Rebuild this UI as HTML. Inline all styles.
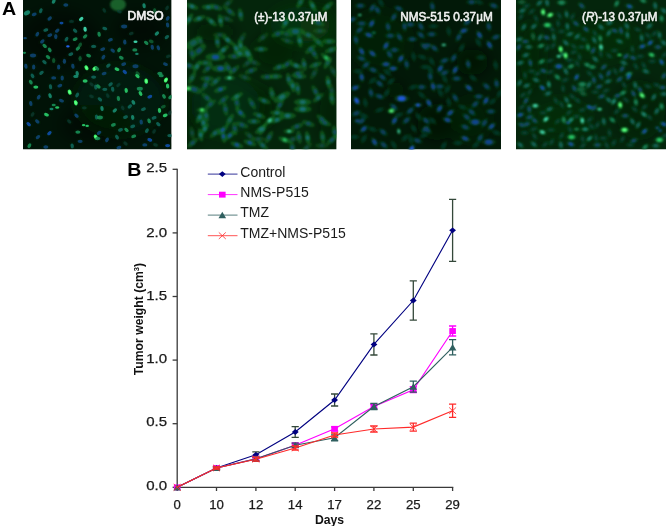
<!DOCTYPE html>
<html><head><meta charset="utf-8"><title>Figure</title>
<style>html,body{margin:0;padding:0;background:#fff}svg{display:block}</style></head>
<body><svg width="666" height="526" viewBox="0 0 666 526">
<rect width="666" height="526" fill="#fff"/>
<defs>
<filter id="blp1" filterUnits="userSpaceOnUse" x="0" y="-20" width="666" height="190"><feGaussianBlur stdDeviation="0.75"/></filter>
<filter id="blp2" filterUnits="userSpaceOnUse" x="0" y="-20" width="666" height="190"><feGaussianBlur stdDeviation="0.80"/></filter>
<filter id="blp3" filterUnits="userSpaceOnUse" x="0" y="-20" width="666" height="190"><feGaussianBlur stdDeviation="0.95"/></filter>
<filter id="blp4" filterUnits="userSpaceOnUse" x="0" y="-20" width="666" height="190"><feGaussianBlur stdDeviation="0.80"/></filter>
<filter id="bh" filterUnits="userSpaceOnUse" x="0" y="-20" width="666" height="190"><feGaussianBlur stdDeviation="1.2"/></filter>
<filter id="bb" filterUnits="userSpaceOnUse" x="-40" y="-60" width="746" height="270"><feGaussianBlur stdDeviation="7"/></filter>
<clipPath id="cp1"><rect x="23.0" y="0" width="148.6" height="149.5"/></clipPath>
<clipPath id="cp2"><rect x="187.0" y="0" width="149.6" height="149.5"/></clipPath>
<clipPath id="cp3"><rect x="351.0" y="0" width="150.0" height="149.5"/></clipPath>
<clipPath id="cp4"><rect x="516.0" y="0" width="150.0" height="149.5"/></clipPath>
</defs>
<g clip-path="url(#cp1)">
<rect x="23.0" y="0" width="148.6" height="149.5" fill="#011307"/>
<g filter="url(#bb)">
<ellipse cx="60.0" cy="40.0" rx="40.0" ry="30.0" fill="#000e05" opacity="0.40"/>
<ellipse cx="140.0" cy="30.0" rx="25.0" ry="18.0" fill="#000c04" opacity="0.40"/>
<ellipse cx="95.0" cy="125.0" rx="35.0" ry="20.0" fill="#000c04" opacity="0.35"/>
<ellipse cx="120.0" cy="100.0" rx="45.0" ry="35.0" fill="#062812" opacity="0.35"/>
</g>
<g filter="url(#bh)"><ellipse cx="53.7" cy="1.4" rx="4.0" ry="2.3" transform="rotate(-60 53.7 1.4)" fill="#083416" opacity="0.28"/><ellipse cx="65.8" cy="5.0" rx="4.0" ry="2.3" transform="rotate(0 65.8 5.0)" fill="#083416" opacity="0.25"/><ellipse cx="27.0" cy="12.8" rx="5.2" ry="3.0" transform="rotate(-30 27.0 12.8)" fill="#083416" opacity="0.28"/><ellipse cx="40.8" cy="10.7" rx="4.0" ry="2.3" transform="rotate(-70 40.8 10.7)" fill="#083416" opacity="0.25"/><ellipse cx="49.7" cy="18.5" rx="4.0" ry="2.3" transform="rotate(-40 49.7 18.5)" fill="#083416" opacity="0.25"/><ellipse cx="81.2" cy="19.0" rx="4.0" ry="2.3" transform="rotate(-40 81.2 19.0)" fill="#083416" opacity="0.28"/><ellipse cx="61.5" cy="23.1" rx="3.2" ry="1.8" transform="rotate(0 61.5 23.1)" fill="#083416" opacity="0.28"/><ellipse cx="71.5" cy="21.4" rx="4.0" ry="2.3" transform="rotate(0 71.5 21.4)" fill="#083416" opacity="0.17"/><ellipse cx="85.1" cy="29.2" rx="4.0" ry="2.3" transform="rotate(80 85.1 29.2)" fill="#083416" opacity="0.28"/><ellipse cx="45.8" cy="30.0" rx="4.0" ry="2.3" transform="rotate(-20 45.8 30.0)" fill="#083416" opacity="0.25"/><ellipse cx="57.2" cy="30.7" rx="4.0" ry="2.3" transform="rotate(-40 57.2 30.7)" fill="#083416" opacity="0.25"/><ellipse cx="75.1" cy="30.7" rx="4.0" ry="2.3" transform="rotate(40 75.1 30.7)" fill="#083416" opacity="0.25"/><ellipse cx="37.3" cy="34.2" rx="4.0" ry="2.3" transform="rotate(-60 37.3 34.2)" fill="#083416" opacity="0.25"/><ellipse cx="55.8" cy="36.4" rx="4.0" ry="2.3" transform="rotate(90 55.8 36.4)" fill="#083416" opacity="0.25"/><ellipse cx="85.1" cy="36.4" rx="4.0" ry="2.3" transform="rotate(-40 85.1 36.4)" fill="#083416" opacity="0.28"/><ellipse cx="25.1" cy="38.2" rx="2.8" ry="1.6" transform="rotate(0 25.1 38.2)" fill="#083416" opacity="0.25"/><ellipse cx="66.5" cy="39.2" rx="4.0" ry="2.3" transform="rotate(-60 66.5 39.2)" fill="#083416" opacity="0.25"/><ellipse cx="75.1" cy="39.2" rx="4.0" ry="2.3" transform="rotate(-20 75.1 39.2)" fill="#083416" opacity="0.28"/><ellipse cx="42.3" cy="41.4" rx="4.0" ry="2.3" transform="rotate(-40 42.3 41.4)" fill="#083416" opacity="0.25"/><ellipse cx="44.7" cy="45.9" rx="4.0" ry="2.3" transform="rotate(40 44.7 45.9)" fill="#083416" opacity="0.28"/><ellipse cx="67.9" cy="46.4" rx="2.8" ry="1.6" transform="rotate(0 67.9 46.4)" fill="#083416" opacity="0.28"/><ellipse cx="80.1" cy="44.9" rx="4.0" ry="2.3" transform="rotate(-60 80.1 44.9)" fill="#083416" opacity="0.28"/><ellipse cx="77.9" cy="48.5" rx="4.0" ry="2.3" transform="rotate(-40 77.9 48.5)" fill="#083416" opacity="0.28"/><ellipse cx="93.6" cy="46.4" rx="4.0" ry="2.3" transform="rotate(0 93.6 46.4)" fill="#083416" opacity="0.25"/><ellipse cx="49.7" cy="49.9" rx="4.0" ry="2.3" transform="rotate(60 49.7 49.9)" fill="#083416" opacity="0.28"/><ellipse cx="24.4" cy="52.8" rx="2.8" ry="1.6" transform="rotate(0 24.4 52.8)" fill="#083416" opacity="0.28"/><ellipse cx="33.0" cy="55.6" rx="4.8" ry="2.8" transform="rotate(0 33.0 55.6)" fill="#083416" opacity="0.25"/><ellipse cx="70.8" cy="54.2" rx="4.0" ry="2.3" transform="rotate(-20 70.8 54.2)" fill="#083416" opacity="0.25"/><ellipse cx="88.6" cy="55.6" rx="4.0" ry="2.3" transform="rotate(20 88.6 55.6)" fill="#083416" opacity="0.28"/><ellipse cx="48.0" cy="57.1" rx="4.0" ry="2.3" transform="rotate(40 48.0 57.1)" fill="#083416" opacity="0.28"/><ellipse cx="53.7" cy="60.6" rx="4.0" ry="2.3" transform="rotate(90 53.7 60.6)" fill="#083416" opacity="0.28"/><ellipse cx="80.1" cy="58.5" rx="4.0" ry="2.3" transform="rotate(90 80.1 58.5)" fill="#083416" opacity="0.28"/><ellipse cx="64.4" cy="61.3" rx="4.0" ry="2.3" transform="rotate(90 64.4 61.3)" fill="#083416" opacity="0.25"/><ellipse cx="44.4" cy="62.1" rx="4.0" ry="2.3" transform="rotate(40 44.4 62.1)" fill="#083416" opacity="0.25"/><ellipse cx="72.9" cy="66.3" rx="4.0" ry="2.3" transform="rotate(80 72.9 66.3)" fill="#083416" opacity="0.25"/><ellipse cx="33.7" cy="67.0" rx="4.0" ry="2.3" transform="rotate(90 33.7 67.0)" fill="#083416" opacity="0.25"/><ellipse cx="58.7" cy="67.0" rx="4.0" ry="2.3" transform="rotate(90 58.7 67.0)" fill="#083416" opacity="0.25"/><ellipse cx="25.9" cy="66.3" rx="4.0" ry="2.3" transform="rotate(80 25.9 66.3)" fill="#083416" opacity="0.25"/><ellipse cx="86.5" cy="67.8" rx="4.0" ry="2.3" transform="rotate(60 86.5 67.8)" fill="#083416" opacity="0.28"/><ellipse cx="94.8" cy="68.5" rx="4.0" ry="2.3" transform="rotate(-40 94.8 68.5)" fill="#083416" opacity="0.28"/><ellipse cx="41.5" cy="72.8" rx="4.0" ry="2.3" transform="rotate(-40 41.5 72.8)" fill="#083416" opacity="0.25"/><ellipse cx="77.2" cy="73.5" rx="4.0" ry="2.3" transform="rotate(80 77.2 73.5)" fill="#083416" opacity="0.28"/><ellipse cx="144.1" cy="5.7" rx="4.0" ry="2.3" transform="rotate(80 144.1 5.7)" fill="#083416" opacity="0.28"/><ellipse cx="154.8" cy="10.7" rx="4.0" ry="2.3" transform="rotate(80 154.8 10.7)" fill="#083416" opacity="0.28"/><ellipse cx="167.6" cy="25.0" rx="4.0" ry="2.3" transform="rotate(80 167.6 25.0)" fill="#083416" opacity="0.25"/><ellipse cx="124.1" cy="26.4" rx="4.8" ry="2.8" transform="rotate(0 124.1 26.4)" fill="#083416" opacity="0.25"/><ellipse cx="104.8" cy="28.5" rx="4.0" ry="2.3" transform="rotate(20 104.8 28.5)" fill="#083416" opacity="0.25"/><ellipse cx="156.9" cy="33.5" rx="4.0" ry="2.3" transform="rotate(-40 156.9 33.5)" fill="#083416" opacity="0.28"/><ellipse cx="99.1" cy="34.2" rx="4.0" ry="2.3" transform="rotate(80 99.1 34.2)" fill="#083416" opacity="0.28"/><ellipse cx="131.2" cy="33.5" rx="4.0" ry="2.3" transform="rotate(-20 131.2 33.5)" fill="#083416" opacity="0.17"/><ellipse cx="166.9" cy="37.1" rx="4.0" ry="2.3" transform="rotate(-40 166.9 37.1)" fill="#083416" opacity="0.25"/><ellipse cx="135.5" cy="41.8" rx="3.2" ry="1.8" transform="rotate(0 135.5 41.8)" fill="#083416" opacity="0.28"/><ellipse cx="146.2" cy="42.8" rx="4.0" ry="2.3" transform="rotate(40 146.2 42.8)" fill="#083416" opacity="0.28"/><ellipse cx="151.2" cy="41.4" rx="4.0" ry="2.3" transform="rotate(20 151.2 41.4)" fill="#083416" opacity="0.28"/><ellipse cx="124.8" cy="42.1" rx="4.0" ry="2.3" transform="rotate(80 124.8 42.1)" fill="#083416" opacity="0.25"/><ellipse cx="158.3" cy="47.8" rx="4.0" ry="2.3" transform="rotate(70 158.3 47.8)" fill="#083416" opacity="0.25"/><ellipse cx="102.7" cy="49.2" rx="4.0" ry="2.3" transform="rotate(-20 102.7 49.2)" fill="#083416" opacity="0.25"/><ellipse cx="119.1" cy="49.9" rx="4.0" ry="2.3" transform="rotate(-60 119.1 49.9)" fill="#083416" opacity="0.28"/><ellipse cx="134.8" cy="49.9" rx="4.0" ry="2.3" transform="rotate(0 134.8 49.9)" fill="#083416" opacity="0.28"/><ellipse cx="112.7" cy="50.6" rx="4.0" ry="2.3" transform="rotate(40 112.7 50.6)" fill="#083416" opacity="0.25"/><ellipse cx="136.9" cy="53.9" rx="2.8" ry="1.6" transform="rotate(0 136.9 53.9)" fill="#083416" opacity="0.28"/><ellipse cx="121.3" cy="57.8" rx="4.0" ry="2.3" transform="rotate(30 121.3 57.8)" fill="#083416" opacity="0.28"/><ellipse cx="168.3" cy="56.3" rx="4.0" ry="2.3" transform="rotate(-20 168.3 56.3)" fill="#083416" opacity="0.17"/><ellipse cx="103.4" cy="57.1" rx="4.0" ry="2.3" transform="rotate(-60 103.4 57.1)" fill="#083416" opacity="0.25"/><ellipse cx="165.5" cy="64.2" rx="4.0" ry="2.3" transform="rotate(20 165.5 64.2)" fill="#083416" opacity="0.25"/><ellipse cx="108.4" cy="65.6" rx="4.0" ry="2.3" transform="rotate(-40 108.4 65.6)" fill="#083416" opacity="0.25"/><ellipse cx="135.5" cy="66.3" rx="4.8" ry="2.8" transform="rotate(0 135.5 66.3)" fill="#083416" opacity="0.25"/><ellipse cx="117.0" cy="69.2" rx="4.0" ry="2.3" transform="rotate(20 117.0 69.2)" fill="#083416" opacity="0.28"/><ellipse cx="124.8" cy="72.0" rx="4.0" ry="2.3" transform="rotate(40 124.8 72.0)" fill="#083416" opacity="0.28"/><ellipse cx="104.1" cy="73.5" rx="4.0" ry="2.3" transform="rotate(-20 104.1 73.5)" fill="#083416" opacity="0.25"/><ellipse cx="137.7" cy="73.5" rx="4.0" ry="2.3" transform="rotate(40 137.7 73.5)" fill="#083416" opacity="0.28"/><ellipse cx="159.8" cy="73.5" rx="4.0" ry="2.3" transform="rotate(0 159.8 73.5)" fill="#083416" opacity="0.28"/><ellipse cx="97.0" cy="68.5" rx="4.0" ry="2.3" transform="rotate(40 97.0 68.5)" fill="#083416" opacity="0.28"/><ellipse cx="53.7" cy="77.9" rx="4.0" ry="2.3" transform="rotate(0 53.7 77.9)" fill="#083416" opacity="0.25"/><ellipse cx="62.2" cy="77.9" rx="4.0" ry="2.3" transform="rotate(90 62.2 77.9)" fill="#083416" opacity="0.25"/><ellipse cx="75.8" cy="76.4" rx="4.0" ry="2.3" transform="rotate(0 75.8 76.4)" fill="#083416" opacity="0.28"/><ellipse cx="85.1" cy="81.0" rx="4.0" ry="2.3" transform="rotate(0 85.1 81.0)" fill="#083416" opacity="0.28"/><ellipse cx="30.8" cy="82.1" rx="4.0" ry="2.3" transform="rotate(60 30.8 82.1)" fill="#083416" opacity="0.28"/><ellipse cx="35.8" cy="87.1" rx="4.0" ry="2.3" transform="rotate(0 35.8 87.1)" fill="#083416" opacity="0.28"/><ellipse cx="93.6" cy="77.1" rx="4.0" ry="2.3" transform="rotate(0 93.6 77.1)" fill="#083416" opacity="0.25"/><ellipse cx="95.8" cy="87.1" rx="4.0" ry="2.3" transform="rotate(80 95.8 87.1)" fill="#083416" opacity="0.25"/><ellipse cx="91.5" cy="84.3" rx="4.0" ry="2.3" transform="rotate(40 91.5 84.3)" fill="#083416" opacity="0.17"/><ellipse cx="69.6" cy="92.1" rx="4.0" ry="2.3" transform="rotate(70 69.6 92.1)" fill="#083416" opacity="0.28"/><ellipse cx="50.1" cy="95.7" rx="4.0" ry="2.3" transform="rotate(70 50.1 95.7)" fill="#083416" opacity="0.28"/><ellipse cx="77.2" cy="95.0" rx="4.0" ry="2.3" transform="rotate(-60 77.2 95.0)" fill="#083416" opacity="0.25"/><ellipse cx="38.7" cy="97.1" rx="4.0" ry="2.3" transform="rotate(-60 38.7 97.1)" fill="#083416" opacity="0.25"/><ellipse cx="91.5" cy="96.4" rx="4.0" ry="2.3" transform="rotate(20 91.5 96.4)" fill="#083416" opacity="0.17"/><ellipse cx="75.8" cy="102.8" rx="4.0" ry="2.3" transform="rotate(70 75.8 102.8)" fill="#083416" opacity="0.28"/><ellipse cx="30.8" cy="103.5" rx="4.0" ry="2.3" transform="rotate(80 30.8 103.5)" fill="#083416" opacity="0.25"/><ellipse cx="61.5" cy="100.7" rx="4.0" ry="2.3" transform="rotate(20 61.5 100.7)" fill="#083416" opacity="0.25"/><ellipse cx="53.7" cy="105.0" rx="3.2" ry="1.8" transform="rotate(0 53.7 105.0)" fill="#083416" opacity="0.28"/><ellipse cx="57.2" cy="107.5" rx="3.2" ry="1.8" transform="rotate(0 57.2 107.5)" fill="#083416" opacity="0.28"/><ellipse cx="51.5" cy="109.0" rx="3.2" ry="1.8" transform="rotate(0 51.5 109.0)" fill="#083416" opacity="0.28"/><ellipse cx="84.3" cy="107.8" rx="4.0" ry="2.3" transform="rotate(0 84.3 107.8)" fill="#083416" opacity="0.17"/><ellipse cx="46.5" cy="114.7" rx="4.0" ry="2.3" transform="rotate(20 46.5 114.7)" fill="#083416" opacity="0.28"/><ellipse cx="76.5" cy="115.7" rx="4.0" ry="2.3" transform="rotate(40 76.5 115.7)" fill="#083416" opacity="0.25"/><ellipse cx="96.5" cy="117.1" rx="4.0" ry="2.3" transform="rotate(80 96.5 117.1)" fill="#083416" opacity="0.25"/><ellipse cx="28.7" cy="124.2" rx="4.0" ry="2.3" transform="rotate(40 28.7 124.2)" fill="#083416" opacity="0.28"/><ellipse cx="37.3" cy="121.4" rx="4.0" ry="2.3" transform="rotate(40 37.3 121.4)" fill="#083416" opacity="0.25"/><ellipse cx="83.6" cy="125.2" rx="2.8" ry="1.6" transform="rotate(0 83.6 125.2)" fill="#083416" opacity="0.28"/><ellipse cx="87.2" cy="125.9" rx="2.8" ry="1.6" transform="rotate(0 87.2 125.9)" fill="#083416" opacity="0.28"/><ellipse cx="49.4" cy="133.2" rx="4.0" ry="2.3" transform="rotate(-40 49.4 133.2)" fill="#083416" opacity="0.28"/><ellipse cx="77.9" cy="132.1" rx="4.0" ry="2.3" transform="rotate(0 77.9 132.1)" fill="#083416" opacity="0.28"/><ellipse cx="38.0" cy="137.1" rx="4.0" ry="2.3" transform="rotate(-40 38.0 137.1)" fill="#083416" opacity="0.25"/><ellipse cx="95.8" cy="137.1" rx="4.0" ry="2.3" transform="rotate(60 95.8 137.1)" fill="#083416" opacity="0.28"/><ellipse cx="80.1" cy="141.3" rx="4.0" ry="2.3" transform="rotate(0 80.1 141.3)" fill="#083416" opacity="0.25"/><ellipse cx="29.4" cy="145.6" rx="4.0" ry="2.3" transform="rotate(-60 29.4 145.6)" fill="#083416" opacity="0.28"/><ellipse cx="72.2" cy="145.9" rx="4.0" ry="2.3" transform="rotate(80 72.2 145.9)" fill="#083416" opacity="0.25"/><ellipse cx="45.8" cy="147.0" rx="4.0" ry="2.3" transform="rotate(0 45.8 147.0)" fill="#083416" opacity="0.25"/><ellipse cx="137.4" cy="76.1" rx="4.0" ry="2.3" transform="rotate(40 137.4 76.1)" fill="#083416" opacity="0.28"/><ellipse cx="161.2" cy="75.7" rx="4.0" ry="2.3" transform="rotate(0 161.2 75.7)" fill="#083416" opacity="0.28"/><ellipse cx="146.2" cy="81.1" rx="4.0" ry="2.3" transform="rotate(80 146.2 81.1)" fill="#083416" opacity="0.28"/><ellipse cx="165.9" cy="80.0" rx="4.0" ry="2.3" transform="rotate(-60 165.9 80.0)" fill="#083416" opacity="0.28"/><ellipse cx="167.6" cy="86.1" rx="4.0" ry="2.3" transform="rotate(80 167.6 86.1)" fill="#083416" opacity="0.28"/><ellipse cx="98.4" cy="86.4" rx="4.0" ry="2.3" transform="rotate(40 98.4 86.4)" fill="#083416" opacity="0.28"/><ellipse cx="110.6" cy="84.3" rx="4.0" ry="2.3" transform="rotate(-40 110.6 84.3)" fill="#083416" opacity="0.25"/><ellipse cx="118.4" cy="85.0" rx="4.0" ry="2.3" transform="rotate(-40 118.4 85.0)" fill="#083416" opacity="0.17"/><ellipse cx="126.2" cy="90.4" rx="4.0" ry="2.3" transform="rotate(80 126.2 90.4)" fill="#083416" opacity="0.28"/><ellipse cx="139.8" cy="88.8" rx="4.8" ry="2.8" transform="rotate(0 139.8 88.8)" fill="#083416" opacity="0.28"/><ellipse cx="140.5" cy="93.5" rx="4.0" ry="2.3" transform="rotate(60 140.5 93.5)" fill="#083416" opacity="0.28"/><ellipse cx="104.8" cy="89.3" rx="4.0" ry="2.3" transform="rotate(0 104.8 89.3)" fill="#083416" opacity="0.25"/><ellipse cx="112.7" cy="89.3" rx="4.0" ry="2.3" transform="rotate(80 112.7 89.3)" fill="#083416" opacity="0.25"/><ellipse cx="164.0" cy="96.4" rx="4.0" ry="2.3" transform="rotate(60 164.0 96.4)" fill="#083416" opacity="0.28"/><ellipse cx="149.8" cy="96.7" rx="4.0" ry="2.3" transform="rotate(-20 149.8 96.7)" fill="#083416" opacity="0.28"/><ellipse cx="118.4" cy="98.5" rx="4.0" ry="2.3" transform="rotate(80 118.4 98.5)" fill="#083416" opacity="0.28"/><ellipse cx="107.7" cy="95.7" rx="4.0" ry="2.3" transform="rotate(60 107.7 95.7)" fill="#083416" opacity="0.17"/><ellipse cx="99.9" cy="99.3" rx="4.0" ry="2.3" transform="rotate(40 99.9 99.3)" fill="#083416" opacity="0.25"/><ellipse cx="170.5" cy="97.1" rx="4.0" ry="2.3" transform="rotate(-40 170.5 97.1)" fill="#083416" opacity="0.28"/><ellipse cx="133.4" cy="102.4" rx="4.0" ry="2.3" transform="rotate(60 133.4 102.4)" fill="#083416" opacity="0.28"/><ellipse cx="102.0" cy="108.5" rx="4.0" ry="2.3" transform="rotate(80 102.0 108.5)" fill="#083416" opacity="0.28"/><ellipse cx="114.8" cy="110.4" rx="4.0" ry="2.3" transform="rotate(-40 114.8 110.4)" fill="#083416" opacity="0.28"/><ellipse cx="122.7" cy="107.8" rx="4.0" ry="2.3" transform="rotate(60 122.7 107.8)" fill="#083416" opacity="0.17"/><ellipse cx="129.8" cy="106.4" rx="4.0" ry="2.3" transform="rotate(-40 129.8 106.4)" fill="#083416" opacity="0.25"/><ellipse cx="143.4" cy="109.2" rx="4.0" ry="2.3" transform="rotate(-20 143.4 109.2)" fill="#083416" opacity="0.25"/><ellipse cx="159.5" cy="110.4" rx="4.0" ry="2.3" transform="rotate(80 159.5 110.4)" fill="#083416" opacity="0.28"/><ellipse cx="163.3" cy="106.7" rx="4.0" ry="2.3" transform="rotate(-20 163.3 106.7)" fill="#083416" opacity="0.28"/><ellipse cx="165.2" cy="115.4" rx="4.0" ry="2.3" transform="rotate(-20 165.2 115.4)" fill="#083416" opacity="0.28"/><ellipse cx="169.8" cy="112.8" rx="4.0" ry="2.3" transform="rotate(-60 169.8 112.8)" fill="#083416" opacity="0.17"/><ellipse cx="99.9" cy="117.5" rx="4.8" ry="2.8" transform="rotate(0 99.9 117.5)" fill="#083416" opacity="0.28"/><ellipse cx="125.5" cy="117.1" rx="4.0" ry="2.3" transform="rotate(-20 125.5 117.1)" fill="#083416" opacity="0.25"/><ellipse cx="132.7" cy="117.4" rx="4.0" ry="2.3" transform="rotate(80 132.7 117.4)" fill="#083416" opacity="0.28"/><ellipse cx="154.1" cy="117.8" rx="4.0" ry="2.3" transform="rotate(-20 154.1 117.8)" fill="#083416" opacity="0.25"/><ellipse cx="149.1" cy="120.9" rx="4.0" ry="2.3" transform="rotate(70 149.1 120.9)" fill="#083416" opacity="0.28"/><ellipse cx="141.2" cy="122.1" rx="4.0" ry="2.3" transform="rotate(80 141.2 122.1)" fill="#083416" opacity="0.25"/><ellipse cx="113.4" cy="124.9" rx="4.0" ry="2.3" transform="rotate(-20 113.4 124.9)" fill="#083416" opacity="0.28"/><ellipse cx="158.3" cy="124.2" rx="4.0" ry="2.3" transform="rotate(40 158.3 124.2)" fill="#083416" opacity="0.25"/><ellipse cx="132.7" cy="126.4" rx="4.0" ry="2.3" transform="rotate(-20 132.7 126.4)" fill="#083416" opacity="0.25"/><ellipse cx="126.5" cy="129.9" rx="4.0" ry="2.3" transform="rotate(40 126.5 129.9)" fill="#083416" opacity="0.28"/><ellipse cx="120.5" cy="129.9" rx="4.0" ry="2.3" transform="rotate(-20 120.5 129.9)" fill="#083416" opacity="0.25"/><ellipse cx="146.9" cy="130.6" rx="4.0" ry="2.3" transform="rotate(-60 146.9 130.6)" fill="#083416" opacity="0.25"/><ellipse cx="154.1" cy="131.3" rx="4.0" ry="2.3" transform="rotate(-60 154.1 131.3)" fill="#083416" opacity="0.17"/><ellipse cx="99.1" cy="132.8" rx="4.0" ry="2.3" transform="rotate(-40 99.1 132.8)" fill="#083416" opacity="0.25"/><ellipse cx="133.7" cy="136.3" rx="4.0" ry="2.3" transform="rotate(-20 133.7 136.3)" fill="#083416" opacity="0.28"/><ellipse cx="117.0" cy="137.1" rx="4.0" ry="2.3" transform="rotate(60 117.0 137.1)" fill="#083416" opacity="0.25"/><ellipse cx="169.8" cy="135.6" rx="4.0" ry="2.3" transform="rotate(0 169.8 135.6)" fill="#083416" opacity="0.25"/><ellipse cx="97.7" cy="138.5" rx="4.0" ry="2.3" transform="rotate(0 97.7 138.5)" fill="#083416" opacity="0.28"/><ellipse cx="107.0" cy="139.9" rx="4.0" ry="2.3" transform="rotate(-60 107.0 139.9)" fill="#083416" opacity="0.25"/><ellipse cx="149.8" cy="139.9" rx="4.0" ry="2.3" transform="rotate(20 149.8 139.9)" fill="#083416" opacity="0.28"/><ellipse cx="144.8" cy="144.9" rx="4.0" ry="2.3" transform="rotate(0 144.8 144.9)" fill="#083416" opacity="0.25"/><ellipse cx="155.5" cy="144.9" rx="4.0" ry="2.3" transform="rotate(20 155.5 144.9)" fill="#083416" opacity="0.17"/><ellipse cx="167.6" cy="145.6" rx="4.0" ry="2.3" transform="rotate(0 167.6 145.6)" fill="#083416" opacity="0.28"/><ellipse cx="125.5" cy="143.5" rx="4.0" ry="2.3" transform="rotate(40 125.5 143.5)" fill="#083416" opacity="0.17"/><ellipse cx="119.4" cy="11.7" rx="4.0" ry="2.3" transform="rotate(20 119.4 11.7)" fill="#083416" opacity="0.17"/><ellipse cx="32.5" cy="75.8" rx="4.0" ry="2.3" transform="rotate(60 32.5 75.8)" fill="#083416" opacity="0.25"/><ellipse cx="34.2" cy="14.4" rx="4.0" ry="2.3" transform="rotate(-20 34.2 14.4)" fill="#083416" opacity="0.25"/><ellipse cx="167.1" cy="7.9" rx="4.0" ry="2.3" transform="rotate(-60 167.1 7.9)" fill="#083416" opacity="0.17"/><ellipse cx="69.2" cy="121.4" rx="4.0" ry="2.3" transform="rotate(40 69.2 121.4)" fill="#083416" opacity="0.17"/><ellipse cx="50.5" cy="86.8" rx="4.0" ry="2.3" transform="rotate(80 50.5 86.8)" fill="#083416" opacity="0.25"/><ellipse cx="104.3" cy="10.3" rx="4.0" ry="2.3" transform="rotate(60 104.3 10.3)" fill="#083416" opacity="0.17"/><ellipse cx="123.7" cy="64.1" rx="4.0" ry="2.3" transform="rotate(-20 123.7 64.1)" fill="#083416" opacity="0.25"/><ellipse cx="59.8" cy="85.7" rx="4.0" ry="2.3" transform="rotate(-20 59.8 85.7)" fill="#083416" opacity="0.25"/><ellipse cx="167.7" cy="18.4" rx="4.0" ry="2.3" transform="rotate(-60 167.7 18.4)" fill="#083416" opacity="0.25"/><ellipse cx="152.3" cy="47.3" rx="4.0" ry="2.3" transform="rotate(80 152.3 47.3)" fill="#083416" opacity="0.25"/><ellipse cx="118.9" cy="147.5" rx="4.0" ry="2.3" transform="rotate(-20 118.9 147.5)" fill="#083416" opacity="0.25"/><ellipse cx="32.6" cy="114.3" rx="4.0" ry="2.3" transform="rotate(-60 32.6 114.3)" fill="#083416" opacity="0.17"/><ellipse cx="49.8" cy="35.2" rx="4.0" ry="2.3" transform="rotate(-20 49.8 35.2)" fill="#083416" opacity="0.25"/><ellipse cx="110.4" cy="39.8" rx="4.0" ry="2.3" transform="rotate(-20 110.4 39.8)" fill="#083416" opacity="0.25"/><ellipse cx="118" cy="4.5" rx="8" ry="6.5" fill="#1f7a36" opacity=".75"/></g>
<g filter="url(#blp1)"><ellipse cx="53.7" cy="1.4" rx="2.50" ry="1.65" transform="rotate(-60 53.7 1.4)" fill="#1a8c70" opacity="0.90"/><ellipse cx="65.8" cy="5.0" rx="2.50" ry="1.65" transform="rotate(0 65.8 5.0)" fill="#0e4676" opacity="0.85"/><ellipse cx="27.0" cy="12.8" rx="3.25" ry="2.15" transform="rotate(-30 27.0 12.8)" fill="#1a8c70" opacity="0.90"/><ellipse cx="40.8" cy="10.7" rx="2.50" ry="1.65" transform="rotate(-70 40.8 10.7)" fill="#12685c" opacity="0.85"/><ellipse cx="49.7" cy="18.5" rx="2.50" ry="1.65" transform="rotate(-40 49.7 18.5)" fill="#0e4676" opacity="0.85"/><ellipse cx="81.2" cy="19.0" rx="2.50" ry="1.65" transform="rotate(-40 81.2 19.0)" fill="#3ccda5" opacity="1.00"/><ellipse cx="61.5" cy="23.1" rx="2.00" ry="1.32" transform="rotate(0 61.5 23.1)" fill="#124eaa" opacity="0.90"/><ellipse cx="71.5" cy="21.4" rx="2.50" ry="1.65" transform="rotate(0 71.5 21.4)" fill="#0d4440" opacity="0.55"/><ellipse cx="85.1" cy="29.2" rx="2.50" ry="1.65" transform="rotate(80 85.1 29.2)" fill="#3ccda5" opacity="1.00"/><ellipse cx="45.8" cy="30.0" rx="2.50" ry="1.65" transform="rotate(-20 45.8 30.0)" fill="#12685c" opacity="0.85"/><ellipse cx="57.2" cy="30.7" rx="2.50" ry="1.65" transform="rotate(-40 57.2 30.7)" fill="#0e4676" opacity="0.85"/><ellipse cx="75.1" cy="30.7" rx="2.50" ry="1.65" transform="rotate(40 75.1 30.7)" fill="#12685c" opacity="0.85"/><ellipse cx="37.3" cy="34.2" rx="2.50" ry="1.65" transform="rotate(-60 37.3 34.2)" fill="#0e4676" opacity="0.85"/><ellipse cx="55.8" cy="36.4" rx="2.50" ry="1.65" transform="rotate(90 55.8 36.4)" fill="#0e4676" opacity="0.85"/><ellipse cx="85.1" cy="36.4" rx="2.50" ry="1.65" transform="rotate(-40 85.1 36.4)" fill="#198e54" opacity="0.90"/><ellipse cx="25.1" cy="38.2" rx="1.75" ry="1.15" transform="rotate(0 25.1 38.2)" fill="#0e4676" opacity="0.85"/><ellipse cx="66.5" cy="39.2" rx="2.50" ry="1.65" transform="rotate(-60 66.5 39.2)" fill="#12685c" opacity="0.85"/><ellipse cx="75.1" cy="39.2" rx="2.50" ry="1.65" transform="rotate(-20 75.1 39.2)" fill="#198e54" opacity="0.90"/><ellipse cx="42.3" cy="41.4" rx="2.50" ry="1.65" transform="rotate(-40 42.3 41.4)" fill="#0e4676" opacity="0.85"/><ellipse cx="44.7" cy="45.9" rx="2.50" ry="1.65" transform="rotate(40 44.7 45.9)" fill="#198e54" opacity="0.90"/><ellipse cx="67.9" cy="46.4" rx="1.75" ry="1.15" transform="rotate(0 67.9 46.4)" fill="#225feb" opacity="1.00"/><ellipse cx="80.1" cy="44.9" rx="2.50" ry="1.65" transform="rotate(-60 80.1 44.9)" fill="#106232" opacity="0.80"/><ellipse cx="77.9" cy="48.5" rx="2.50" ry="1.65" transform="rotate(-40 77.9 48.5)" fill="#198e54" opacity="0.90"/><ellipse cx="93.6" cy="46.4" rx="2.50" ry="1.65" transform="rotate(0 93.6 46.4)" fill="#12685c" opacity="0.85"/><ellipse cx="49.7" cy="49.9" rx="2.50" ry="1.65" transform="rotate(60 49.7 49.9)" fill="#198e54" opacity="0.90"/><ellipse cx="24.4" cy="52.8" rx="1.75" ry="1.15" transform="rotate(0 24.4 52.8)" fill="#198e54" opacity="0.90"/><ellipse cx="33.0" cy="55.6" rx="3.00" ry="1.98" transform="rotate(0 33.0 55.6)" fill="#0e4676" opacity="0.85"/><ellipse cx="70.8" cy="54.2" rx="2.50" ry="1.65" transform="rotate(-20 70.8 54.2)" fill="#12685c" opacity="0.85"/><ellipse cx="88.6" cy="55.6" rx="2.50" ry="1.65" transform="rotate(20 88.6 55.6)" fill="#198e54" opacity="0.90"/><ellipse cx="48.0" cy="57.1" rx="2.50" ry="1.65" transform="rotate(40 48.0 57.1)" fill="#198e54" opacity="0.90"/><ellipse cx="53.7" cy="60.6" rx="2.50" ry="1.65" transform="rotate(90 53.7 60.6)" fill="#106232" opacity="0.80"/><ellipse cx="80.1" cy="58.5" rx="2.50" ry="1.65" transform="rotate(90 80.1 58.5)" fill="#106232" opacity="0.80"/><ellipse cx="64.4" cy="61.3" rx="2.50" ry="1.65" transform="rotate(90 64.4 61.3)" fill="#0e4676" opacity="0.85"/><ellipse cx="44.4" cy="62.1" rx="2.50" ry="1.65" transform="rotate(40 44.4 62.1)" fill="#12685c" opacity="0.85"/><ellipse cx="72.9" cy="66.3" rx="2.50" ry="1.65" transform="rotate(80 72.9 66.3)" fill="#0e4676" opacity="0.85"/><ellipse cx="33.7" cy="67.0" rx="2.50" ry="1.65" transform="rotate(90 33.7 67.0)" fill="#0e4676" opacity="0.85"/><ellipse cx="58.7" cy="67.0" rx="2.50" ry="1.65" transform="rotate(90 58.7 67.0)" fill="#0e4676" opacity="0.85"/><ellipse cx="25.9" cy="66.3" rx="2.50" ry="1.65" transform="rotate(80 25.9 66.3)" fill="#0e4676" opacity="0.85"/><ellipse cx="86.5" cy="67.8" rx="2.62" ry="1.81" transform="rotate(60 86.5 67.8)" fill="#3ef868" opacity="1.00"/><ellipse cx="86.5" cy="67.8" rx="1.31" ry="0.91" transform="rotate(60 86.5 67.8)" fill="#8cffb0" opacity=".55"/><ellipse cx="94.8" cy="68.5" rx="2.62" ry="1.81" transform="rotate(-40 94.8 68.5)" fill="#3ef868" opacity="1.00"/><ellipse cx="94.8" cy="68.5" rx="1.31" ry="0.91" transform="rotate(-40 94.8 68.5)" fill="#8cffb0" opacity=".55"/><ellipse cx="41.5" cy="72.8" rx="2.50" ry="1.65" transform="rotate(-40 41.5 72.8)" fill="#12685c" opacity="0.85"/><ellipse cx="77.2" cy="73.5" rx="2.50" ry="1.65" transform="rotate(80 77.2 73.5)" fill="#1a8c70" opacity="0.90"/><ellipse cx="144.1" cy="5.7" rx="2.50" ry="1.65" transform="rotate(80 144.1 5.7)" fill="#1a8c70" opacity="0.90"/><ellipse cx="154.8" cy="10.7" rx="2.50" ry="1.65" transform="rotate(80 154.8 10.7)" fill="#106232" opacity="0.80"/><ellipse cx="167.6" cy="25.0" rx="2.50" ry="1.65" transform="rotate(80 167.6 25.0)" fill="#0e4676" opacity="0.85"/><ellipse cx="124.1" cy="26.4" rx="3.00" ry="1.98" transform="rotate(0 124.1 26.4)" fill="#0e4676" opacity="0.85"/><ellipse cx="104.8" cy="28.5" rx="2.50" ry="1.65" transform="rotate(20 104.8 28.5)" fill="#12685c" opacity="0.85"/><ellipse cx="156.9" cy="33.5" rx="2.50" ry="1.65" transform="rotate(-40 156.9 33.5)" fill="#1a8c70" opacity="0.90"/><ellipse cx="99.1" cy="34.2" rx="2.50" ry="1.65" transform="rotate(80 99.1 34.2)" fill="#198e54" opacity="0.90"/><ellipse cx="131.2" cy="33.5" rx="2.50" ry="1.65" transform="rotate(-20 131.2 33.5)" fill="#0d4440" opacity="0.55"/><ellipse cx="166.9" cy="37.1" rx="2.50" ry="1.65" transform="rotate(-40 166.9 37.1)" fill="#12685c" opacity="0.85"/><ellipse cx="135.5" cy="41.8" rx="2.00" ry="1.32" transform="rotate(0 135.5 41.8)" fill="#3ccda5" opacity="1.00"/><ellipse cx="146.2" cy="42.8" rx="2.50" ry="1.65" transform="rotate(40 146.2 42.8)" fill="#198e54" opacity="0.90"/><ellipse cx="151.2" cy="41.4" rx="2.50" ry="1.65" transform="rotate(20 151.2 41.4)" fill="#106232" opacity="0.80"/><ellipse cx="124.8" cy="42.1" rx="2.50" ry="1.65" transform="rotate(80 124.8 42.1)" fill="#0e4676" opacity="0.85"/><ellipse cx="158.3" cy="47.8" rx="2.50" ry="1.65" transform="rotate(70 158.3 47.8)" fill="#0e4676" opacity="0.85"/><ellipse cx="102.7" cy="49.2" rx="2.50" ry="1.65" transform="rotate(-20 102.7 49.2)" fill="#0e4676" opacity="0.85"/><ellipse cx="119.1" cy="49.9" rx="2.50" ry="1.65" transform="rotate(-60 119.1 49.9)" fill="#198e54" opacity="0.90"/><ellipse cx="134.8" cy="49.9" rx="2.50" ry="1.65" transform="rotate(0 134.8 49.9)" fill="#198e54" opacity="0.90"/><ellipse cx="112.7" cy="50.6" rx="2.50" ry="1.65" transform="rotate(40 112.7 50.6)" fill="#0e4676" opacity="0.85"/><ellipse cx="136.9" cy="53.9" rx="1.75" ry="1.15" transform="rotate(0 136.9 53.9)" fill="#1a8c70" opacity="0.90"/><ellipse cx="121.3" cy="57.8" rx="2.50" ry="1.65" transform="rotate(30 121.3 57.8)" fill="#198e54" opacity="0.90"/><ellipse cx="168.3" cy="56.3" rx="2.50" ry="1.65" transform="rotate(-20 168.3 56.3)" fill="#0d4440" opacity="0.55"/><ellipse cx="103.4" cy="57.1" rx="2.50" ry="1.65" transform="rotate(-60 103.4 57.1)" fill="#0e4676" opacity="0.85"/><ellipse cx="165.5" cy="64.2" rx="2.50" ry="1.65" transform="rotate(20 165.5 64.2)" fill="#0e4676" opacity="0.85"/><ellipse cx="108.4" cy="65.6" rx="2.50" ry="1.65" transform="rotate(-40 108.4 65.6)" fill="#12685c" opacity="0.85"/><ellipse cx="135.5" cy="66.3" rx="3.00" ry="1.98" transform="rotate(0 135.5 66.3)" fill="#0e4676" opacity="0.85"/><ellipse cx="117.0" cy="69.2" rx="2.50" ry="1.65" transform="rotate(20 117.0 69.2)" fill="#26be62" opacity="1.00"/><ellipse cx="124.8" cy="72.0" rx="2.50" ry="1.65" transform="rotate(40 124.8 72.0)" fill="#124eaa" opacity="0.90"/><ellipse cx="104.1" cy="73.5" rx="2.50" ry="1.65" transform="rotate(-20 104.1 73.5)" fill="#0e4676" opacity="0.85"/><ellipse cx="137.7" cy="73.5" rx="2.50" ry="1.65" transform="rotate(40 137.7 73.5)" fill="#106232" opacity="0.80"/><ellipse cx="159.8" cy="73.5" rx="2.50" ry="1.65" transform="rotate(0 159.8 73.5)" fill="#198e54" opacity="0.90"/><ellipse cx="97.0" cy="68.5" rx="2.50" ry="1.65" transform="rotate(40 97.0 68.5)" fill="#198e54" opacity="0.90"/><ellipse cx="53.7" cy="77.9" rx="2.50" ry="1.65" transform="rotate(0 53.7 77.9)" fill="#0e4676" opacity="0.85"/><ellipse cx="62.2" cy="77.9" rx="2.50" ry="1.65" transform="rotate(90 62.2 77.9)" fill="#0e4676" opacity="0.85"/><ellipse cx="75.8" cy="76.4" rx="2.50" ry="1.65" transform="rotate(0 75.8 76.4)" fill="#1a8c70" opacity="0.90"/><ellipse cx="85.1" cy="81.0" rx="2.50" ry="1.65" transform="rotate(0 85.1 81.0)" fill="#26be62" opacity="1.00"/><ellipse cx="30.8" cy="82.1" rx="2.50" ry="1.65" transform="rotate(60 30.8 82.1)" fill="#198e54" opacity="0.90"/><ellipse cx="35.8" cy="87.1" rx="2.50" ry="1.65" transform="rotate(0 35.8 87.1)" fill="#26be62" opacity="1.00"/><ellipse cx="93.6" cy="77.1" rx="2.50" ry="1.65" transform="rotate(0 93.6 77.1)" fill="#12685c" opacity="0.85"/><ellipse cx="95.8" cy="87.1" rx="2.50" ry="1.65" transform="rotate(80 95.8 87.1)" fill="#12685c" opacity="0.85"/><ellipse cx="91.5" cy="84.3" rx="2.50" ry="1.65" transform="rotate(40 91.5 84.3)" fill="#0d4440" opacity="0.55"/><ellipse cx="69.6" cy="92.1" rx="2.62" ry="1.81" transform="rotate(70 69.6 92.1)" fill="#3ef868" opacity="1.00"/><ellipse cx="69.6" cy="92.1" rx="1.31" ry="0.91" transform="rotate(70 69.6 92.1)" fill="#8cffb0" opacity=".55"/><ellipse cx="50.1" cy="95.7" rx="2.50" ry="1.65" transform="rotate(70 50.1 95.7)" fill="#1a8c70" opacity="0.90"/><ellipse cx="77.2" cy="95.0" rx="2.50" ry="1.65" transform="rotate(-60 77.2 95.0)" fill="#12685c" opacity="0.85"/><ellipse cx="38.7" cy="97.1" rx="2.50" ry="1.65" transform="rotate(-60 38.7 97.1)" fill="#0e4676" opacity="0.85"/><ellipse cx="91.5" cy="96.4" rx="2.50" ry="1.65" transform="rotate(20 91.5 96.4)" fill="#0d4440" opacity="0.55"/><ellipse cx="75.8" cy="102.8" rx="2.62" ry="1.81" transform="rotate(70 75.8 102.8)" fill="#3ef868" opacity="1.00"/><ellipse cx="75.8" cy="102.8" rx="1.31" ry="0.91" transform="rotate(70 75.8 102.8)" fill="#8cffb0" opacity=".55"/><ellipse cx="30.8" cy="103.5" rx="2.50" ry="1.65" transform="rotate(80 30.8 103.5)" fill="#0e4676" opacity="0.85"/><ellipse cx="61.5" cy="100.7" rx="2.50" ry="1.65" transform="rotate(20 61.5 100.7)" fill="#0e4676" opacity="0.85"/><ellipse cx="53.7" cy="105.0" rx="2.00" ry="1.32" transform="rotate(0 53.7 105.0)" fill="#198e54" opacity="0.90"/><ellipse cx="57.2" cy="107.5" rx="2.00" ry="1.32" transform="rotate(0 57.2 107.5)" fill="#26be62" opacity="1.00"/><ellipse cx="51.5" cy="109.0" rx="2.00" ry="1.32" transform="rotate(0 51.5 109.0)" fill="#1a8c70" opacity="0.90"/><ellipse cx="84.3" cy="107.8" rx="2.50" ry="1.65" transform="rotate(0 84.3 107.8)" fill="#0d4440" opacity="0.55"/><ellipse cx="46.5" cy="114.7" rx="2.50" ry="1.65" transform="rotate(20 46.5 114.7)" fill="#26be62" opacity="1.00"/><ellipse cx="76.5" cy="115.7" rx="2.50" ry="1.65" transform="rotate(40 76.5 115.7)" fill="#0e4676" opacity="0.85"/><ellipse cx="96.5" cy="117.1" rx="2.50" ry="1.65" transform="rotate(80 96.5 117.1)" fill="#12685c" opacity="0.85"/><ellipse cx="28.7" cy="124.2" rx="2.50" ry="1.65" transform="rotate(40 28.7 124.2)" fill="#124eaa" opacity="0.90"/><ellipse cx="37.3" cy="121.4" rx="2.50" ry="1.65" transform="rotate(40 37.3 121.4)" fill="#0e4676" opacity="0.85"/><ellipse cx="83.6" cy="125.2" rx="1.75" ry="1.15" transform="rotate(0 83.6 125.2)" fill="#26be62" opacity="1.00"/><ellipse cx="87.2" cy="125.9" rx="1.75" ry="1.15" transform="rotate(0 87.2 125.9)" fill="#26be62" opacity="1.00"/><ellipse cx="49.4" cy="133.2" rx="2.50" ry="1.65" transform="rotate(-40 49.4 133.2)" fill="#124eaa" opacity="0.90"/><ellipse cx="77.9" cy="132.1" rx="2.50" ry="1.65" transform="rotate(0 77.9 132.1)" fill="#198e54" opacity="0.90"/><ellipse cx="38.0" cy="137.1" rx="2.50" ry="1.65" transform="rotate(-40 38.0 137.1)" fill="#0e4676" opacity="0.85"/><ellipse cx="95.8" cy="137.1" rx="2.62" ry="1.81" transform="rotate(60 95.8 137.1)" fill="#3ef868" opacity="1.00"/><ellipse cx="95.8" cy="137.1" rx="1.31" ry="0.91" transform="rotate(60 95.8 137.1)" fill="#8cffb0" opacity=".55"/><ellipse cx="80.1" cy="141.3" rx="2.50" ry="1.65" transform="rotate(0 80.1 141.3)" fill="#0e4676" opacity="0.85"/><ellipse cx="29.4" cy="145.6" rx="2.50" ry="1.65" transform="rotate(-60 29.4 145.6)" fill="#198e54" opacity="0.90"/><ellipse cx="72.2" cy="145.9" rx="2.50" ry="1.65" transform="rotate(80 72.2 145.9)" fill="#12685c" opacity="0.85"/><ellipse cx="45.8" cy="147.0" rx="2.50" ry="1.65" transform="rotate(0 45.8 147.0)" fill="#0e4676" opacity="0.85"/><ellipse cx="137.4" cy="76.1" rx="2.50" ry="1.65" transform="rotate(40 137.4 76.1)" fill="#26be62" opacity="1.00"/><ellipse cx="161.2" cy="75.7" rx="2.50" ry="1.65" transform="rotate(0 161.2 75.7)" fill="#198e54" opacity="0.90"/><ellipse cx="146.2" cy="81.1" rx="2.62" ry="1.81" transform="rotate(80 146.2 81.1)" fill="#3ef868" opacity="1.00"/><ellipse cx="146.2" cy="81.1" rx="1.31" ry="0.91" transform="rotate(80 146.2 81.1)" fill="#8cffb0" opacity=".55"/><ellipse cx="165.9" cy="80.0" rx="2.62" ry="1.81" transform="rotate(-60 165.9 80.0)" fill="#3ef868" opacity="1.00"/><ellipse cx="165.9" cy="80.0" rx="1.31" ry="0.91" transform="rotate(-60 165.9 80.0)" fill="#8cffb0" opacity=".55"/><ellipse cx="167.6" cy="86.1" rx="2.50" ry="1.65" transform="rotate(80 167.6 86.1)" fill="#26be62" opacity="1.00"/><ellipse cx="98.4" cy="86.4" rx="2.50" ry="1.65" transform="rotate(40 98.4 86.4)" fill="#198e54" opacity="0.90"/><ellipse cx="110.6" cy="84.3" rx="2.50" ry="1.65" transform="rotate(-40 110.6 84.3)" fill="#12685c" opacity="0.85"/><ellipse cx="118.4" cy="85.0" rx="2.50" ry="1.65" transform="rotate(-40 118.4 85.0)" fill="#0d4440" opacity="0.55"/><ellipse cx="126.2" cy="90.4" rx="2.50" ry="1.65" transform="rotate(80 126.2 90.4)" fill="#26be62" opacity="1.00"/><ellipse cx="139.8" cy="88.8" rx="3.00" ry="1.98" transform="rotate(0 139.8 88.8)" fill="#198e54" opacity="0.90"/><ellipse cx="140.5" cy="93.5" rx="2.50" ry="1.65" transform="rotate(60 140.5 93.5)" fill="#26be62" opacity="1.00"/><ellipse cx="104.8" cy="89.3" rx="2.50" ry="1.65" transform="rotate(0 104.8 89.3)" fill="#12685c" opacity="0.85"/><ellipse cx="112.7" cy="89.3" rx="2.50" ry="1.65" transform="rotate(80 112.7 89.3)" fill="#12685c" opacity="0.85"/><ellipse cx="164.0" cy="96.4" rx="2.50" ry="1.65" transform="rotate(60 164.0 96.4)" fill="#198e54" opacity="0.90"/><ellipse cx="149.8" cy="96.7" rx="2.50" ry="1.65" transform="rotate(-20 149.8 96.7)" fill="#124eaa" opacity="0.90"/><ellipse cx="118.4" cy="98.5" rx="2.50" ry="1.65" transform="rotate(80 118.4 98.5)" fill="#198e54" opacity="0.90"/><ellipse cx="107.7" cy="95.7" rx="2.50" ry="1.65" transform="rotate(60 107.7 95.7)" fill="#0d4440" opacity="0.55"/><ellipse cx="99.9" cy="99.3" rx="2.50" ry="1.65" transform="rotate(40 99.9 99.3)" fill="#12685c" opacity="0.85"/><ellipse cx="170.5" cy="97.1" rx="2.50" ry="1.65" transform="rotate(-40 170.5 97.1)" fill="#198e54" opacity="0.90"/><ellipse cx="133.4" cy="102.4" rx="2.50" ry="1.65" transform="rotate(60 133.4 102.4)" fill="#1a8c70" opacity="0.90"/><ellipse cx="102.0" cy="108.5" rx="2.50" ry="1.65" transform="rotate(80 102.0 108.5)" fill="#1a8c70" opacity="0.90"/><ellipse cx="114.8" cy="110.4" rx="2.50" ry="1.65" transform="rotate(-40 114.8 110.4)" fill="#1a8c70" opacity="0.90"/><ellipse cx="122.7" cy="107.8" rx="2.50" ry="1.65" transform="rotate(60 122.7 107.8)" fill="#0d4440" opacity="0.55"/><ellipse cx="129.8" cy="106.4" rx="2.50" ry="1.65" transform="rotate(-40 129.8 106.4)" fill="#12685c" opacity="0.85"/><ellipse cx="143.4" cy="109.2" rx="2.50" ry="1.65" transform="rotate(-20 143.4 109.2)" fill="#12685c" opacity="0.85"/><ellipse cx="159.5" cy="110.4" rx="2.50" ry="1.65" transform="rotate(80 159.5 110.4)" fill="#26be62" opacity="1.00"/><ellipse cx="163.3" cy="106.7" rx="2.50" ry="1.65" transform="rotate(-20 163.3 106.7)" fill="#106232" opacity="0.80"/><ellipse cx="165.2" cy="115.4" rx="2.50" ry="1.65" transform="rotate(-20 165.2 115.4)" fill="#26be62" opacity="1.00"/><ellipse cx="169.8" cy="112.8" rx="2.50" ry="1.65" transform="rotate(-60 169.8 112.8)" fill="#0d4440" opacity="0.55"/><ellipse cx="99.9" cy="117.5" rx="3.00" ry="1.98" transform="rotate(0 99.9 117.5)" fill="#198e54" opacity="0.90"/><ellipse cx="125.5" cy="117.1" rx="2.50" ry="1.65" transform="rotate(-20 125.5 117.1)" fill="#12685c" opacity="0.85"/><ellipse cx="132.7" cy="117.4" rx="2.50" ry="1.65" transform="rotate(80 132.7 117.4)" fill="#1a8c70" opacity="0.90"/><ellipse cx="154.1" cy="117.8" rx="2.50" ry="1.65" transform="rotate(-20 154.1 117.8)" fill="#12685c" opacity="0.85"/><ellipse cx="149.1" cy="120.9" rx="2.50" ry="1.65" transform="rotate(70 149.1 120.9)" fill="#198e54" opacity="0.90"/><ellipse cx="141.2" cy="122.1" rx="2.50" ry="1.65" transform="rotate(80 141.2 122.1)" fill="#0e4676" opacity="0.85"/><ellipse cx="113.4" cy="124.9" rx="2.50" ry="1.65" transform="rotate(-20 113.4 124.9)" fill="#198e54" opacity="0.90"/><ellipse cx="158.3" cy="124.2" rx="2.50" ry="1.65" transform="rotate(40 158.3 124.2)" fill="#12685c" opacity="0.85"/><ellipse cx="132.7" cy="126.4" rx="2.50" ry="1.65" transform="rotate(-20 132.7 126.4)" fill="#12685c" opacity="0.85"/><ellipse cx="126.5" cy="129.9" rx="2.50" ry="1.65" transform="rotate(40 126.5 129.9)" fill="#198e54" opacity="0.90"/><ellipse cx="120.5" cy="129.9" rx="2.50" ry="1.65" transform="rotate(-20 120.5 129.9)" fill="#12685c" opacity="0.85"/><ellipse cx="146.9" cy="130.6" rx="2.50" ry="1.65" transform="rotate(-60 146.9 130.6)" fill="#12685c" opacity="0.85"/><ellipse cx="154.1" cy="131.3" rx="2.50" ry="1.65" transform="rotate(-60 154.1 131.3)" fill="#0d4440" opacity="0.55"/><ellipse cx="99.1" cy="132.8" rx="2.50" ry="1.65" transform="rotate(-40 99.1 132.8)" fill="#0e4676" opacity="0.85"/><ellipse cx="133.7" cy="136.3" rx="2.50" ry="1.65" transform="rotate(-20 133.7 136.3)" fill="#198e54" opacity="0.90"/><ellipse cx="117.0" cy="137.1" rx="2.50" ry="1.65" transform="rotate(60 117.0 137.1)" fill="#12685c" opacity="0.85"/><ellipse cx="169.8" cy="135.6" rx="2.50" ry="1.65" transform="rotate(0 169.8 135.6)" fill="#12685c" opacity="0.85"/><ellipse cx="97.7" cy="138.5" rx="2.50" ry="1.65" transform="rotate(0 97.7 138.5)" fill="#198e54" opacity="0.90"/><ellipse cx="107.0" cy="139.9" rx="2.50" ry="1.65" transform="rotate(-60 107.0 139.9)" fill="#0e4676" opacity="0.85"/><ellipse cx="149.8" cy="139.9" rx="2.50" ry="1.65" transform="rotate(20 149.8 139.9)" fill="#124eaa" opacity="0.90"/><ellipse cx="144.8" cy="144.9" rx="2.50" ry="1.65" transform="rotate(0 144.8 144.9)" fill="#0e4676" opacity="0.85"/><ellipse cx="155.5" cy="144.9" rx="2.50" ry="1.65" transform="rotate(20 155.5 144.9)" fill="#0d4440" opacity="0.55"/><ellipse cx="167.6" cy="145.6" rx="2.50" ry="1.65" transform="rotate(0 167.6 145.6)" fill="#124eaa" opacity="0.90"/><ellipse cx="125.5" cy="143.5" rx="2.50" ry="1.65" transform="rotate(40 125.5 143.5)" fill="#0d4440" opacity="0.55"/><ellipse cx="119.4" cy="11.7" rx="2.50" ry="1.65" transform="rotate(20 119.4 11.7)" fill="#0d4440" opacity="0.55"/><ellipse cx="32.5" cy="75.8" rx="2.50" ry="1.65" transform="rotate(60 32.5 75.8)" fill="#12685c" opacity="0.85"/><ellipse cx="34.2" cy="14.4" rx="2.50" ry="1.65" transform="rotate(-20 34.2 14.4)" fill="#0e4676" opacity="0.85"/><ellipse cx="167.1" cy="7.9" rx="2.50" ry="1.65" transform="rotate(-60 167.1 7.9)" fill="#0d4440" opacity="0.55"/><ellipse cx="69.2" cy="121.4" rx="2.50" ry="1.65" transform="rotate(40 69.2 121.4)" fill="#0d4440" opacity="0.55"/><ellipse cx="50.5" cy="86.8" rx="2.50" ry="1.65" transform="rotate(80 50.5 86.8)" fill="#12685c" opacity="0.85"/><ellipse cx="104.3" cy="10.3" rx="2.50" ry="1.65" transform="rotate(60 104.3 10.3)" fill="#0d4440" opacity="0.55"/><ellipse cx="123.7" cy="64.1" rx="2.50" ry="1.65" transform="rotate(-20 123.7 64.1)" fill="#0e4676" opacity="0.85"/><ellipse cx="59.8" cy="85.7" rx="2.50" ry="1.65" transform="rotate(-20 59.8 85.7)" fill="#0e4676" opacity="0.85"/><ellipse cx="167.7" cy="18.4" rx="2.50" ry="1.65" transform="rotate(-60 167.7 18.4)" fill="#0e4676" opacity="0.85"/><ellipse cx="152.3" cy="47.3" rx="2.50" ry="1.65" transform="rotate(80 152.3 47.3)" fill="#0e4676" opacity="0.85"/><ellipse cx="118.9" cy="147.5" rx="2.50" ry="1.65" transform="rotate(-20 118.9 147.5)" fill="#0e4676" opacity="0.85"/><ellipse cx="32.6" cy="114.3" rx="2.50" ry="1.65" transform="rotate(-60 32.6 114.3)" fill="#0d4440" opacity="0.55"/><ellipse cx="49.8" cy="35.2" rx="2.50" ry="1.65" transform="rotate(-20 49.8 35.2)" fill="#0e4676" opacity="0.85"/><ellipse cx="110.4" cy="39.8" rx="2.50" ry="1.65" transform="rotate(-20 110.4 39.8)" fill="#0e4676" opacity="0.85"/></g>
</g>
<g clip-path="url(#cp2)">
<rect x="187.0" y="0" width="149.6" height="149.5" fill="#04250b"/>
<g filter="url(#bb)">
<ellipse cx="300.0" cy="25.0" rx="30.0" ry="18.0" fill="#0c4214" opacity="0.50"/>
<ellipse cx="275.0" cy="52.0" rx="22.0" ry="18.0" fill="#031e08" opacity="0.55"/>
<ellipse cx="262.0" cy="108.0" rx="14.0" ry="20.0" fill="#031c08" opacity="0.60"/>
<ellipse cx="215.0" cy="32.0" rx="22.0" ry="8.0" fill="#031c08" opacity="0.50"/>
<ellipse cx="318.0" cy="30.0" rx="18.0" ry="25.0" fill="#093a10" opacity="0.40"/>
<ellipse cx="225.0" cy="105.0" rx="35.0" ry="30.0" fill="#0a3e14" opacity="0.35"/>
<ellipse cx="330.0" cy="115.0" rx="10.0" ry="30.0" fill="#031e08" opacity="0.40"/>
<ellipse cx="192.0" cy="120.0" rx="8.0" ry="30.0" fill="#031c08" opacity="0.50"/>
<ellipse cx="320.0" cy="8.0" rx="20.0" ry="8.0" fill="#031e08" opacity="0.40"/>
</g>
<g filter="url(#bh)"><ellipse cx="192.0" cy="6.4" rx="6.8" ry="2.6" transform="rotate(20 192.0 6.4)" fill="#167428" opacity="0.60"/><ellipse cx="208.4" cy="7.1" rx="6.8" ry="2.6" transform="rotate(0 208.4 7.1)" fill="#167428" opacity="0.60"/><ellipse cx="229.8" cy="11.4" rx="6.8" ry="2.6" transform="rotate(40 229.8 11.4)" fill="#167428" opacity="0.54"/><ellipse cx="199.1" cy="18.5" rx="6.8" ry="2.6" transform="rotate(-20 199.1 18.5)" fill="#167428" opacity="0.60"/><ellipse cx="211.3" cy="21.4" rx="6.8" ry="2.6" transform="rotate(40 211.3 21.4)" fill="#167428" opacity="0.60"/><ellipse cx="220.5" cy="20.7" rx="6.8" ry="2.6" transform="rotate(80 220.5 20.7)" fill="#167428" opacity="0.60"/><ellipse cx="189.1" cy="19.3" rx="6.8" ry="2.6" transform="rotate(-60 189.1 19.3)" fill="#167428" opacity="0.60"/><ellipse cx="227.7" cy="39.9" rx="6.8" ry="2.6" transform="rotate(40 227.7 39.9)" fill="#167428" opacity="0.60"/><ellipse cx="193.4" cy="42.8" rx="10.2" ry="3.9" transform="rotate(-30 193.4 42.8)" fill="#167428" opacity="0.60"/><ellipse cx="240.5" cy="45.6" rx="6.8" ry="2.6" transform="rotate(80 240.5 45.6)" fill="#167428" opacity="0.60"/><ellipse cx="236.2" cy="48.5" rx="6.8" ry="2.6" transform="rotate(60 236.2 48.5)" fill="#167428" opacity="0.60"/><ellipse cx="223.4" cy="49.9" rx="6.8" ry="2.6" transform="rotate(-40 223.4 49.9)" fill="#167428" opacity="0.60"/><ellipse cx="199.1" cy="50.6" rx="8.8" ry="3.4" transform="rotate(-40 199.1 50.6)" fill="#167428" opacity="0.54"/><ellipse cx="192.0" cy="53.5" rx="6.8" ry="2.6" transform="rotate(80 192.0 53.5)" fill="#167428" opacity="0.54"/><ellipse cx="239.8" cy="53.5" rx="6.8" ry="2.6" transform="rotate(20 239.8 53.5)" fill="#167428" opacity="0.60"/><ellipse cx="247.6" cy="53.5" rx="8.8" ry="3.4" transform="rotate(60 247.6 53.5)" fill="#167428" opacity="0.60"/><ellipse cx="215.5" cy="57.1" rx="10.2" ry="3.9" transform="rotate(0 215.5 57.1)" fill="#167428" opacity="0.60"/><ellipse cx="234.1" cy="56.3" rx="6.8" ry="2.6" transform="rotate(0 234.1 56.3)" fill="#167428" opacity="0.54"/><ellipse cx="205.5" cy="62.8" rx="6.8" ry="2.6" transform="rotate(0 205.5 62.8)" fill="#167428" opacity="0.60"/><ellipse cx="197.0" cy="66.3" rx="6.8" ry="2.6" transform="rotate(-60 197.0 66.3)" fill="#167428" opacity="0.60"/><ellipse cx="207.7" cy="68.5" rx="6.8" ry="2.6" transform="rotate(-40 207.7 68.5)" fill="#167428" opacity="0.54"/><ellipse cx="220.5" cy="68.5" rx="8.8" ry="3.4" transform="rotate(0 220.5 68.5)" fill="#167428" opacity="0.60"/><ellipse cx="189.1" cy="65.6" rx="6.8" ry="2.6" transform="rotate(20 189.1 65.6)" fill="#167428" opacity="0.54"/><ellipse cx="234.1" cy="69.9" rx="6.8" ry="2.6" transform="rotate(-40 234.1 69.9)" fill="#167428" opacity="0.54"/><ellipse cx="251.2" cy="70.6" rx="6.8" ry="2.6" transform="rotate(-20 251.2 70.6)" fill="#167428" opacity="0.54"/><ellipse cx="228.4" cy="67.8" rx="6.8" ry="2.6" transform="rotate(60 228.4 67.8)" fill="#167428" opacity="0.54"/><ellipse cx="300.5" cy="2.1" rx="6.8" ry="2.6" transform="rotate(-60 300.5 2.1)" fill="#167428" opacity="0.60"/><ellipse cx="312.6" cy="5.7" rx="6.8" ry="2.6" transform="rotate(60 312.6 5.7)" fill="#167428" opacity="0.60"/><ellipse cx="327.6" cy="6.4" rx="6.8" ry="2.6" transform="rotate(-40 327.6 6.4)" fill="#167428" opacity="0.60"/><ellipse cx="285.5" cy="22.8" rx="6.8" ry="2.6" transform="rotate(-60 285.5 22.8)" fill="#167428" opacity="0.60"/><ellipse cx="318.3" cy="22.8" rx="6.8" ry="2.6" transform="rotate(20 318.3 22.8)" fill="#167428" opacity="0.54"/><ellipse cx="295.5" cy="31.4" rx="9.5" ry="3.6" transform="rotate(0 295.5 31.4)" fill="#167428" opacity="0.54"/><ellipse cx="308.4" cy="35.0" rx="6.8" ry="2.6" transform="rotate(20 308.4 35.0)" fill="#167428" opacity="0.54"/><ellipse cx="299.8" cy="40.7" rx="6.8" ry="2.6" transform="rotate(80 299.8 40.7)" fill="#167428" opacity="0.60"/><ellipse cx="318.3" cy="42.1" rx="6.8" ry="2.6" transform="rotate(40 318.3 42.1)" fill="#167428" opacity="0.60"/><ellipse cx="329.0" cy="41.4" rx="6.8" ry="2.6" transform="rotate(0 329.0 41.4)" fill="#167428" opacity="0.60"/><ellipse cx="310.5" cy="49.2" rx="6.8" ry="2.6" transform="rotate(-40 310.5 49.2)" fill="#167428" opacity="0.54"/><ellipse cx="331.2" cy="49.9" rx="6.8" ry="2.6" transform="rotate(-20 331.2 49.9)" fill="#167428" opacity="0.60"/><ellipse cx="314.1" cy="53.5" rx="6.8" ry="2.6" transform="rotate(60 314.1 53.5)" fill="#167428" opacity="0.54"/><ellipse cx="326.2" cy="57.8" rx="6.8" ry="2.6" transform="rotate(40 326.2 57.8)" fill="#167428" opacity="0.60"/><ellipse cx="304.1" cy="64.2" rx="6.8" ry="2.6" transform="rotate(80 304.1 64.2)" fill="#167428" opacity="0.54"/><ellipse cx="315.5" cy="64.9" rx="6.8" ry="2.6" transform="rotate(-20 315.5 64.9)" fill="#167428" opacity="0.60"/><ellipse cx="296.2" cy="65.6" rx="6.8" ry="2.6" transform="rotate(20 296.2 65.6)" fill="#167428" opacity="0.60"/><ellipse cx="279.1" cy="67.0" rx="6.8" ry="2.6" transform="rotate(-20 279.1 67.0)" fill="#167428" opacity="0.54"/><ellipse cx="327.6" cy="62.8" rx="6.8" ry="2.6" transform="rotate(-60 327.6 62.8)" fill="#167428" opacity="0.60"/><ellipse cx="333.3" cy="71.3" rx="6.8" ry="2.6" transform="rotate(60 333.3 71.3)" fill="#167428" opacity="0.36"/><ellipse cx="297.7" cy="73.5" rx="6.8" ry="2.6" transform="rotate(-20 297.7 73.5)" fill="#167428" opacity="0.54"/><ellipse cx="314.1" cy="73.5" rx="6.8" ry="2.6" transform="rotate(-60 314.1 73.5)" fill="#167428" opacity="0.36"/><ellipse cx="229.5" cy="77.9" rx="5.4" ry="2.1" transform="rotate(0 229.5 77.9)" fill="#167428" opacity="0.60"/><ellipse cx="188.1" cy="88.6" rx="5.4" ry="2.1" transform="rotate(0 188.1 88.6)" fill="#167428" opacity="0.60"/><ellipse cx="207.0" cy="78.6" rx="6.8" ry="2.6" transform="rotate(0 207.0 78.6)" fill="#167428" opacity="0.54"/><ellipse cx="215.5" cy="81.4" rx="6.8" ry="2.6" transform="rotate(-40 215.5 81.4)" fill="#167428" opacity="0.54"/><ellipse cx="192.0" cy="77.9" rx="6.8" ry="2.6" transform="rotate(-60 192.0 77.9)" fill="#167428" opacity="0.60"/><ellipse cx="205.5" cy="85.0" rx="6.8" ry="2.6" transform="rotate(-60 205.5 85.0)" fill="#167428" opacity="0.54"/><ellipse cx="220.5" cy="89.3" rx="6.8" ry="2.6" transform="rotate(-20 220.5 89.3)" fill="#167428" opacity="0.60"/><ellipse cx="194.1" cy="89.3" rx="8.8" ry="3.4" transform="rotate(20 194.1 89.3)" fill="#167428" opacity="0.54"/><ellipse cx="236.9" cy="96.4" rx="6.8" ry="2.6" transform="rotate(-30 236.9 96.4)" fill="#167428" opacity="0.60"/><ellipse cx="207.0" cy="97.8" rx="6.8" ry="2.6" transform="rotate(40 207.0 97.8)" fill="#167428" opacity="0.54"/><ellipse cx="223.4" cy="100.0" rx="6.8" ry="2.6" transform="rotate(-40 223.4 100.0)" fill="#167428" opacity="0.54"/><ellipse cx="210.5" cy="104.2" rx="6.8" ry="2.6" transform="rotate(-40 210.5 104.2)" fill="#167428" opacity="0.54"/><ellipse cx="236.9" cy="102.8" rx="6.8" ry="2.6" transform="rotate(80 236.9 102.8)" fill="#167428" opacity="0.54"/><ellipse cx="251.9" cy="103.5" rx="6.8" ry="2.6" transform="rotate(60 251.9 103.5)" fill="#167428" opacity="0.54"/><ellipse cx="202.0" cy="110.0" rx="5.4" ry="2.1" transform="rotate(0 202.0 110.0)" fill="#167428" opacity="0.60"/><ellipse cx="225.5" cy="109.2" rx="6.8" ry="2.6" transform="rotate(80 225.5 109.2)" fill="#167428" opacity="0.54"/><ellipse cx="240.5" cy="112.8" rx="6.8" ry="2.6" transform="rotate(45 240.5 112.8)" fill="#167428" opacity="0.60"/><ellipse cx="199.8" cy="117.1" rx="6.8" ry="2.6" transform="rotate(-60 199.8 117.1)" fill="#167428" opacity="0.60"/><ellipse cx="229.8" cy="119.9" rx="6.8" ry="2.6" transform="rotate(-60 229.8 119.9)" fill="#167428" opacity="0.60"/><ellipse cx="254.0" cy="121.4" rx="6.8" ry="2.6" transform="rotate(0 254.0 121.4)" fill="#167428" opacity="0.54"/><ellipse cx="203.4" cy="122.8" rx="6.8" ry="2.6" transform="rotate(80 203.4 122.8)" fill="#167428" opacity="0.60"/><ellipse cx="241.9" cy="124.9" rx="6.8" ry="2.6" transform="rotate(20 241.9 124.9)" fill="#167428" opacity="0.54"/><ellipse cx="204.8" cy="128.9" rx="6.8" ry="2.6" transform="rotate(-60 204.8 128.9)" fill="#167428" opacity="0.60"/><ellipse cx="234.8" cy="128.5" rx="6.8" ry="2.6" transform="rotate(80 234.8 128.5)" fill="#167428" opacity="0.54"/><ellipse cx="222.7" cy="129.9" rx="6.8" ry="2.6" transform="rotate(-40 222.7 129.9)" fill="#167428" opacity="0.60"/><ellipse cx="260.5" cy="129.2" rx="6.8" ry="2.6" transform="rotate(-40 260.5 129.2)" fill="#167428" opacity="0.60"/><ellipse cx="200.6" cy="134.9" rx="6.8" ry="2.6" transform="rotate(80 200.6 134.9)" fill="#167428" opacity="0.60"/><ellipse cx="229.8" cy="135.6" rx="6.8" ry="2.6" transform="rotate(-40 229.8 135.6)" fill="#167428" opacity="0.60"/><ellipse cx="223.4" cy="136.3" rx="6.8" ry="2.6" transform="rotate(80 223.4 136.3)" fill="#167428" opacity="0.60"/><ellipse cx="249.8" cy="142.8" rx="6.8" ry="2.6" transform="rotate(20 249.8 142.8)" fill="#167428" opacity="0.60"/><ellipse cx="192.7" cy="142.8" rx="6.8" ry="2.6" transform="rotate(-40 192.7 142.8)" fill="#167428" opacity="0.54"/><ellipse cx="236.9" cy="144.9" rx="6.8" ry="2.6" transform="rotate(20 236.9 144.9)" fill="#167428" opacity="0.60"/><ellipse cx="258.3" cy="139.2" rx="6.8" ry="2.6" transform="rotate(0 258.3 139.2)" fill="#167428" opacity="0.36"/><ellipse cx="299.8" cy="76.4" rx="6.8" ry="2.6" transform="rotate(0 299.8 76.4)" fill="#167428" opacity="0.54"/><ellipse cx="275.6" cy="76.4" rx="6.8" ry="2.6" transform="rotate(0 275.6 76.4)" fill="#167428" opacity="0.60"/><ellipse cx="328.3" cy="82.1" rx="6.8" ry="2.6" transform="rotate(80 328.3 82.1)" fill="#167428" opacity="0.60"/><ellipse cx="292.7" cy="85.7" rx="6.8" ry="2.6" transform="rotate(80 292.7 85.7)" fill="#167428" opacity="0.60"/><ellipse cx="297.7" cy="88.6" rx="6.8" ry="2.6" transform="rotate(80 297.7 88.6)" fill="#167428" opacity="0.54"/><ellipse cx="315.5" cy="91.4" rx="6.8" ry="2.6" transform="rotate(60 315.5 91.4)" fill="#167428" opacity="0.54"/><ellipse cx="272.0" cy="93.5" rx="6.8" ry="2.6" transform="rotate(80 272.0 93.5)" fill="#167428" opacity="0.60"/><ellipse cx="282.0" cy="97.1" rx="9.5" ry="3.6" transform="rotate(-30 282.0 97.1)" fill="#167428" opacity="0.60"/><ellipse cx="318.3" cy="97.8" rx="6.8" ry="2.6" transform="rotate(-40 318.3 97.8)" fill="#167428" opacity="0.54"/><ellipse cx="331.9" cy="98.5" rx="6.8" ry="2.6" transform="rotate(80 331.9 98.5)" fill="#167428" opacity="0.60"/><ellipse cx="264.1" cy="100.7" rx="6.8" ry="2.6" transform="rotate(20 264.1 100.7)" fill="#167428" opacity="0.54"/><ellipse cx="302.7" cy="102.1" rx="8.8" ry="3.4" transform="rotate(0 302.7 102.1)" fill="#167428" opacity="0.60"/><ellipse cx="279.8" cy="105.0" rx="6.8" ry="2.6" transform="rotate(-60 279.8 105.0)" fill="#167428" opacity="0.54"/><ellipse cx="302.7" cy="109.2" rx="8.8" ry="3.4" transform="rotate(0 302.7 109.2)" fill="#167428" opacity="0.60"/><ellipse cx="277.0" cy="112.8" rx="6.8" ry="2.6" transform="rotate(0 277.0 112.8)" fill="#167428" opacity="0.60"/><ellipse cx="287.7" cy="115.7" rx="8.2" ry="3.1" transform="rotate(0 287.7 115.7)" fill="#167428" opacity="0.60"/><ellipse cx="269.8" cy="120.4" rx="6.8" ry="2.6" transform="rotate(-40 269.8 120.4)" fill="#167428" opacity="0.60"/><ellipse cx="277.0" cy="119.9" rx="6.8" ry="2.6" transform="rotate(-20 277.0 119.9)" fill="#167428" opacity="0.60"/><ellipse cx="321.9" cy="119.2" rx="6.8" ry="2.6" transform="rotate(40 321.9 119.2)" fill="#167428" opacity="0.54"/><ellipse cx="308.4" cy="123.5" rx="6.8" ry="2.6" transform="rotate(20 308.4 123.5)" fill="#167428" opacity="0.54"/><ellipse cx="324.8" cy="122.8" rx="6.8" ry="2.6" transform="rotate(20 324.8 122.8)" fill="#167428" opacity="0.54"/><ellipse cx="297.0" cy="126.4" rx="6.8" ry="2.6" transform="rotate(-20 297.0 126.4)" fill="#167428" opacity="0.54"/><ellipse cx="262.7" cy="129.2" rx="6.8" ry="2.6" transform="rotate(-60 262.7 129.2)" fill="#167428" opacity="0.60"/><ellipse cx="289.1" cy="131.3" rx="5.4" ry="2.1" transform="rotate(0 289.1 131.3)" fill="#167428" opacity="0.60"/><ellipse cx="334.8" cy="132.1" rx="6.8" ry="2.6" transform="rotate(80 334.8 132.1)" fill="#167428" opacity="0.54"/><ellipse cx="269.1" cy="137.1" rx="6.8" ry="2.6" transform="rotate(-60 269.1 137.1)" fill="#167428" opacity="0.54"/><ellipse cx="299.1" cy="137.1" rx="6.8" ry="2.6" transform="rotate(80 299.1 137.1)" fill="#167428" opacity="0.54"/><ellipse cx="307.6" cy="137.8" rx="6.8" ry="2.6" transform="rotate(80 307.6 137.8)" fill="#167428" opacity="0.60"/><ellipse cx="322.6" cy="137.1" rx="6.8" ry="2.6" transform="rotate(80 322.6 137.1)" fill="#167428" opacity="0.60"/><ellipse cx="284.8" cy="139.9" rx="6.8" ry="2.6" transform="rotate(20 284.8 139.9)" fill="#167428" opacity="0.60"/><ellipse cx="331.9" cy="139.9" rx="6.8" ry="2.6" transform="rotate(-40 331.9 139.9)" fill="#167428" opacity="0.54"/><ellipse cx="321.9" cy="145.6" rx="6.8" ry="2.6" transform="rotate(0 321.9 145.6)" fill="#167428" opacity="0.36"/><ellipse cx="288.7" cy="79.3" rx="6.8" ry="2.6" transform="rotate(80 288.7 79.3)" fill="#167428" opacity="0.54"/><ellipse cx="259.2" cy="115.5" rx="6.8" ry="2.6" transform="rotate(20 259.2 115.5)" fill="#167428" opacity="0.54"/><ellipse cx="216.2" cy="7.2" rx="6.8" ry="2.6" transform="rotate(20 216.2 7.2)" fill="#167428" opacity="0.54"/><ellipse cx="192.1" cy="132.9" rx="6.8" ry="2.6" transform="rotate(80 192.1 132.9)" fill="#167428" opacity="0.36"/><ellipse cx="331.7" cy="90.4" rx="6.8" ry="2.6" transform="rotate(80 331.7 90.4)" fill="#167428" opacity="0.36"/><ellipse cx="217.4" cy="41.9" rx="6.8" ry="2.6" transform="rotate(80 217.4 41.9)" fill="#167428" opacity="0.54"/><ellipse cx="262.9" cy="37.5" rx="6.8" ry="2.6" transform="rotate(-40 262.9 37.5)" fill="#167428" opacity="0.36"/><ellipse cx="319.8" cy="30.9" rx="6.8" ry="2.6" transform="rotate(0 319.8 30.9)" fill="#167428" opacity="0.36"/><ellipse cx="254.1" cy="62.5" rx="6.8" ry="2.6" transform="rotate(20 254.1 62.5)" fill="#167428" opacity="0.36"/><ellipse cx="287.1" cy="64.2" rx="6.8" ry="2.6" transform="rotate(-40 287.1 64.2)" fill="#167428" opacity="0.54"/><ellipse cx="206.1" cy="115.6" rx="6.8" ry="2.6" transform="rotate(80 206.1 115.6)" fill="#167428" opacity="0.54"/><ellipse cx="242.0" cy="38.3" rx="6.8" ry="2.6" transform="rotate(-60 242.0 38.3)" fill="#167428" opacity="0.36"/><ellipse cx="286.6" cy="34.0" rx="6.8" ry="2.6" transform="rotate(20 286.6 34.0)" fill="#167428" opacity="0.36"/><ellipse cx="292.3" cy="147.6" rx="6.8" ry="2.6" transform="rotate(80 292.3 147.6)" fill="#167428" opacity="0.54"/><ellipse cx="247.6" cy="63.1" rx="6.8" ry="2.6" transform="rotate(-40 247.6 63.1)" fill="#167428" opacity="0.36"/><ellipse cx="240.6" cy="14.6" rx="6.8" ry="2.6" transform="rotate(80 240.6 14.6)" fill="#167428" opacity="0.54"/><ellipse cx="244.7" cy="77.3" rx="6.8" ry="2.6" transform="rotate(20 244.7 77.3)" fill="#167428" opacity="0.36"/><ellipse cx="200.4" cy="41.1" rx="6.8" ry="2.6" transform="rotate(60 200.4 41.1)" fill="#167428" opacity="0.36"/><ellipse cx="267.2" cy="76.9" rx="6.8" ry="2.6" transform="rotate(0 267.2 76.9)" fill="#167428" opacity="0.54"/><ellipse cx="261.0" cy="49.2" rx="6.8" ry="2.6" transform="rotate(0 261.0 49.2)" fill="#167428" opacity="0.54"/><ellipse cx="215.1" cy="133.1" rx="6.8" ry="2.6" transform="rotate(-40 215.1 133.1)" fill="#167428" opacity="0.54"/><ellipse cx="227.7" cy="3.5" rx="6.8" ry="2.6" transform="rotate(-40 227.7 3.5)" fill="#167428" opacity="0.36"/><ellipse cx="277.8" cy="33.8" rx="6.8" ry="2.6" transform="rotate(-20 277.8 33.8)" fill="#167428" opacity="0.54"/><ellipse cx="227.0" cy="18.9" rx="6.8" ry="2.6" transform="rotate(20 227.0 18.9)" fill="#167428" opacity="0.36"/><ellipse cx="249.7" cy="136.0" rx="6.8" ry="2.6" transform="rotate(40 249.7 136.0)" fill="#167428" opacity="0.36"/><ellipse cx="292.7" cy="139.4" rx="6.8" ry="2.6" transform="rotate(-20 292.7 139.4)" fill="#167428" opacity="0.36"/><ellipse cx="287.2" cy="40.9" rx="6.8" ry="2.6" transform="rotate(20 287.2 40.9)" fill="#167428" opacity="0.36"/><ellipse cx="306.6" cy="147.7" rx="6.8" ry="2.6" transform="rotate(-40 306.6 147.7)" fill="#167428" opacity="0.36"/><ellipse cx="262.6" cy="145.3" rx="6.8" ry="2.6" transform="rotate(40 262.6 145.3)" fill="#167428" opacity="0.54"/><ellipse cx="219.8" cy="34.9" rx="6.8" ry="2.6" transform="rotate(0 219.8 34.9)" fill="#167428" opacity="0.36"/></g>
<g filter="url(#blp2)"><ellipse cx="192.0" cy="6.4" rx="2.50" ry="1.65" transform="rotate(20 192.0 6.4)" fill="#177083" opacity="0.90"/><ellipse cx="208.4" cy="7.1" rx="2.50" ry="1.65" transform="rotate(0 208.4 7.1)" fill="#177083" opacity="0.90"/><ellipse cx="229.8" cy="11.4" rx="2.50" ry="1.65" transform="rotate(40 229.8 11.4)" fill="#0e4676" opacity="0.85"/><ellipse cx="199.1" cy="18.5" rx="2.50" ry="1.65" transform="rotate(-20 199.1 18.5)" fill="#177083" opacity="0.90"/><ellipse cx="211.3" cy="21.4" rx="2.50" ry="1.65" transform="rotate(40 211.3 21.4)" fill="#167175" opacity="0.90"/><ellipse cx="220.5" cy="20.7" rx="2.50" ry="1.65" transform="rotate(80 220.5 20.7)" fill="#167175" opacity="0.90"/><ellipse cx="189.1" cy="19.3" rx="2.50" ry="1.65" transform="rotate(-60 189.1 19.3)" fill="#167175" opacity="0.90"/><ellipse cx="227.7" cy="39.9" rx="2.50" ry="1.65" transform="rotate(40 227.7 39.9)" fill="#177083" opacity="0.90"/><ellipse cx="193.4" cy="42.8" rx="3.75" ry="2.47" transform="rotate(-30 193.4 42.8)" fill="#125b64" opacity="0.80"/><ellipse cx="240.5" cy="45.6" rx="2.50" ry="1.65" transform="rotate(80 240.5 45.6)" fill="#167175" opacity="0.90"/><ellipse cx="236.2" cy="48.5" rx="2.50" ry="1.65" transform="rotate(60 236.2 48.5)" fill="#177083" opacity="0.90"/><ellipse cx="223.4" cy="49.9" rx="2.50" ry="1.65" transform="rotate(-40 223.4 49.9)" fill="#177083" opacity="0.90"/><ellipse cx="199.1" cy="50.6" rx="3.25" ry="2.15" transform="rotate(-40 199.1 50.6)" fill="#0e4676" opacity="0.85"/><ellipse cx="192.0" cy="53.5" rx="2.50" ry="1.65" transform="rotate(80 192.0 53.5)" fill="#0e4676" opacity="0.85"/><ellipse cx="239.8" cy="53.5" rx="2.50" ry="1.65" transform="rotate(20 239.8 53.5)" fill="#177083" opacity="0.90"/><ellipse cx="247.6" cy="53.5" rx="3.25" ry="2.15" transform="rotate(60 247.6 53.5)" fill="#167175" opacity="0.90"/><ellipse cx="215.5" cy="57.1" rx="3.75" ry="2.47" transform="rotate(0 215.5 57.1)" fill="#124eaa" opacity="0.90"/><ellipse cx="234.1" cy="56.3" rx="2.50" ry="1.65" transform="rotate(0 234.1 56.3)" fill="#0e4676" opacity="0.85"/><ellipse cx="205.5" cy="62.8" rx="2.50" ry="1.65" transform="rotate(0 205.5 62.8)" fill="#125b64" opacity="0.80"/><ellipse cx="197.0" cy="66.3" rx="2.50" ry="1.65" transform="rotate(-60 197.0 66.3)" fill="#167175" opacity="0.90"/><ellipse cx="207.7" cy="68.5" rx="2.50" ry="1.65" transform="rotate(-40 207.7 68.5)" fill="#0e4676" opacity="0.85"/><ellipse cx="220.5" cy="68.5" rx="3.25" ry="2.15" transform="rotate(0 220.5 68.5)" fill="#124eaa" opacity="0.90"/><ellipse cx="189.1" cy="65.6" rx="2.50" ry="1.65" transform="rotate(20 189.1 65.6)" fill="#0e4676" opacity="0.85"/><ellipse cx="234.1" cy="69.9" rx="2.50" ry="1.65" transform="rotate(-40 234.1 69.9)" fill="#0e4676" opacity="0.85"/><ellipse cx="251.2" cy="70.6" rx="2.50" ry="1.65" transform="rotate(-20 251.2 70.6)" fill="#0e4676" opacity="0.85"/><ellipse cx="228.4" cy="67.8" rx="2.50" ry="1.65" transform="rotate(60 228.4 67.8)" fill="#0e4676" opacity="0.85"/><ellipse cx="300.5" cy="2.1" rx="2.50" ry="1.65" transform="rotate(-60 300.5 2.1)" fill="#125b64" opacity="0.80"/><ellipse cx="312.6" cy="5.7" rx="2.50" ry="1.65" transform="rotate(60 312.6 5.7)" fill="#167175" opacity="0.90"/><ellipse cx="327.6" cy="6.4" rx="2.50" ry="1.65" transform="rotate(-40 327.6 6.4)" fill="#125b64" opacity="0.80"/><ellipse cx="285.5" cy="22.8" rx="2.50" ry="1.65" transform="rotate(-60 285.5 22.8)" fill="#177083" opacity="0.90"/><ellipse cx="318.3" cy="22.8" rx="2.50" ry="1.65" transform="rotate(20 318.3 22.8)" fill="#0e4676" opacity="0.85"/><ellipse cx="295.5" cy="31.4" rx="3.50" ry="2.31" transform="rotate(0 295.5 31.4)" fill="#135e79" opacity="0.85"/><ellipse cx="308.4" cy="35.0" rx="2.50" ry="1.65" transform="rotate(20 308.4 35.0)" fill="#135e79" opacity="0.85"/><ellipse cx="299.8" cy="40.7" rx="2.50" ry="1.65" transform="rotate(80 299.8 40.7)" fill="#177083" opacity="0.90"/><ellipse cx="318.3" cy="42.1" rx="2.50" ry="1.65" transform="rotate(40 318.3 42.1)" fill="#125b64" opacity="0.80"/><ellipse cx="329.0" cy="41.4" rx="2.50" ry="1.65" transform="rotate(0 329.0 41.4)" fill="#125b64" opacity="0.80"/><ellipse cx="310.5" cy="49.2" rx="2.50" ry="1.65" transform="rotate(-40 310.5 49.2)" fill="#0e4676" opacity="0.85"/><ellipse cx="331.2" cy="49.9" rx="2.50" ry="1.65" transform="rotate(-20 331.2 49.9)" fill="#125b64" opacity="0.80"/><ellipse cx="314.1" cy="53.5" rx="2.50" ry="1.65" transform="rotate(60 314.1 53.5)" fill="#0e4676" opacity="0.85"/><ellipse cx="326.2" cy="57.8" rx="2.50" ry="1.65" transform="rotate(40 326.2 57.8)" fill="#26be62" opacity="1.00"/><ellipse cx="304.1" cy="64.2" rx="2.50" ry="1.65" transform="rotate(80 304.1 64.2)" fill="#135e79" opacity="0.85"/><ellipse cx="315.5" cy="64.9" rx="2.50" ry="1.65" transform="rotate(-20 315.5 64.9)" fill="#125b64" opacity="0.80"/><ellipse cx="296.2" cy="65.6" rx="2.50" ry="1.65" transform="rotate(20 296.2 65.6)" fill="#177083" opacity="0.90"/><ellipse cx="279.1" cy="67.0" rx="2.50" ry="1.65" transform="rotate(-20 279.1 67.0)" fill="#135e79" opacity="0.85"/><ellipse cx="327.6" cy="62.8" rx="2.50" ry="1.65" transform="rotate(-60 327.6 62.8)" fill="#125b64" opacity="0.80"/><ellipse cx="333.3" cy="71.3" rx="2.50" ry="1.65" transform="rotate(60 333.3 71.3)" fill="#104c6b" opacity="0.55"/><ellipse cx="297.7" cy="73.5" rx="2.50" ry="1.65" transform="rotate(-20 297.7 73.5)" fill="#0e4676" opacity="0.85"/><ellipse cx="314.1" cy="73.5" rx="2.50" ry="1.65" transform="rotate(-60 314.1 73.5)" fill="#104c6b" opacity="0.55"/><ellipse cx="229.5" cy="77.9" rx="2.00" ry="1.32" transform="rotate(0 229.5 77.9)" fill="#3ccda5" opacity="1.00"/><ellipse cx="188.1" cy="88.6" rx="2.10" ry="1.45" transform="rotate(0 188.1 88.6)" fill="#3ef868" opacity="1.00"/><ellipse cx="188.1" cy="88.6" rx="1.05" ry="0.73" transform="rotate(0 188.1 88.6)" fill="#8cffb0" opacity=".55"/><ellipse cx="207.0" cy="78.6" rx="2.50" ry="1.65" transform="rotate(0 207.0 78.6)" fill="#0e4676" opacity="0.85"/><ellipse cx="215.5" cy="81.4" rx="2.50" ry="1.65" transform="rotate(-40 215.5 81.4)" fill="#135e79" opacity="0.85"/><ellipse cx="192.0" cy="77.9" rx="2.50" ry="1.65" transform="rotate(-60 192.0 77.9)" fill="#125b64" opacity="0.80"/><ellipse cx="205.5" cy="85.0" rx="2.50" ry="1.65" transform="rotate(-60 205.5 85.0)" fill="#0e4676" opacity="0.85"/><ellipse cx="220.5" cy="89.3" rx="2.50" ry="1.65" transform="rotate(-20 220.5 89.3)" fill="#124eaa" opacity="0.90"/><ellipse cx="194.1" cy="89.3" rx="3.25" ry="2.15" transform="rotate(20 194.1 89.3)" fill="#0e4676" opacity="0.85"/><ellipse cx="236.9" cy="96.4" rx="2.50" ry="1.65" transform="rotate(-30 236.9 96.4)" fill="#167175" opacity="0.90"/><ellipse cx="207.0" cy="97.8" rx="2.50" ry="1.65" transform="rotate(40 207.0 97.8)" fill="#0e4676" opacity="0.85"/><ellipse cx="223.4" cy="100.0" rx="2.50" ry="1.65" transform="rotate(-40 223.4 100.0)" fill="#0e4676" opacity="0.85"/><ellipse cx="210.5" cy="104.2" rx="2.50" ry="1.65" transform="rotate(-40 210.5 104.2)" fill="#0e4676" opacity="0.85"/><ellipse cx="236.9" cy="102.8" rx="2.50" ry="1.65" transform="rotate(80 236.9 102.8)" fill="#0e4676" opacity="0.85"/><ellipse cx="251.9" cy="103.5" rx="2.50" ry="1.65" transform="rotate(60 251.9 103.5)" fill="#0e4676" opacity="0.85"/><ellipse cx="202.0" cy="110.0" rx="2.10" ry="1.45" transform="rotate(0 202.0 110.0)" fill="#3ef868" opacity="1.00"/><ellipse cx="202.0" cy="110.0" rx="1.05" ry="0.73" transform="rotate(0 202.0 110.0)" fill="#8cffb0" opacity=".55"/><ellipse cx="225.5" cy="109.2" rx="2.50" ry="1.65" transform="rotate(80 225.5 109.2)" fill="#0e4676" opacity="0.85"/><ellipse cx="240.5" cy="112.8" rx="2.50" ry="1.65" transform="rotate(45 240.5 112.8)" fill="#124eaa" opacity="0.90"/><ellipse cx="199.8" cy="117.1" rx="2.50" ry="1.65" transform="rotate(-60 199.8 117.1)" fill="#177083" opacity="0.90"/><ellipse cx="229.8" cy="119.9" rx="2.50" ry="1.65" transform="rotate(-60 229.8 119.9)" fill="#125b64" opacity="0.80"/><ellipse cx="254.0" cy="121.4" rx="2.50" ry="1.65" transform="rotate(0 254.0 121.4)" fill="#135e79" opacity="0.85"/><ellipse cx="203.4" cy="122.8" rx="2.50" ry="1.65" transform="rotate(80 203.4 122.8)" fill="#177083" opacity="0.90"/><ellipse cx="241.9" cy="124.9" rx="2.50" ry="1.65" transform="rotate(20 241.9 124.9)" fill="#0e4676" opacity="0.85"/><ellipse cx="204.8" cy="128.9" rx="2.50" ry="1.65" transform="rotate(-60 204.8 128.9)" fill="#177083" opacity="0.90"/><ellipse cx="234.8" cy="128.5" rx="2.50" ry="1.65" transform="rotate(80 234.8 128.5)" fill="#0e4676" opacity="0.85"/><ellipse cx="222.7" cy="129.9" rx="2.50" ry="1.65" transform="rotate(-40 222.7 129.9)" fill="#124eaa" opacity="0.90"/><ellipse cx="260.5" cy="129.2" rx="2.50" ry="1.65" transform="rotate(-40 260.5 129.2)" fill="#167175" opacity="0.90"/><ellipse cx="200.6" cy="134.9" rx="2.50" ry="1.65" transform="rotate(80 200.6 134.9)" fill="#177083" opacity="0.90"/><ellipse cx="229.8" cy="135.6" rx="2.50" ry="1.65" transform="rotate(-40 229.8 135.6)" fill="#124eaa" opacity="0.90"/><ellipse cx="223.4" cy="136.3" rx="2.50" ry="1.65" transform="rotate(80 223.4 136.3)" fill="#124eaa" opacity="0.90"/><ellipse cx="249.8" cy="142.8" rx="2.50" ry="1.65" transform="rotate(20 249.8 142.8)" fill="#124eaa" opacity="0.90"/><ellipse cx="192.7" cy="142.8" rx="2.50" ry="1.65" transform="rotate(-40 192.7 142.8)" fill="#0e4676" opacity="0.85"/><ellipse cx="236.9" cy="144.9" rx="2.50" ry="1.65" transform="rotate(20 236.9 144.9)" fill="#124eaa" opacity="0.90"/><ellipse cx="258.3" cy="139.2" rx="2.50" ry="1.65" transform="rotate(0 258.3 139.2)" fill="#104c6b" opacity="0.55"/><ellipse cx="299.8" cy="76.4" rx="2.50" ry="1.65" transform="rotate(0 299.8 76.4)" fill="#135e79" opacity="0.85"/><ellipse cx="275.6" cy="76.4" rx="2.50" ry="1.65" transform="rotate(0 275.6 76.4)" fill="#125b64" opacity="0.80"/><ellipse cx="328.3" cy="82.1" rx="2.50" ry="1.65" transform="rotate(80 328.3 82.1)" fill="#167175" opacity="0.90"/><ellipse cx="292.7" cy="85.7" rx="2.50" ry="1.65" transform="rotate(80 292.7 85.7)" fill="#177083" opacity="0.90"/><ellipse cx="297.7" cy="88.6" rx="2.50" ry="1.65" transform="rotate(80 297.7 88.6)" fill="#135e79" opacity="0.85"/><ellipse cx="315.5" cy="91.4" rx="2.50" ry="1.65" transform="rotate(60 315.5 91.4)" fill="#0e4676" opacity="0.85"/><ellipse cx="272.0" cy="93.5" rx="2.50" ry="1.65" transform="rotate(80 272.0 93.5)" fill="#125b64" opacity="0.80"/><ellipse cx="282.0" cy="97.1" rx="3.50" ry="2.31" transform="rotate(-30 282.0 97.1)" fill="#167175" opacity="0.90"/><ellipse cx="318.3" cy="97.8" rx="2.50" ry="1.65" transform="rotate(-40 318.3 97.8)" fill="#135e79" opacity="0.85"/><ellipse cx="331.9" cy="98.5" rx="2.50" ry="1.65" transform="rotate(80 331.9 98.5)" fill="#125b64" opacity="0.80"/><ellipse cx="264.1" cy="100.7" rx="2.50" ry="1.65" transform="rotate(20 264.1 100.7)" fill="#135e79" opacity="0.85"/><ellipse cx="302.7" cy="102.1" rx="3.25" ry="2.15" transform="rotate(0 302.7 102.1)" fill="#167175" opacity="0.90"/><ellipse cx="279.8" cy="105.0" rx="2.50" ry="1.65" transform="rotate(-60 279.8 105.0)" fill="#0e4676" opacity="0.85"/><ellipse cx="302.7" cy="109.2" rx="3.25" ry="2.15" transform="rotate(0 302.7 109.2)" fill="#177083" opacity="0.90"/><ellipse cx="277.0" cy="112.8" rx="2.50" ry="1.65" transform="rotate(0 277.0 112.8)" fill="#177083" opacity="0.90"/><ellipse cx="287.7" cy="115.7" rx="3.00" ry="1.98" transform="rotate(0 287.7 115.7)" fill="#177083" opacity="0.90"/><ellipse cx="269.8" cy="120.4" rx="2.50" ry="1.65" transform="rotate(-40 269.8 120.4)" fill="#3ccda5" opacity="1.00"/><ellipse cx="277.0" cy="119.9" rx="2.50" ry="1.65" transform="rotate(-20 277.0 119.9)" fill="#177083" opacity="0.90"/><ellipse cx="321.9" cy="119.2" rx="2.50" ry="1.65" transform="rotate(40 321.9 119.2)" fill="#0e4676" opacity="0.85"/><ellipse cx="308.4" cy="123.5" rx="2.50" ry="1.65" transform="rotate(20 308.4 123.5)" fill="#0e4676" opacity="0.85"/><ellipse cx="324.8" cy="122.8" rx="2.50" ry="1.65" transform="rotate(20 324.8 122.8)" fill="#0e4676" opacity="0.85"/><ellipse cx="297.0" cy="126.4" rx="2.50" ry="1.65" transform="rotate(-20 297.0 126.4)" fill="#0e4676" opacity="0.85"/><ellipse cx="262.7" cy="129.2" rx="2.50" ry="1.65" transform="rotate(-60 262.7 129.2)" fill="#167175" opacity="0.90"/><ellipse cx="289.1" cy="131.3" rx="2.00" ry="1.32" transform="rotate(0 289.1 131.3)" fill="#3ccda5" opacity="1.00"/><ellipse cx="334.8" cy="132.1" rx="2.50" ry="1.65" transform="rotate(80 334.8 132.1)" fill="#0e4676" opacity="0.85"/><ellipse cx="269.1" cy="137.1" rx="2.50" ry="1.65" transform="rotate(-60 269.1 137.1)" fill="#0e4676" opacity="0.85"/><ellipse cx="299.1" cy="137.1" rx="2.50" ry="1.65" transform="rotate(80 299.1 137.1)" fill="#0e4676" opacity="0.85"/><ellipse cx="307.6" cy="137.8" rx="2.50" ry="1.65" transform="rotate(80 307.6 137.8)" fill="#177083" opacity="0.90"/><ellipse cx="322.6" cy="137.1" rx="2.50" ry="1.65" transform="rotate(80 322.6 137.1)" fill="#125b64" opacity="0.80"/><ellipse cx="284.8" cy="139.9" rx="2.50" ry="1.65" transform="rotate(20 284.8 139.9)" fill="#26be62" opacity="1.00"/><ellipse cx="331.9" cy="139.9" rx="2.50" ry="1.65" transform="rotate(-40 331.9 139.9)" fill="#0e4676" opacity="0.85"/><ellipse cx="321.9" cy="145.6" rx="2.50" ry="1.65" transform="rotate(0 321.9 145.6)" fill="#104c6b" opacity="0.55"/><ellipse cx="288.7" cy="79.3" rx="2.50" ry="1.65" transform="rotate(80 288.7 79.3)" fill="#135e79" opacity="0.85"/><ellipse cx="259.2" cy="115.5" rx="2.50" ry="1.65" transform="rotate(20 259.2 115.5)" fill="#135e79" opacity="0.85"/><ellipse cx="216.2" cy="7.2" rx="2.50" ry="1.65" transform="rotate(20 216.2 7.2)" fill="#0e4676" opacity="0.85"/><ellipse cx="192.1" cy="132.9" rx="2.50" ry="1.65" transform="rotate(80 192.1 132.9)" fill="#104c6b" opacity="0.55"/><ellipse cx="331.7" cy="90.4" rx="2.50" ry="1.65" transform="rotate(80 331.7 90.4)" fill="#104c6b" opacity="0.55"/><ellipse cx="217.4" cy="41.9" rx="2.50" ry="1.65" transform="rotate(80 217.4 41.9)" fill="#135e79" opacity="0.85"/><ellipse cx="262.9" cy="37.5" rx="2.50" ry="1.65" transform="rotate(-40 262.9 37.5)" fill="#104c6b" opacity="0.55"/><ellipse cx="319.8" cy="30.9" rx="2.50" ry="1.65" transform="rotate(0 319.8 30.9)" fill="#104c6b" opacity="0.55"/><ellipse cx="254.1" cy="62.5" rx="2.50" ry="1.65" transform="rotate(20 254.1 62.5)" fill="#104c6b" opacity="0.55"/><ellipse cx="287.1" cy="64.2" rx="2.50" ry="1.65" transform="rotate(-40 287.1 64.2)" fill="#0e4676" opacity="0.85"/><ellipse cx="206.1" cy="115.6" rx="2.50" ry="1.65" transform="rotate(80 206.1 115.6)" fill="#135e79" opacity="0.85"/><ellipse cx="242.0" cy="38.3" rx="2.50" ry="1.65" transform="rotate(-60 242.0 38.3)" fill="#104c6b" opacity="0.55"/><ellipse cx="286.6" cy="34.0" rx="2.50" ry="1.65" transform="rotate(20 286.6 34.0)" fill="#104c6b" opacity="0.55"/><ellipse cx="292.3" cy="147.6" rx="2.50" ry="1.65" transform="rotate(80 292.3 147.6)" fill="#0e4676" opacity="0.85"/><ellipse cx="247.6" cy="63.1" rx="2.50" ry="1.65" transform="rotate(-40 247.6 63.1)" fill="#104c6b" opacity="0.55"/><ellipse cx="240.6" cy="14.6" rx="2.50" ry="1.65" transform="rotate(80 240.6 14.6)" fill="#135e79" opacity="0.85"/><ellipse cx="244.7" cy="77.3" rx="2.50" ry="1.65" transform="rotate(20 244.7 77.3)" fill="#104c6b" opacity="0.55"/><ellipse cx="200.4" cy="41.1" rx="2.50" ry="1.65" transform="rotate(60 200.4 41.1)" fill="#104c6b" opacity="0.55"/><ellipse cx="267.2" cy="76.9" rx="2.50" ry="1.65" transform="rotate(0 267.2 76.9)" fill="#0e4676" opacity="0.85"/><ellipse cx="261.0" cy="49.2" rx="2.50" ry="1.65" transform="rotate(0 261.0 49.2)" fill="#135e79" opacity="0.85"/><ellipse cx="215.1" cy="133.1" rx="2.50" ry="1.65" transform="rotate(-40 215.1 133.1)" fill="#135e79" opacity="0.85"/><ellipse cx="227.7" cy="3.5" rx="2.50" ry="1.65" transform="rotate(-40 227.7 3.5)" fill="#104c6b" opacity="0.55"/><ellipse cx="277.8" cy="33.8" rx="2.50" ry="1.65" transform="rotate(-20 277.8 33.8)" fill="#0e4676" opacity="0.85"/><ellipse cx="227.0" cy="18.9" rx="2.50" ry="1.65" transform="rotate(20 227.0 18.9)" fill="#104c6b" opacity="0.55"/><ellipse cx="249.7" cy="136.0" rx="2.50" ry="1.65" transform="rotate(40 249.7 136.0)" fill="#104c6b" opacity="0.55"/><ellipse cx="292.7" cy="139.4" rx="2.50" ry="1.65" transform="rotate(-20 292.7 139.4)" fill="#104c6b" opacity="0.55"/><ellipse cx="287.2" cy="40.9" rx="2.50" ry="1.65" transform="rotate(20 287.2 40.9)" fill="#104c6b" opacity="0.55"/><ellipse cx="306.6" cy="147.7" rx="2.50" ry="1.65" transform="rotate(-40 306.6 147.7)" fill="#104c6b" opacity="0.55"/><ellipse cx="262.6" cy="145.3" rx="2.50" ry="1.65" transform="rotate(40 262.6 145.3)" fill="#135e79" opacity="0.85"/><ellipse cx="219.8" cy="34.9" rx="2.50" ry="1.65" transform="rotate(0 219.8 34.9)" fill="#104c6b" opacity="0.55"/></g>
</g>
<g clip-path="url(#cp3)">
<rect x="351.0" y="0" width="150.0" height="149.5" fill="#021908"/>
<g filter="url(#bb)">
<ellipse cx="472.0" cy="62.0" rx="16.0" ry="13.0" fill="#011406" opacity="0.70"/>
<ellipse cx="437.0" cy="122.0" rx="20.0" ry="18.0" fill="#011406" opacity="0.70"/>
<ellipse cx="395.0" cy="90.0" rx="10.0" ry="8.0" fill="#011606" opacity="0.50"/>
<ellipse cx="380.0" cy="40.0" rx="30.0" ry="30.0" fill="#062a10" opacity="0.30"/>
<ellipse cx="470.0" cy="120.0" rx="20.0" ry="22.0" fill="#062a10" opacity="0.30"/>
</g>
<g filter="url(#bh)"><ellipse cx="360.3" cy="5.7" rx="5.6" ry="2.4" transform="rotate(0 360.3 5.7)" fill="#0e521e" opacity="0.45"/><ellipse cx="372.4" cy="7.8" rx="5.6" ry="2.4" transform="rotate(-60 372.4 7.8)" fill="#0e521e" opacity="0.45"/><ellipse cx="377.4" cy="10.0" rx="5.6" ry="2.4" transform="rotate(60 377.4 10.0)" fill="#0e521e" opacity="0.45"/><ellipse cx="359.8" cy="15.0" rx="2.8" ry="1.2" transform="rotate(0 359.8 15.0)" fill="#0e521e" opacity="0.50"/><ellipse cx="398.8" cy="8.6" rx="5.6" ry="2.4" transform="rotate(20 398.8 8.6)" fill="#0e521e" opacity="0.45"/><ellipse cx="393.8" cy="17.1" rx="5.6" ry="2.4" transform="rotate(-60 393.8 17.1)" fill="#0e521e" opacity="0.45"/><ellipse cx="371.7" cy="23.5" rx="5.6" ry="2.4" transform="rotate(-60 371.7 23.5)" fill="#0e521e" opacity="0.50"/><ellipse cx="361.7" cy="23.5" rx="5.6" ry="2.4" transform="rotate(0 361.7 23.5)" fill="#0e521e" opacity="0.45"/><ellipse cx="404.5" cy="26.4" rx="5.6" ry="2.4" transform="rotate(80 404.5 26.4)" fill="#0e521e" opacity="0.45"/><ellipse cx="420.9" cy="26.4" rx="5.6" ry="2.4" transform="rotate(60 420.9 26.4)" fill="#0e521e" opacity="0.45"/><ellipse cx="359.6" cy="30.0" rx="5.6" ry="2.4" transform="rotate(-40 359.6 30.0)" fill="#0e521e" opacity="0.45"/><ellipse cx="368.8" cy="35.0" rx="5.6" ry="2.4" transform="rotate(20 368.8 35.0)" fill="#0e521e" opacity="0.50"/><ellipse cx="373.8" cy="32.8" rx="2.8" ry="1.2" transform="rotate(0 373.8 32.8)" fill="#0e521e" opacity="0.50"/><ellipse cx="390.2" cy="35.7" rx="5.6" ry="2.4" transform="rotate(0 390.2 35.7)" fill="#0e521e" opacity="0.45"/><ellipse cx="399.5" cy="37.1" rx="5.6" ry="2.4" transform="rotate(60 399.5 37.1)" fill="#0e521e" opacity="0.45"/><ellipse cx="420.9" cy="35.0" rx="5.6" ry="2.4" transform="rotate(40 420.9 35.0)" fill="#0e521e" opacity="0.45"/><ellipse cx="412.3" cy="39.2" rx="5.6" ry="2.4" transform="rotate(0 412.3 39.2)" fill="#0e521e" opacity="0.45"/><ellipse cx="356.0" cy="39.9" rx="5.6" ry="2.4" transform="rotate(80 356.0 39.9)" fill="#0e521e" opacity="0.45"/><ellipse cx="386.0" cy="45.6" rx="5.6" ry="2.4" transform="rotate(-60 386.0 45.6)" fill="#0e521e" opacity="0.50"/><ellipse cx="424.5" cy="46.4" rx="5.6" ry="2.4" transform="rotate(40 424.5 46.4)" fill="#0e521e" opacity="0.45"/><ellipse cx="361.7" cy="51.4" rx="5.6" ry="2.4" transform="rotate(60 361.7 51.4)" fill="#0e521e" opacity="0.50"/><ellipse cx="372.4" cy="53.5" rx="5.6" ry="2.4" transform="rotate(40 372.4 53.5)" fill="#0e521e" opacity="0.50"/><ellipse cx="389.5" cy="54.2" rx="5.6" ry="2.4" transform="rotate(60 389.5 54.2)" fill="#0e521e" opacity="0.45"/><ellipse cx="394.5" cy="49.9" rx="5.6" ry="2.4" transform="rotate(0 394.5 49.9)" fill="#0e521e" opacity="0.45"/><ellipse cx="400.9" cy="58.5" rx="5.6" ry="2.4" transform="rotate(-60 400.9 58.5)" fill="#0e521e" opacity="0.50"/><ellipse cx="422.3" cy="57.1" rx="5.6" ry="2.4" transform="rotate(20 422.3 57.1)" fill="#0e521e" opacity="0.30"/><ellipse cx="366.0" cy="64.9" rx="5.6" ry="2.4" transform="rotate(-40 366.0 64.9)" fill="#0e521e" opacity="0.45"/><ellipse cx="386.0" cy="64.2" rx="5.6" ry="2.4" transform="rotate(0 386.0 64.2)" fill="#0e521e" opacity="0.50"/><ellipse cx="406.6" cy="64.2" rx="5.6" ry="2.4" transform="rotate(80 406.6 64.2)" fill="#0e521e" opacity="0.45"/><ellipse cx="393.1" cy="68.5" rx="5.6" ry="2.4" transform="rotate(0 393.1 68.5)" fill="#0e521e" opacity="0.50"/><ellipse cx="373.1" cy="69.9" rx="5.6" ry="2.4" transform="rotate(20 373.1 69.9)" fill="#0e521e" opacity="0.45"/><ellipse cx="425.2" cy="67.0" rx="5.6" ry="2.4" transform="rotate(0 425.2 67.0)" fill="#0e521e" opacity="0.30"/><ellipse cx="358.1" cy="71.3" rx="5.6" ry="2.4" transform="rotate(0 358.1 71.3)" fill="#0e521e" opacity="0.30"/><ellipse cx="432.4" cy="6.4" rx="5.6" ry="2.4" transform="rotate(80 432.4 6.4)" fill="#0e521e" opacity="0.45"/><ellipse cx="471.6" cy="2.1" rx="5.6" ry="2.4" transform="rotate(0 471.6 2.1)" fill="#0e521e" opacity="0.45"/><ellipse cx="478.8" cy="2.1" rx="5.6" ry="2.4" transform="rotate(20 478.8 2.1)" fill="#0e521e" opacity="0.30"/><ellipse cx="493.8" cy="5.7" rx="5.6" ry="2.4" transform="rotate(20 493.8 5.7)" fill="#0e521e" opacity="0.45"/><ellipse cx="467.4" cy="22.1" rx="5.6" ry="2.4" transform="rotate(-40 467.4 22.1)" fill="#0e521e" opacity="0.45"/><ellipse cx="488.8" cy="26.4" rx="5.6" ry="2.4" transform="rotate(80 488.8 26.4)" fill="#0e521e" opacity="0.45"/><ellipse cx="463.8" cy="30.7" rx="5.6" ry="2.4" transform="rotate(-20 463.8 30.7)" fill="#0e521e" opacity="0.50"/><ellipse cx="431.7" cy="34.2" rx="5.6" ry="2.4" transform="rotate(0 431.7 34.2)" fill="#0e521e" opacity="0.45"/><ellipse cx="448.8" cy="31.4" rx="5.6" ry="2.4" transform="rotate(80 448.8 31.4)" fill="#0e521e" opacity="0.30"/><ellipse cx="479.5" cy="35.0" rx="5.6" ry="2.4" transform="rotate(60 479.5 35.0)" fill="#0e521e" opacity="0.50"/><ellipse cx="458.8" cy="37.1" rx="5.6" ry="2.4" transform="rotate(-60 458.8 37.1)" fill="#0e521e" opacity="0.45"/><ellipse cx="495.9" cy="37.1" rx="5.6" ry="2.4" transform="rotate(-20 495.9 37.1)" fill="#0e521e" opacity="0.45"/><ellipse cx="443.8" cy="44.9" rx="3.4" ry="1.4" transform="rotate(0 443.8 44.9)" fill="#0e521e" opacity="0.50"/><ellipse cx="489.5" cy="44.9" rx="5.6" ry="2.4" transform="rotate(60 489.5 44.9)" fill="#0e521e" opacity="0.50"/><ellipse cx="461.7" cy="47.8" rx="5.6" ry="2.4" transform="rotate(-60 461.7 47.8)" fill="#0e521e" opacity="0.30"/><ellipse cx="427.4" cy="45.6" rx="5.6" ry="2.4" transform="rotate(0 427.4 45.6)" fill="#0e521e" opacity="0.45"/><ellipse cx="453.8" cy="57.8" rx="5.6" ry="2.4" transform="rotate(-60 453.8 57.8)" fill="#0e521e" opacity="0.45"/><ellipse cx="444.5" cy="60.6" rx="5.6" ry="2.4" transform="rotate(-20 444.5 60.6)" fill="#0e521e" opacity="0.45"/><ellipse cx="431.7" cy="61.3" rx="5.6" ry="2.4" transform="rotate(60 431.7 61.3)" fill="#0e521e" opacity="0.30"/><ellipse cx="440.3" cy="68.5" rx="5.6" ry="2.4" transform="rotate(-60 440.3 68.5)" fill="#0e521e" opacity="0.50"/><ellipse cx="455.2" cy="69.9" rx="5.6" ry="2.4" transform="rotate(-60 455.2 69.9)" fill="#0e521e" opacity="0.50"/><ellipse cx="444.5" cy="72.8" rx="5.6" ry="2.4" transform="rotate(-20 444.5 72.8)" fill="#0e521e" opacity="0.45"/><ellipse cx="430.3" cy="69.9" rx="5.6" ry="2.4" transform="rotate(60 430.3 69.9)" fill="#0e521e" opacity="0.30"/><ellipse cx="361.7" cy="77.1" rx="5.6" ry="2.4" transform="rotate(80 361.7 77.1)" fill="#0e521e" opacity="0.50"/><ellipse cx="382.4" cy="77.1" rx="5.6" ry="2.4" transform="rotate(40 382.4 77.1)" fill="#0e521e" opacity="0.45"/><ellipse cx="372.4" cy="80.7" rx="5.6" ry="2.4" transform="rotate(-40 372.4 80.7)" fill="#0e521e" opacity="0.30"/><ellipse cx="390.9" cy="81.4" rx="5.6" ry="2.4" transform="rotate(-40 390.9 81.4)" fill="#0e521e" opacity="0.30"/><ellipse cx="355.3" cy="87.8" rx="5.6" ry="2.4" transform="rotate(-20 355.3 87.8)" fill="#0e521e" opacity="0.50"/><ellipse cx="379.5" cy="83.6" rx="5.6" ry="2.4" transform="rotate(40 379.5 83.6)" fill="#0e521e" opacity="0.45"/><ellipse cx="421.6" cy="87.1" rx="5.6" ry="2.4" transform="rotate(0 421.6 87.1)" fill="#0e521e" opacity="0.45"/><ellipse cx="413.1" cy="87.1" rx="5.6" ry="2.4" transform="rotate(-20 413.1 87.1)" fill="#0e521e" opacity="0.30"/><ellipse cx="371.0" cy="92.8" rx="5.6" ry="2.4" transform="rotate(80 371.0 92.8)" fill="#0e521e" opacity="0.45"/><ellipse cx="386.7" cy="92.8" rx="5.6" ry="2.4" transform="rotate(-60 386.7 92.8)" fill="#0e521e" opacity="0.30"/><ellipse cx="379.5" cy="96.4" rx="5.6" ry="2.4" transform="rotate(20 379.5 96.4)" fill="#0e521e" opacity="0.45"/><ellipse cx="401.6" cy="98.5" rx="7.8" ry="3.4" transform="rotate(0 401.6 98.5)" fill="#0e521e" opacity="0.50"/><ellipse cx="356.7" cy="100.7" rx="5.6" ry="2.4" transform="rotate(60 356.7 100.7)" fill="#0e521e" opacity="0.50"/><ellipse cx="421.6" cy="95.0" rx="5.6" ry="2.4" transform="rotate(40 421.6 95.0)" fill="#0e521e" opacity="0.30"/><ellipse cx="418.0" cy="105.0" rx="4.5" ry="1.9" transform="rotate(0 418.0 105.0)" fill="#0e521e" opacity="0.50"/><ellipse cx="393.8" cy="107.1" rx="5.6" ry="2.4" transform="rotate(40 393.8 107.1)" fill="#0e521e" opacity="0.45"/><ellipse cx="365.3" cy="102.8" rx="5.6" ry="2.4" transform="rotate(80 365.3 102.8)" fill="#0e521e" opacity="0.30"/><ellipse cx="391.4" cy="110.9" rx="4.8" ry="2.0" transform="rotate(0 391.4 110.9)" fill="#0e521e" opacity="0.50"/><ellipse cx="379.5" cy="110.0" rx="5.6" ry="2.4" transform="rotate(-20 379.5 110.0)" fill="#0e521e" opacity="0.30"/><ellipse cx="410.2" cy="110.7" rx="5.6" ry="2.4" transform="rotate(-40 410.2 110.7)" fill="#0e521e" opacity="0.45"/><ellipse cx="394.5" cy="120.6" rx="5.6" ry="2.4" transform="rotate(-60 394.5 120.6)" fill="#0e521e" opacity="0.50"/><ellipse cx="357.4" cy="120.9" rx="3.9" ry="1.7" transform="rotate(0 357.4 120.9)" fill="#0e521e" opacity="0.50"/><ellipse cx="361.7" cy="120.9" rx="5.6" ry="2.4" transform="rotate(-40 361.7 120.9)" fill="#0e521e" opacity="0.45"/><ellipse cx="363.8" cy="115.7" rx="5.6" ry="2.4" transform="rotate(20 363.8 115.7)" fill="#0e521e" opacity="0.30"/><ellipse cx="363.8" cy="128.9" rx="5.6" ry="2.4" transform="rotate(-40 363.8 128.9)" fill="#0e521e" opacity="0.50"/><ellipse cx="383.1" cy="132.1" rx="5.6" ry="2.4" transform="rotate(40 383.1 132.1)" fill="#0e521e" opacity="0.45"/><ellipse cx="398.8" cy="131.3" rx="3.9" ry="1.7" transform="rotate(80 398.8 131.3)" fill="#0e521e" opacity="0.50"/><ellipse cx="413.8" cy="128.5" rx="5.6" ry="2.4" transform="rotate(60 413.8 128.5)" fill="#0e521e" opacity="0.30"/><ellipse cx="425.2" cy="129.2" rx="5.6" ry="2.4" transform="rotate(-40 425.2 129.2)" fill="#0e521e" opacity="0.45"/><ellipse cx="354.6" cy="137.1" rx="5.6" ry="2.4" transform="rotate(0 354.6 137.1)" fill="#0e521e" opacity="0.30"/><ellipse cx="374.5" cy="142.0" rx="5.6" ry="2.4" transform="rotate(60 374.5 142.0)" fill="#0e521e" opacity="0.50"/><ellipse cx="383.8" cy="144.9" rx="5.6" ry="2.4" transform="rotate(40 383.8 144.9)" fill="#0e521e" opacity="0.45"/><ellipse cx="417.3" cy="140.6" rx="5.6" ry="2.4" transform="rotate(20 417.3 140.6)" fill="#0e521e" opacity="0.45"/><ellipse cx="393.8" cy="144.9" rx="5.6" ry="2.4" transform="rotate(60 393.8 144.9)" fill="#0e521e" opacity="0.30"/><ellipse cx="405.2" cy="137.8" rx="5.6" ry="2.4" transform="rotate(-40 405.2 137.8)" fill="#0e521e" opacity="0.30"/><ellipse cx="411.6" cy="148.9" rx="5.6" ry="2.4" transform="rotate(-60 411.6 148.9)" fill="#0e521e" opacity="0.50"/><ellipse cx="430.3" cy="76.4" rx="5.6" ry="2.4" transform="rotate(80 430.3 76.4)" fill="#0e521e" opacity="0.45"/><ellipse cx="456.7" cy="78.6" rx="5.6" ry="2.4" transform="rotate(0 456.7 78.6)" fill="#0e521e" opacity="0.45"/><ellipse cx="473.1" cy="77.9" rx="5.6" ry="2.4" transform="rotate(40 473.1 77.9)" fill="#0e521e" opacity="0.30"/><ellipse cx="433.1" cy="86.4" rx="5.6" ry="2.4" transform="rotate(80 433.1 86.4)" fill="#0e521e" opacity="0.50"/><ellipse cx="439.6" cy="86.4" rx="5.6" ry="2.4" transform="rotate(0 439.6 86.4)" fill="#0e521e" opacity="0.45"/><ellipse cx="468.8" cy="87.8" rx="5.6" ry="2.4" transform="rotate(40 468.8 87.8)" fill="#0e521e" opacity="0.50"/><ellipse cx="486.6" cy="86.4" rx="5.6" ry="2.4" transform="rotate(40 486.6 86.4)" fill="#0e521e" opacity="0.45"/><ellipse cx="496.6" cy="83.6" rx="5.6" ry="2.4" transform="rotate(80 496.6 83.6)" fill="#0e521e" opacity="0.45"/><ellipse cx="447.4" cy="89.3" rx="5.6" ry="2.4" transform="rotate(-60 447.4 89.3)" fill="#0e521e" opacity="0.30"/><ellipse cx="440.3" cy="92.8" rx="5.6" ry="2.4" transform="rotate(60 440.3 92.8)" fill="#0e521e" opacity="0.30"/><ellipse cx="478.8" cy="96.4" rx="5.6" ry="2.4" transform="rotate(0 478.8 96.4)" fill="#0e521e" opacity="0.45"/><ellipse cx="455.2" cy="97.8" rx="5.6" ry="2.4" transform="rotate(60 455.2 97.8)" fill="#0e521e" opacity="0.45"/><ellipse cx="485.9" cy="100.7" rx="5.6" ry="2.4" transform="rotate(-60 485.9 100.7)" fill="#0e521e" opacity="0.50"/><ellipse cx="428.9" cy="102.8" rx="5.6" ry="2.4" transform="rotate(60 428.9 102.8)" fill="#0e521e" opacity="0.50"/><ellipse cx="499.5" cy="93.5" rx="5.6" ry="2.4" transform="rotate(-60 499.5 93.5)" fill="#0e521e" opacity="0.30"/><ellipse cx="448.8" cy="102.1" rx="5.6" ry="2.4" transform="rotate(80 448.8 102.1)" fill="#0e521e" opacity="0.30"/><ellipse cx="475.2" cy="104.2" rx="5.6" ry="2.4" transform="rotate(-40 475.2 104.2)" fill="#0e521e" opacity="0.45"/><ellipse cx="439.6" cy="108.5" rx="5.6" ry="2.4" transform="rotate(-60 439.6 108.5)" fill="#0e521e" opacity="0.50"/><ellipse cx="462.4" cy="107.1" rx="5.6" ry="2.4" transform="rotate(20 462.4 107.1)" fill="#0e521e" opacity="0.30"/><ellipse cx="490.9" cy="111.4" rx="5.6" ry="2.4" transform="rotate(0 490.9 111.4)" fill="#0e521e" opacity="0.45"/><ellipse cx="450.3" cy="112.8" rx="5.6" ry="2.4" transform="rotate(-40 450.3 112.8)" fill="#0e521e" opacity="0.50"/><ellipse cx="471.6" cy="112.1" rx="5.6" ry="2.4" transform="rotate(40 471.6 112.1)" fill="#0e521e" opacity="0.45"/><ellipse cx="466.7" cy="117.1" rx="5.6" ry="2.4" transform="rotate(40 466.7 117.1)" fill="#0e521e" opacity="0.45"/><ellipse cx="447.4" cy="119.9" rx="5.6" ry="2.4" transform="rotate(20 447.4 119.9)" fill="#0e521e" opacity="0.50"/><ellipse cx="432.4" cy="120.6" rx="5.6" ry="2.4" transform="rotate(40 432.4 120.6)" fill="#0e521e" opacity="0.30"/><ellipse cx="475.2" cy="122.1" rx="7.3" ry="3.1" transform="rotate(0 475.2 122.1)" fill="#0e521e" opacity="0.50"/><ellipse cx="484.5" cy="122.8" rx="5.6" ry="2.4" transform="rotate(-60 484.5 122.8)" fill="#0e521e" opacity="0.45"/><ellipse cx="491.6" cy="126.4" rx="5.6" ry="2.4" transform="rotate(-40 491.6 126.4)" fill="#0e521e" opacity="0.50"/><ellipse cx="465.2" cy="127.1" rx="5.6" ry="2.4" transform="rotate(20 465.2 127.1)" fill="#0e521e" opacity="0.45"/><ellipse cx="427.4" cy="129.9" rx="5.6" ry="2.4" transform="rotate(40 427.4 129.9)" fill="#0e521e" opacity="0.45"/><ellipse cx="496.6" cy="132.8" rx="5.6" ry="2.4" transform="rotate(20 496.6 132.8)" fill="#0e521e" opacity="0.30"/><ellipse cx="465.2" cy="138.5" rx="5.6" ry="2.4" transform="rotate(20 465.2 138.5)" fill="#0e521e" opacity="0.50"/><ellipse cx="480.2" cy="137.8" rx="5.6" ry="2.4" transform="rotate(-60 480.2 137.8)" fill="#0e521e" opacity="0.45"/><ellipse cx="488.8" cy="142.0" rx="7.3" ry="3.1" transform="rotate(0 488.8 142.0)" fill="#0e521e" opacity="0.50"/><ellipse cx="475.9" cy="144.9" rx="5.6" ry="2.4" transform="rotate(-40 475.9 144.9)" fill="#0e521e" opacity="0.30"/><ellipse cx="443.8" cy="145.6" rx="5.6" ry="2.4" transform="rotate(-60 443.8 145.6)" fill="#0e521e" opacity="0.30"/><ellipse cx="410.3" cy="24.5" rx="5.6" ry="2.4" transform="rotate(0 410.3 24.5)" fill="#0e521e" opacity="0.45"/><ellipse cx="492.6" cy="101.5" rx="5.6" ry="2.4" transform="rotate(-40 492.6 101.5)" fill="#0e521e" opacity="0.30"/><ellipse cx="413.6" cy="56.5" rx="5.6" ry="2.4" transform="rotate(80 413.6 56.5)" fill="#0e521e" opacity="0.30"/><ellipse cx="410.9" cy="139.6" rx="5.6" ry="2.4" transform="rotate(80 410.9 139.6)" fill="#0e521e" opacity="0.30"/><ellipse cx="381.0" cy="2.7" rx="5.6" ry="2.4" transform="rotate(60 381.0 2.7)" fill="#0e521e" opacity="0.30"/><ellipse cx="361.6" cy="58.5" rx="5.6" ry="2.4" transform="rotate(20 361.6 58.5)" fill="#0e521e" opacity="0.45"/><ellipse cx="478.4" cy="42.4" rx="5.6" ry="2.4" transform="rotate(60 478.4 42.4)" fill="#0e521e" opacity="0.30"/><ellipse cx="495.7" cy="65.3" rx="5.6" ry="2.4" transform="rotate(80 495.7 65.3)" fill="#0e521e" opacity="0.30"/><ellipse cx="398.7" cy="115.0" rx="5.6" ry="2.4" transform="rotate(-20 398.7 115.0)" fill="#0e521e" opacity="0.30"/><ellipse cx="468.2" cy="64.1" rx="5.6" ry="2.4" transform="rotate(80 468.2 64.1)" fill="#0e521e" opacity="0.45"/><ellipse cx="356.3" cy="113.3" rx="5.6" ry="2.4" transform="rotate(-20 356.3 113.3)" fill="#0e521e" opacity="0.45"/><ellipse cx="363.9" cy="138.7" rx="5.6" ry="2.4" transform="rotate(-60 363.9 138.7)" fill="#0e521e" opacity="0.30"/><ellipse cx="372.5" cy="129.2" rx="5.6" ry="2.4" transform="rotate(20 372.5 129.2)" fill="#0e521e" opacity="0.30"/><ellipse cx="423.9" cy="135.5" rx="5.6" ry="2.4" transform="rotate(-20 423.9 135.5)" fill="#0e521e" opacity="0.30"/><ellipse cx="433.4" cy="26.2" rx="5.6" ry="2.4" transform="rotate(0 433.4 26.2)" fill="#0e521e" opacity="0.30"/><ellipse cx="387.3" cy="72.3" rx="5.6" ry="2.4" transform="rotate(40 387.3 72.3)" fill="#0e521e" opacity="0.30"/><ellipse cx="426.1" cy="120.7" rx="5.6" ry="2.4" transform="rotate(40 426.1 120.7)" fill="#0e521e" opacity="0.45"/><ellipse cx="388.1" cy="26.8" rx="5.6" ry="2.4" transform="rotate(80 388.1 26.8)" fill="#0e521e" opacity="0.45"/><ellipse cx="434.3" cy="48.1" rx="5.6" ry="2.4" transform="rotate(40 434.3 48.1)" fill="#0e521e" opacity="0.45"/><ellipse cx="406.5" cy="120.4" rx="5.6" ry="2.4" transform="rotate(-40 406.5 120.4)" fill="#0e521e" opacity="0.45"/><ellipse cx="480.9" cy="57.5" rx="5.6" ry="2.4" transform="rotate(0 480.9 57.5)" fill="#0e521e" opacity="0.30"/><ellipse cx="418.4" cy="116.5" rx="5.6" ry="2.4" transform="rotate(60 418.4 116.5)" fill="#0e521e" opacity="0.30"/><ellipse cx="352.2" cy="19.5" rx="5.6" ry="2.4" transform="rotate(-20 352.2 19.5)" fill="#0e521e" opacity="0.45"/><ellipse cx="457.8" cy="143.0" rx="5.6" ry="2.4" transform="rotate(0 457.8 143.0)" fill="#0e521e" opacity="0.30"/><ellipse cx="444.7" cy="78.9" rx="5.6" ry="2.4" transform="rotate(60 444.7 78.9)" fill="#0e521e" opacity="0.30"/></g>
<g filter="url(#blp3)"><ellipse cx="360.3" cy="5.7" rx="3.00" ry="1.98" transform="rotate(0 360.3 5.7)" fill="#0c406c" opacity="0.85"/><ellipse cx="372.4" cy="7.8" rx="3.00" ry="1.98" transform="rotate(-60 372.4 7.8)" fill="#0c406c" opacity="0.85"/><ellipse cx="377.4" cy="10.0" rx="3.00" ry="1.98" transform="rotate(60 377.4 10.0)" fill="#0c406c" opacity="0.85"/><ellipse cx="359.8" cy="15.0" rx="1.50" ry="0.99" transform="rotate(0 359.8 15.0)" fill="#37bc97" opacity="1.00"/><ellipse cx="398.8" cy="8.6" rx="3.00" ry="1.98" transform="rotate(20 398.8 8.6)" fill="#0c406c" opacity="0.85"/><ellipse cx="393.8" cy="17.1" rx="3.00" ry="1.98" transform="rotate(-60 393.8 17.1)" fill="#0c406c" opacity="0.85"/><ellipse cx="371.7" cy="23.5" rx="3.00" ry="1.98" transform="rotate(-60 371.7 23.5)" fill="#10479c" opacity="0.90"/><ellipse cx="361.7" cy="23.5" rx="3.00" ry="1.98" transform="rotate(0 361.7 23.5)" fill="#0c406c" opacity="0.85"/><ellipse cx="404.5" cy="26.4" rx="3.00" ry="1.98" transform="rotate(80 404.5 26.4)" fill="#0c406c" opacity="0.85"/><ellipse cx="420.9" cy="26.4" rx="3.00" ry="1.98" transform="rotate(60 420.9 26.4)" fill="#0c406c" opacity="0.85"/><ellipse cx="359.6" cy="30.0" rx="3.00" ry="1.98" transform="rotate(-40 359.6 30.0)" fill="#0c406c" opacity="0.85"/><ellipse cx="368.8" cy="35.0" rx="3.00" ry="1.98" transform="rotate(20 368.8 35.0)" fill="#10479c" opacity="0.90"/><ellipse cx="373.8" cy="32.8" rx="1.50" ry="0.99" transform="rotate(0 373.8 32.8)" fill="#178067" opacity="0.90"/><ellipse cx="390.2" cy="35.7" rx="3.00" ry="1.98" transform="rotate(0 390.2 35.7)" fill="#0c406c" opacity="0.85"/><ellipse cx="399.5" cy="37.1" rx="3.00" ry="1.98" transform="rotate(60 399.5 37.1)" fill="#0c406c" opacity="0.85"/><ellipse cx="420.9" cy="35.0" rx="3.00" ry="1.98" transform="rotate(40 420.9 35.0)" fill="#0c406c" opacity="0.85"/><ellipse cx="412.3" cy="39.2" rx="3.00" ry="1.98" transform="rotate(0 412.3 39.2)" fill="#0c406c" opacity="0.85"/><ellipse cx="356.0" cy="39.9" rx="3.00" ry="1.98" transform="rotate(80 356.0 39.9)" fill="#0c406c" opacity="0.85"/><ellipse cx="386.0" cy="45.6" rx="3.00" ry="1.98" transform="rotate(-60 386.0 45.6)" fill="#10479c" opacity="0.90"/><ellipse cx="424.5" cy="46.4" rx="3.00" ry="1.98" transform="rotate(40 424.5 46.4)" fill="#0c406c" opacity="0.85"/><ellipse cx="361.7" cy="51.4" rx="3.00" ry="1.98" transform="rotate(60 361.7 51.4)" fill="#10479c" opacity="0.90"/><ellipse cx="372.4" cy="53.5" rx="3.00" ry="1.98" transform="rotate(40 372.4 53.5)" fill="#10479c" opacity="0.90"/><ellipse cx="389.5" cy="54.2" rx="3.00" ry="1.98" transform="rotate(60 389.5 54.2)" fill="#0c406c" opacity="0.85"/><ellipse cx="394.5" cy="49.9" rx="3.00" ry="1.98" transform="rotate(0 394.5 49.9)" fill="#0c406c" opacity="0.85"/><ellipse cx="400.9" cy="58.5" rx="3.00" ry="1.98" transform="rotate(-60 400.9 58.5)" fill="#10479c" opacity="0.90"/><ellipse cx="422.3" cy="57.1" rx="3.00" ry="1.98" transform="rotate(20 422.3 57.1)" fill="#0b3e3a" opacity="0.55"/><ellipse cx="366.0" cy="64.9" rx="3.00" ry="1.98" transform="rotate(-40 366.0 64.9)" fill="#0c406c" opacity="0.85"/><ellipse cx="386.0" cy="64.2" rx="3.00" ry="1.98" transform="rotate(0 386.0 64.2)" fill="#10479c" opacity="0.90"/><ellipse cx="406.6" cy="64.2" rx="3.00" ry="1.98" transform="rotate(80 406.6 64.2)" fill="#0c406c" opacity="0.85"/><ellipse cx="393.1" cy="68.5" rx="3.00" ry="1.98" transform="rotate(0 393.1 68.5)" fill="#10479c" opacity="0.90"/><ellipse cx="373.1" cy="69.9" rx="3.00" ry="1.98" transform="rotate(20 373.1 69.9)" fill="#0c406c" opacity="0.85"/><ellipse cx="425.2" cy="67.0" rx="3.00" ry="1.98" transform="rotate(0 425.2 67.0)" fill="#0b3e3a" opacity="0.55"/><ellipse cx="358.1" cy="71.3" rx="3.00" ry="1.98" transform="rotate(0 358.1 71.3)" fill="#0b3e3a" opacity="0.55"/><ellipse cx="432.4" cy="6.4" rx="3.00" ry="1.98" transform="rotate(80 432.4 6.4)" fill="#0c406c" opacity="0.85"/><ellipse cx="471.6" cy="2.1" rx="3.00" ry="1.98" transform="rotate(0 471.6 2.1)" fill="#0c406c" opacity="0.85"/><ellipse cx="478.8" cy="2.1" rx="3.00" ry="1.98" transform="rotate(20 478.8 2.1)" fill="#0b3e3a" opacity="0.55"/><ellipse cx="493.8" cy="5.7" rx="3.00" ry="1.98" transform="rotate(20 493.8 5.7)" fill="#0c406c" opacity="0.85"/><ellipse cx="467.4" cy="22.1" rx="3.00" ry="1.98" transform="rotate(-40 467.4 22.1)" fill="#0c406c" opacity="0.85"/><ellipse cx="488.8" cy="26.4" rx="3.00" ry="1.98" transform="rotate(80 488.8 26.4)" fill="#0c406c" opacity="0.85"/><ellipse cx="463.8" cy="30.7" rx="3.00" ry="1.98" transform="rotate(-20 463.8 30.7)" fill="#10479c" opacity="0.90"/><ellipse cx="431.7" cy="34.2" rx="3.00" ry="1.98" transform="rotate(0 431.7 34.2)" fill="#0c406c" opacity="0.85"/><ellipse cx="448.8" cy="31.4" rx="3.00" ry="1.98" transform="rotate(80 448.8 31.4)" fill="#0b3e3a" opacity="0.55"/><ellipse cx="479.5" cy="35.0" rx="3.00" ry="1.98" transform="rotate(60 479.5 35.0)" fill="#10479c" opacity="0.90"/><ellipse cx="458.8" cy="37.1" rx="3.00" ry="1.98" transform="rotate(-60 458.8 37.1)" fill="#0c406c" opacity="0.85"/><ellipse cx="495.9" cy="37.1" rx="3.00" ry="1.98" transform="rotate(-20 495.9 37.1)" fill="#0c406c" opacity="0.85"/><ellipse cx="443.8" cy="44.9" rx="1.80" ry="1.19" transform="rotate(0 443.8 44.9)" fill="#37bc97" opacity="1.00"/><ellipse cx="489.5" cy="44.9" rx="3.00" ry="1.98" transform="rotate(60 489.5 44.9)" fill="#10479c" opacity="0.90"/><ellipse cx="461.7" cy="47.8" rx="3.00" ry="1.98" transform="rotate(-60 461.7 47.8)" fill="#0b3e3a" opacity="0.55"/><ellipse cx="427.4" cy="45.6" rx="3.00" ry="1.98" transform="rotate(0 427.4 45.6)" fill="#0c406c" opacity="0.85"/><ellipse cx="453.8" cy="57.8" rx="3.00" ry="1.98" transform="rotate(-60 453.8 57.8)" fill="#0c406c" opacity="0.85"/><ellipse cx="444.5" cy="60.6" rx="3.00" ry="1.98" transform="rotate(-20 444.5 60.6)" fill="#0c406c" opacity="0.85"/><ellipse cx="431.7" cy="61.3" rx="3.00" ry="1.98" transform="rotate(60 431.7 61.3)" fill="#0b3e3a" opacity="0.55"/><ellipse cx="440.3" cy="68.5" rx="3.00" ry="1.98" transform="rotate(-60 440.3 68.5)" fill="#10479c" opacity="0.90"/><ellipse cx="455.2" cy="69.9" rx="3.00" ry="1.98" transform="rotate(-60 455.2 69.9)" fill="#10479c" opacity="0.90"/><ellipse cx="444.5" cy="72.8" rx="3.00" ry="1.98" transform="rotate(-20 444.5 72.8)" fill="#0c406c" opacity="0.85"/><ellipse cx="430.3" cy="69.9" rx="3.00" ry="1.98" transform="rotate(60 430.3 69.9)" fill="#0b3e3a" opacity="0.55"/><ellipse cx="361.7" cy="77.1" rx="3.00" ry="1.98" transform="rotate(80 361.7 77.1)" fill="#10479c" opacity="0.90"/><ellipse cx="382.4" cy="77.1" rx="3.00" ry="1.98" transform="rotate(40 382.4 77.1)" fill="#0c406c" opacity="0.85"/><ellipse cx="372.4" cy="80.7" rx="3.00" ry="1.98" transform="rotate(-40 372.4 80.7)" fill="#0b3e3a" opacity="0.55"/><ellipse cx="390.9" cy="81.4" rx="3.00" ry="1.98" transform="rotate(-40 390.9 81.4)" fill="#0b3e3a" opacity="0.55"/><ellipse cx="355.3" cy="87.8" rx="3.00" ry="1.98" transform="rotate(-20 355.3 87.8)" fill="#10479c" opacity="0.90"/><ellipse cx="379.5" cy="83.6" rx="3.00" ry="1.98" transform="rotate(40 379.5 83.6)" fill="#0c406c" opacity="0.85"/><ellipse cx="421.6" cy="87.1" rx="3.00" ry="1.98" transform="rotate(0 421.6 87.1)" fill="#0c406c" opacity="0.85"/><ellipse cx="413.1" cy="87.1" rx="3.00" ry="1.98" transform="rotate(-20 413.1 87.1)" fill="#0b3e3a" opacity="0.55"/><ellipse cx="371.0" cy="92.8" rx="3.00" ry="1.98" transform="rotate(80 371.0 92.8)" fill="#0c406c" opacity="0.85"/><ellipse cx="386.7" cy="92.8" rx="3.00" ry="1.98" transform="rotate(-60 386.7 92.8)" fill="#0b3e3a" opacity="0.55"/><ellipse cx="379.5" cy="96.4" rx="3.00" ry="1.98" transform="rotate(20 379.5 96.4)" fill="#0c406c" opacity="0.85"/><ellipse cx="401.6" cy="98.5" rx="4.20" ry="2.77" transform="rotate(0 401.6 98.5)" fill="#1f57d8" opacity="1.00"/><ellipse cx="356.7" cy="100.7" rx="3.00" ry="1.98" transform="rotate(60 356.7 100.7)" fill="#1f57d8" opacity="1.00"/><ellipse cx="421.6" cy="95.0" rx="3.00" ry="1.98" transform="rotate(40 421.6 95.0)" fill="#0b3e3a" opacity="0.55"/><ellipse cx="418.0" cy="105.0" rx="2.40" ry="1.58" transform="rotate(0 418.0 105.0)" fill="#1f57d8" opacity="1.00"/><ellipse cx="393.8" cy="107.1" rx="3.00" ry="1.98" transform="rotate(40 393.8 107.1)" fill="#0c406c" opacity="0.85"/><ellipse cx="365.3" cy="102.8" rx="3.00" ry="1.98" transform="rotate(80 365.3 102.8)" fill="#0b3e3a" opacity="0.55"/><ellipse cx="391.4" cy="110.9" rx="2.68" ry="1.85" transform="rotate(0 391.4 110.9)" fill="#39e45f" opacity="1.00"/><ellipse cx="391.4" cy="110.9" rx="1.34" ry="0.93" transform="rotate(0 391.4 110.9)" fill="#8cffb0" opacity=".55"/><ellipse cx="379.5" cy="110.0" rx="3.00" ry="1.98" transform="rotate(-20 379.5 110.0)" fill="#0b3e3a" opacity="0.55"/><ellipse cx="410.2" cy="110.7" rx="3.00" ry="1.98" transform="rotate(-40 410.2 110.7)" fill="#0c406c" opacity="0.85"/><ellipse cx="394.5" cy="120.6" rx="3.00" ry="1.98" transform="rotate(-60 394.5 120.6)" fill="#10479c" opacity="0.90"/><ellipse cx="357.4" cy="120.9" rx="2.10" ry="1.39" transform="rotate(0 357.4 120.9)" fill="#10479c" opacity="0.90"/><ellipse cx="361.7" cy="120.9" rx="3.00" ry="1.98" transform="rotate(-40 361.7 120.9)" fill="#0c406c" opacity="0.85"/><ellipse cx="363.8" cy="115.7" rx="3.00" ry="1.98" transform="rotate(20 363.8 115.7)" fill="#0b3e3a" opacity="0.55"/><ellipse cx="363.8" cy="128.9" rx="3.00" ry="1.98" transform="rotate(-40 363.8 128.9)" fill="#10479c" opacity="0.90"/><ellipse cx="383.1" cy="132.1" rx="3.00" ry="1.98" transform="rotate(40 383.1 132.1)" fill="#0c406c" opacity="0.85"/><ellipse cx="398.8" cy="131.3" rx="2.10" ry="1.39" transform="rotate(80 398.8 131.3)" fill="#37bc97" opacity="1.00"/><ellipse cx="413.8" cy="128.5" rx="3.00" ry="1.98" transform="rotate(60 413.8 128.5)" fill="#0b3e3a" opacity="0.55"/><ellipse cx="425.2" cy="129.2" rx="3.00" ry="1.98" transform="rotate(-40 425.2 129.2)" fill="#0c406c" opacity="0.85"/><ellipse cx="354.6" cy="137.1" rx="3.00" ry="1.98" transform="rotate(0 354.6 137.1)" fill="#0b3e3a" opacity="0.55"/><ellipse cx="374.5" cy="142.0" rx="3.00" ry="1.98" transform="rotate(60 374.5 142.0)" fill="#10479c" opacity="0.90"/><ellipse cx="383.8" cy="144.9" rx="3.00" ry="1.98" transform="rotate(40 383.8 144.9)" fill="#0c406c" opacity="0.85"/><ellipse cx="417.3" cy="140.6" rx="3.00" ry="1.98" transform="rotate(20 417.3 140.6)" fill="#0c406c" opacity="0.85"/><ellipse cx="393.8" cy="144.9" rx="3.00" ry="1.98" transform="rotate(60 393.8 144.9)" fill="#0b3e3a" opacity="0.55"/><ellipse cx="405.2" cy="137.8" rx="3.00" ry="1.98" transform="rotate(-40 405.2 137.8)" fill="#0b3e3a" opacity="0.55"/><ellipse cx="411.6" cy="148.9" rx="3.00" ry="1.98" transform="rotate(-60 411.6 148.9)" fill="#1f57d8" opacity="1.00"/><ellipse cx="430.3" cy="76.4" rx="3.00" ry="1.98" transform="rotate(80 430.3 76.4)" fill="#0c406c" opacity="0.85"/><ellipse cx="456.7" cy="78.6" rx="3.00" ry="1.98" transform="rotate(0 456.7 78.6)" fill="#0c406c" opacity="0.85"/><ellipse cx="473.1" cy="77.9" rx="3.00" ry="1.98" transform="rotate(40 473.1 77.9)" fill="#0b3e3a" opacity="0.55"/><ellipse cx="433.1" cy="86.4" rx="3.00" ry="1.98" transform="rotate(80 433.1 86.4)" fill="#10479c" opacity="0.90"/><ellipse cx="439.6" cy="86.4" rx="3.00" ry="1.98" transform="rotate(0 439.6 86.4)" fill="#0c406c" opacity="0.85"/><ellipse cx="468.8" cy="87.8" rx="3.00" ry="1.98" transform="rotate(40 468.8 87.8)" fill="#10479c" opacity="0.90"/><ellipse cx="486.6" cy="86.4" rx="3.00" ry="1.98" transform="rotate(40 486.6 86.4)" fill="#0c406c" opacity="0.85"/><ellipse cx="496.6" cy="83.6" rx="3.00" ry="1.98" transform="rotate(80 496.6 83.6)" fill="#0c406c" opacity="0.85"/><ellipse cx="447.4" cy="89.3" rx="3.00" ry="1.98" transform="rotate(-60 447.4 89.3)" fill="#0b3e3a" opacity="0.55"/><ellipse cx="440.3" cy="92.8" rx="3.00" ry="1.98" transform="rotate(60 440.3 92.8)" fill="#0b3e3a" opacity="0.55"/><ellipse cx="478.8" cy="96.4" rx="3.00" ry="1.98" transform="rotate(0 478.8 96.4)" fill="#0c406c" opacity="0.85"/><ellipse cx="455.2" cy="97.8" rx="3.00" ry="1.98" transform="rotate(60 455.2 97.8)" fill="#0c406c" opacity="0.85"/><ellipse cx="485.9" cy="100.7" rx="3.00" ry="1.98" transform="rotate(-60 485.9 100.7)" fill="#10479c" opacity="0.90"/><ellipse cx="428.9" cy="102.8" rx="3.00" ry="1.98" transform="rotate(60 428.9 102.8)" fill="#10479c" opacity="0.90"/><ellipse cx="499.5" cy="93.5" rx="3.00" ry="1.98" transform="rotate(-60 499.5 93.5)" fill="#0b3e3a" opacity="0.55"/><ellipse cx="448.8" cy="102.1" rx="3.00" ry="1.98" transform="rotate(80 448.8 102.1)" fill="#0b3e3a" opacity="0.55"/><ellipse cx="475.2" cy="104.2" rx="3.00" ry="1.98" transform="rotate(-40 475.2 104.2)" fill="#0c406c" opacity="0.85"/><ellipse cx="439.6" cy="108.5" rx="3.00" ry="1.98" transform="rotate(-60 439.6 108.5)" fill="#10479c" opacity="0.90"/><ellipse cx="462.4" cy="107.1" rx="3.00" ry="1.98" transform="rotate(20 462.4 107.1)" fill="#0b3e3a" opacity="0.55"/><ellipse cx="490.9" cy="111.4" rx="3.00" ry="1.98" transform="rotate(0 490.9 111.4)" fill="#0c406c" opacity="0.85"/><ellipse cx="450.3" cy="112.8" rx="3.00" ry="1.98" transform="rotate(-40 450.3 112.8)" fill="#10479c" opacity="0.90"/><ellipse cx="471.6" cy="112.1" rx="3.00" ry="1.98" transform="rotate(40 471.6 112.1)" fill="#0c406c" opacity="0.85"/><ellipse cx="466.7" cy="117.1" rx="3.00" ry="1.98" transform="rotate(40 466.7 117.1)" fill="#0c406c" opacity="0.85"/><ellipse cx="447.4" cy="119.9" rx="3.00" ry="1.98" transform="rotate(20 447.4 119.9)" fill="#10479c" opacity="0.90"/><ellipse cx="432.4" cy="120.6" rx="3.00" ry="1.98" transform="rotate(40 432.4 120.6)" fill="#0b3e3a" opacity="0.55"/><ellipse cx="475.2" cy="122.1" rx="3.90" ry="2.57" transform="rotate(0 475.2 122.1)" fill="#10479c" opacity="0.90"/><ellipse cx="484.5" cy="122.8" rx="3.00" ry="1.98" transform="rotate(-60 484.5 122.8)" fill="#0c406c" opacity="0.85"/><ellipse cx="491.6" cy="126.4" rx="3.00" ry="1.98" transform="rotate(-40 491.6 126.4)" fill="#10479c" opacity="0.90"/><ellipse cx="465.2" cy="127.1" rx="3.00" ry="1.98" transform="rotate(20 465.2 127.1)" fill="#0c406c" opacity="0.85"/><ellipse cx="427.4" cy="129.9" rx="3.00" ry="1.98" transform="rotate(40 427.4 129.9)" fill="#0c406c" opacity="0.85"/><ellipse cx="496.6" cy="132.8" rx="3.00" ry="1.98" transform="rotate(20 496.6 132.8)" fill="#0b3e3a" opacity="0.55"/><ellipse cx="465.2" cy="138.5" rx="3.00" ry="1.98" transform="rotate(20 465.2 138.5)" fill="#10479c" opacity="0.90"/><ellipse cx="480.2" cy="137.8" rx="3.00" ry="1.98" transform="rotate(-60 480.2 137.8)" fill="#0c406c" opacity="0.85"/><ellipse cx="488.8" cy="142.0" rx="3.90" ry="2.57" transform="rotate(0 488.8 142.0)" fill="#10479c" opacity="0.90"/><ellipse cx="475.9" cy="144.9" rx="3.00" ry="1.98" transform="rotate(-40 475.9 144.9)" fill="#0b3e3a" opacity="0.55"/><ellipse cx="443.8" cy="145.6" rx="3.00" ry="1.98" transform="rotate(-60 443.8 145.6)" fill="#0b3e3a" opacity="0.55"/><ellipse cx="410.3" cy="24.5" rx="3.00" ry="1.98" transform="rotate(0 410.3 24.5)" fill="#0c406c" opacity="0.85"/><ellipse cx="492.6" cy="101.5" rx="3.00" ry="1.98" transform="rotate(-40 492.6 101.5)" fill="#0b3e3a" opacity="0.55"/><ellipse cx="413.6" cy="56.5" rx="3.00" ry="1.98" transform="rotate(80 413.6 56.5)" fill="#0b3e3a" opacity="0.55"/><ellipse cx="410.9" cy="139.6" rx="3.00" ry="1.98" transform="rotate(80 410.9 139.6)" fill="#0b3e3a" opacity="0.55"/><ellipse cx="381.0" cy="2.7" rx="3.00" ry="1.98" transform="rotate(60 381.0 2.7)" fill="#0b3e3a" opacity="0.55"/><ellipse cx="361.6" cy="58.5" rx="3.00" ry="1.98" transform="rotate(20 361.6 58.5)" fill="#0c406c" opacity="0.85"/><ellipse cx="478.4" cy="42.4" rx="3.00" ry="1.98" transform="rotate(60 478.4 42.4)" fill="#0b3e3a" opacity="0.55"/><ellipse cx="495.7" cy="65.3" rx="3.00" ry="1.98" transform="rotate(80 495.7 65.3)" fill="#0b3e3a" opacity="0.55"/><ellipse cx="398.7" cy="115.0" rx="3.00" ry="1.98" transform="rotate(-20 398.7 115.0)" fill="#0b3e3a" opacity="0.55"/><ellipse cx="468.2" cy="64.1" rx="3.00" ry="1.98" transform="rotate(80 468.2 64.1)" fill="#0c406c" opacity="0.85"/><ellipse cx="356.3" cy="113.3" rx="3.00" ry="1.98" transform="rotate(-20 356.3 113.3)" fill="#0c406c" opacity="0.85"/><ellipse cx="363.9" cy="138.7" rx="3.00" ry="1.98" transform="rotate(-60 363.9 138.7)" fill="#0b3e3a" opacity="0.55"/><ellipse cx="372.5" cy="129.2" rx="3.00" ry="1.98" transform="rotate(20 372.5 129.2)" fill="#0b3e3a" opacity="0.55"/><ellipse cx="423.9" cy="135.5" rx="3.00" ry="1.98" transform="rotate(-20 423.9 135.5)" fill="#0b3e3a" opacity="0.55"/><ellipse cx="433.4" cy="26.2" rx="3.00" ry="1.98" transform="rotate(0 433.4 26.2)" fill="#0b3e3a" opacity="0.55"/><ellipse cx="387.3" cy="72.3" rx="3.00" ry="1.98" transform="rotate(40 387.3 72.3)" fill="#0b3e3a" opacity="0.55"/><ellipse cx="426.1" cy="120.7" rx="3.00" ry="1.98" transform="rotate(40 426.1 120.7)" fill="#0c406c" opacity="0.85"/><ellipse cx="388.1" cy="26.8" rx="3.00" ry="1.98" transform="rotate(80 388.1 26.8)" fill="#0c406c" opacity="0.85"/><ellipse cx="434.3" cy="48.1" rx="3.00" ry="1.98" transform="rotate(40 434.3 48.1)" fill="#0c406c" opacity="0.85"/><ellipse cx="406.5" cy="120.4" rx="3.00" ry="1.98" transform="rotate(-40 406.5 120.4)" fill="#0c406c" opacity="0.85"/><ellipse cx="480.9" cy="57.5" rx="3.00" ry="1.98" transform="rotate(0 480.9 57.5)" fill="#0b3e3a" opacity="0.55"/><ellipse cx="418.4" cy="116.5" rx="3.00" ry="1.98" transform="rotate(60 418.4 116.5)" fill="#0b3e3a" opacity="0.55"/><ellipse cx="352.2" cy="19.5" rx="3.00" ry="1.98" transform="rotate(-20 352.2 19.5)" fill="#0c406c" opacity="0.85"/><ellipse cx="457.8" cy="143.0" rx="3.00" ry="1.98" transform="rotate(0 457.8 143.0)" fill="#0b3e3a" opacity="0.55"/><ellipse cx="444.7" cy="78.9" rx="3.00" ry="1.98" transform="rotate(60 444.7 78.9)" fill="#0b3e3a" opacity="0.55"/></g>
</g>
<g clip-path="url(#cp4)">
<rect x="516.0" y="0" width="150.0" height="149.5" fill="#04250c"/>
<g filter="url(#bb)">
<ellipse cx="530.0" cy="60.0" rx="14.0" ry="40.0" fill="#031e09" opacity="0.45"/>
<ellipse cx="600.0" cy="40.0" rx="40.0" ry="20.0" fill="#083812" opacity="0.30"/>
<ellipse cx="640.0" cy="110.0" rx="25.0" ry="30.0" fill="#04220a" opacity="0.35"/>
<ellipse cx="560.0" cy="120.0" rx="30.0" ry="20.0" fill="#083612" opacity="0.30"/>
</g>
<g filter="url(#bh)"><ellipse cx="521.7" cy="2.1" rx="4.8" ry="2.3" transform="rotate(0 521.7 2.1)" fill="#106024" opacity="0.45"/><ellipse cx="539.5" cy="2.9" rx="4.8" ry="2.3" transform="rotate(-40 539.5 2.9)" fill="#106024" opacity="0.41"/><ellipse cx="561.6" cy="2.6" rx="5.8" ry="2.8" transform="rotate(0 561.6 2.6)" fill="#106024" opacity="0.45"/><ellipse cx="581.6" cy="5.7" rx="4.8" ry="2.3" transform="rotate(40 581.6 5.7)" fill="#106024" opacity="0.41"/><ellipse cx="522.4" cy="10.7" rx="4.8" ry="2.3" transform="rotate(-20 522.4 10.7)" fill="#106024" opacity="0.41"/><ellipse cx="543.1" cy="12.1" rx="4.8" ry="2.3" transform="rotate(80 543.1 12.1)" fill="#106024" opacity="0.45"/><ellipse cx="550.2" cy="15.0" rx="4.8" ry="2.3" transform="rotate(-20 550.2 15.0)" fill="#106024" opacity="0.45"/><ellipse cx="566.6" cy="14.3" rx="4.8" ry="2.3" transform="rotate(80 566.6 14.3)" fill="#106024" opacity="0.41"/><ellipse cx="531.7" cy="11.4" rx="4.8" ry="2.3" transform="rotate(-40 531.7 11.4)" fill="#106024" opacity="0.27"/><ellipse cx="536.0" cy="18.5" rx="4.8" ry="2.3" transform="rotate(60 536.0 18.5)" fill="#106024" opacity="0.27"/><ellipse cx="547.4" cy="25.0" rx="5.8" ry="2.8" transform="rotate(0 547.4 25.0)" fill="#106024" opacity="0.45"/><ellipse cx="523.8" cy="27.1" rx="4.8" ry="2.3" transform="rotate(-60 523.8 27.1)" fill="#106024" opacity="0.41"/><ellipse cx="533.8" cy="26.4" rx="4.8" ry="2.3" transform="rotate(-40 533.8 26.4)" fill="#106024" opacity="0.41"/><ellipse cx="558.1" cy="23.5" rx="4.8" ry="2.3" transform="rotate(80 558.1 23.5)" fill="#106024" opacity="0.27"/><ellipse cx="567.4" cy="26.4" rx="4.8" ry="2.3" transform="rotate(80 567.4 26.4)" fill="#106024" opacity="0.41"/><ellipse cx="575.9" cy="23.5" rx="4.8" ry="2.3" transform="rotate(40 575.9 23.5)" fill="#106024" opacity="0.41"/><ellipse cx="585.9" cy="29.2" rx="4.8" ry="2.3" transform="rotate(40 585.9 29.2)" fill="#106024" opacity="0.41"/><ellipse cx="561.6" cy="31.4" rx="4.8" ry="2.3" transform="rotate(0 561.6 31.4)" fill="#106024" opacity="0.27"/><ellipse cx="533.1" cy="36.4" rx="4.8" ry="2.3" transform="rotate(80 533.1 36.4)" fill="#106024" opacity="0.45"/><ellipse cx="553.8" cy="37.1" rx="4.8" ry="2.3" transform="rotate(80 553.8 37.1)" fill="#106024" opacity="0.41"/><ellipse cx="577.3" cy="36.4" rx="4.8" ry="2.3" transform="rotate(-40 577.3 36.4)" fill="#106024" opacity="0.41"/><ellipse cx="565.9" cy="42.8" rx="4.8" ry="2.3" transform="rotate(40 565.9 42.8)" fill="#106024" opacity="0.41"/><ellipse cx="541.0" cy="45.9" rx="4.8" ry="2.3" transform="rotate(-20 541.0 45.9)" fill="#106024" opacity="0.45"/><ellipse cx="588.0" cy="47.1" rx="4.8" ry="2.3" transform="rotate(80 588.0 47.1)" fill="#106024" opacity="0.45"/><ellipse cx="573.8" cy="46.4" rx="4.8" ry="2.3" transform="rotate(40 573.8 46.4)" fill="#106024" opacity="0.27"/><ellipse cx="581.6" cy="47.1" rx="4.8" ry="2.3" transform="rotate(0 581.6 47.1)" fill="#106024" opacity="0.27"/><ellipse cx="518.9" cy="47.1" rx="4.8" ry="2.3" transform="rotate(-60 518.9 47.1)" fill="#106024" opacity="0.41"/><ellipse cx="560.7" cy="49.2" rx="4.8" ry="2.3" transform="rotate(80 560.7 49.2)" fill="#106024" opacity="0.45"/><ellipse cx="565.6" cy="55.6" rx="4.8" ry="2.3" transform="rotate(80 565.6 55.6)" fill="#106024" opacity="0.45"/><ellipse cx="558.8" cy="56.3" rx="3.4" ry="1.6" transform="rotate(0 558.8 56.3)" fill="#106024" opacity="0.45"/><ellipse cx="562.4" cy="54.2" rx="2.9" ry="1.4" transform="rotate(0 562.4 54.2)" fill="#106024" opacity="0.45"/><ellipse cx="573.8" cy="52.1" rx="4.8" ry="2.3" transform="rotate(-20 573.8 52.1)" fill="#106024" opacity="0.27"/><ellipse cx="579.5" cy="57.1" rx="4.8" ry="2.3" transform="rotate(80 579.5 57.1)" fill="#106024" opacity="0.27"/><ellipse cx="541.7" cy="61.6" rx="4.8" ry="2.3" transform="rotate(-30 541.7 61.6)" fill="#106024" opacity="0.45"/><ellipse cx="520.3" cy="62.8" rx="4.8" ry="2.3" transform="rotate(-20 520.3 62.8)" fill="#106024" opacity="0.41"/><ellipse cx="530.3" cy="62.8" rx="4.8" ry="2.3" transform="rotate(80 530.3 62.8)" fill="#106024" opacity="0.41"/><ellipse cx="558.8" cy="66.3" rx="5.8" ry="2.8" transform="rotate(0 558.8 66.3)" fill="#106024" opacity="0.45"/><ellipse cx="570.9" cy="66.3" rx="4.8" ry="2.3" transform="rotate(-20 570.9 66.3)" fill="#106024" opacity="0.45"/><ellipse cx="587.3" cy="64.9" rx="4.8" ry="2.3" transform="rotate(20 587.3 64.9)" fill="#106024" opacity="0.45"/><ellipse cx="565.9" cy="71.3" rx="4.8" ry="2.3" transform="rotate(60 565.9 71.3)" fill="#106024" opacity="0.41"/><ellipse cx="577.3" cy="63.5" rx="4.8" ry="2.3" transform="rotate(60 577.3 63.5)" fill="#106024" opacity="0.27"/><ellipse cx="531.7" cy="71.3" rx="4.8" ry="2.3" transform="rotate(0 531.7 71.3)" fill="#106024" opacity="0.27"/><ellipse cx="550.2" cy="72.0" rx="4.8" ry="2.3" transform="rotate(-20 550.2 72.0)" fill="#106024" opacity="0.27"/><ellipse cx="616.7" cy="3.6" rx="4.8" ry="2.3" transform="rotate(-60 616.7 3.6)" fill="#106024" opacity="0.45"/><ellipse cx="643.1" cy="0.7" rx="4.8" ry="2.3" transform="rotate(20 643.1 0.7)" fill="#106024" opacity="0.45"/><ellipse cx="629.5" cy="6.4" rx="4.8" ry="2.3" transform="rotate(20 629.5 6.4)" fill="#106024" opacity="0.45"/><ellipse cx="655.2" cy="5.7" rx="4.8" ry="2.3" transform="rotate(80 655.2 5.7)" fill="#106024" opacity="0.41"/><ellipse cx="663.8" cy="10.7" rx="4.8" ry="2.3" transform="rotate(40 663.8 10.7)" fill="#106024" opacity="0.41"/><ellipse cx="661.6" cy="18.5" rx="4.8" ry="2.3" transform="rotate(80 661.6 18.5)" fill="#106024" opacity="0.45"/><ellipse cx="601.0" cy="27.1" rx="4.8" ry="2.3" transform="rotate(40 601.0 27.1)" fill="#106024" opacity="0.41"/><ellipse cx="609.5" cy="22.8" rx="4.8" ry="2.3" transform="rotate(-20 609.5 22.8)" fill="#106024" opacity="0.41"/><ellipse cx="614.5" cy="30.7" rx="4.8" ry="2.3" transform="rotate(20 614.5 30.7)" fill="#106024" opacity="0.41"/><ellipse cx="621.0" cy="30.7" rx="4.8" ry="2.3" transform="rotate(80 621.0 30.7)" fill="#106024" opacity="0.41"/><ellipse cx="627.4" cy="35.0" rx="4.8" ry="2.3" transform="rotate(80 627.4 35.0)" fill="#106024" opacity="0.41"/><ellipse cx="654.5" cy="33.5" rx="4.8" ry="2.3" transform="rotate(-40 654.5 33.5)" fill="#106024" opacity="0.27"/><ellipse cx="659.5" cy="35.0" rx="4.8" ry="2.3" transform="rotate(80 659.5 35.0)" fill="#106024" opacity="0.41"/><ellipse cx="663.8" cy="42.8" rx="4.8" ry="2.3" transform="rotate(40 663.8 42.8)" fill="#106024" opacity="0.41"/><ellipse cx="600.3" cy="38.5" rx="4.8" ry="2.3" transform="rotate(80 600.3 38.5)" fill="#106024" opacity="0.45"/><ellipse cx="641.6" cy="37.8" rx="4.8" ry="2.3" transform="rotate(80 641.6 37.8)" fill="#106024" opacity="0.41"/><ellipse cx="619.5" cy="41.4" rx="4.8" ry="2.3" transform="rotate(20 619.5 41.4)" fill="#106024" opacity="0.41"/><ellipse cx="650.2" cy="42.8" rx="4.8" ry="2.3" transform="rotate(-40 650.2 42.8)" fill="#106024" opacity="0.45"/><ellipse cx="601.0" cy="47.1" rx="4.8" ry="2.3" transform="rotate(80 601.0 47.1)" fill="#106024" opacity="0.45"/><ellipse cx="642.4" cy="46.4" rx="4.8" ry="2.3" transform="rotate(-20 642.4 46.4)" fill="#106024" opacity="0.45"/><ellipse cx="593.1" cy="50.6" rx="4.8" ry="2.3" transform="rotate(-60 593.1 50.6)" fill="#106024" opacity="0.41"/><ellipse cx="614.5" cy="50.6" rx="4.8" ry="2.3" transform="rotate(0 614.5 50.6)" fill="#106024" opacity="0.27"/><ellipse cx="632.4" cy="49.2" rx="4.8" ry="2.3" transform="rotate(80 632.4 49.2)" fill="#106024" opacity="0.27"/><ellipse cx="619.5" cy="54.9" rx="3.4" ry="1.6" transform="rotate(0 619.5 54.9)" fill="#106024" opacity="0.45"/><ellipse cx="651.6" cy="54.9" rx="4.8" ry="2.3" transform="rotate(20 651.6 54.9)" fill="#106024" opacity="0.45"/><ellipse cx="626.0" cy="56.3" rx="4.8" ry="2.3" transform="rotate(-40 626.0 56.3)" fill="#106024" opacity="0.41"/><ellipse cx="633.1" cy="57.8" rx="4.8" ry="2.3" transform="rotate(20 633.1 57.8)" fill="#106024" opacity="0.41"/><ellipse cx="640.2" cy="56.3" rx="4.8" ry="2.3" transform="rotate(0 640.2 56.3)" fill="#106024" opacity="0.27"/><ellipse cx="595.3" cy="59.2" rx="4.8" ry="2.3" transform="rotate(40 595.3 59.2)" fill="#106024" opacity="0.41"/><ellipse cx="661.6" cy="62.1" rx="4.8" ry="2.3" transform="rotate(60 661.6 62.1)" fill="#106024" opacity="0.45"/><ellipse cx="623.8" cy="62.8" rx="4.8" ry="2.3" transform="rotate(20 623.8 62.8)" fill="#106024" opacity="0.41"/><ellipse cx="652.3" cy="61.3" rx="4.8" ry="2.3" transform="rotate(0 652.3 61.3)" fill="#106024" opacity="0.27"/><ellipse cx="592.4" cy="67.0" rx="4.8" ry="2.3" transform="rotate(0 592.4 67.0)" fill="#106024" opacity="0.45"/><ellipse cx="603.8" cy="67.0" rx="4.8" ry="2.3" transform="rotate(-40 603.8 67.0)" fill="#106024" opacity="0.41"/><ellipse cx="635.9" cy="66.3" rx="4.8" ry="2.3" transform="rotate(60 635.9 66.3)" fill="#106024" opacity="0.27"/><ellipse cx="645.9" cy="71.3" rx="4.8" ry="2.3" transform="rotate(20 645.9 71.3)" fill="#106024" opacity="0.41"/><ellipse cx="615.3" cy="71.3" rx="4.8" ry="2.3" transform="rotate(60 615.3 71.3)" fill="#106024" opacity="0.27"/><ellipse cx="628.8" cy="74.2" rx="4.8" ry="2.3" transform="rotate(-20 628.8 74.2)" fill="#106024" opacity="0.45"/><ellipse cx="557.4" cy="77.1" rx="4.8" ry="2.3" transform="rotate(40 557.4 77.1)" fill="#106024" opacity="0.45"/><ellipse cx="576.6" cy="77.1" rx="4.8" ry="2.3" transform="rotate(-60 576.6 77.1)" fill="#106024" opacity="0.45"/><ellipse cx="536.0" cy="80.0" rx="4.8" ry="2.3" transform="rotate(20 536.0 80.0)" fill="#106024" opacity="0.41"/><ellipse cx="565.2" cy="80.0" rx="4.8" ry="2.3" transform="rotate(-20 565.2 80.0)" fill="#106024" opacity="0.27"/><ellipse cx="519.6" cy="82.8" rx="4.8" ry="2.3" transform="rotate(-60 519.6 82.8)" fill="#106024" opacity="0.41"/><ellipse cx="548.8" cy="84.3" rx="4.8" ry="2.3" transform="rotate(80 548.8 84.3)" fill="#106024" opacity="0.45"/><ellipse cx="582.3" cy="84.3" rx="5.8" ry="2.8" transform="rotate(0 582.3 84.3)" fill="#106024" opacity="0.45"/><ellipse cx="542.4" cy="87.8" rx="4.8" ry="2.3" transform="rotate(40 542.4 87.8)" fill="#106024" opacity="0.45"/><ellipse cx="526.7" cy="85.7" rx="4.8" ry="2.3" transform="rotate(-20 526.7 85.7)" fill="#106024" opacity="0.41"/><ellipse cx="580.9" cy="89.3" rx="5.8" ry="2.8" transform="rotate(0 580.9 89.3)" fill="#106024" opacity="0.45"/><ellipse cx="563.1" cy="88.6" rx="4.8" ry="2.3" transform="rotate(80 563.1 88.6)" fill="#106024" opacity="0.27"/><ellipse cx="529.6" cy="92.1" rx="4.8" ry="2.3" transform="rotate(-60 529.6 92.1)" fill="#106024" opacity="0.27"/><ellipse cx="583.0" cy="93.5" rx="4.8" ry="2.3" transform="rotate(20 583.0 93.5)" fill="#106024" opacity="0.45"/><ellipse cx="548.1" cy="93.5" rx="4.8" ry="2.3" transform="rotate(-20 548.1 93.5)" fill="#106024" opacity="0.41"/><ellipse cx="572.3" cy="96.4" rx="4.8" ry="2.3" transform="rotate(40 572.3 96.4)" fill="#106024" opacity="0.27"/><ellipse cx="566.6" cy="100.0" rx="4.8" ry="2.3" transform="rotate(60 566.6 100.0)" fill="#106024" opacity="0.41"/><ellipse cx="526.0" cy="100.7" rx="4.8" ry="2.3" transform="rotate(-60 526.0 100.7)" fill="#106024" opacity="0.41"/><ellipse cx="555.9" cy="100.7" rx="4.8" ry="2.3" transform="rotate(60 555.9 100.7)" fill="#106024" opacity="0.27"/><ellipse cx="535.3" cy="105.7" rx="4.8" ry="2.3" transform="rotate(0 535.3 105.7)" fill="#106024" opacity="0.45"/><ellipse cx="569.5" cy="105.7" rx="3.4" ry="1.6" transform="rotate(0 569.5 105.7)" fill="#106024" opacity="0.45"/><ellipse cx="589.5" cy="107.1" rx="4.8" ry="2.3" transform="rotate(20 589.5 107.1)" fill="#106024" opacity="0.45"/><ellipse cx="549.5" cy="109.2" rx="4.8" ry="2.3" transform="rotate(-20 549.5 109.2)" fill="#106024" opacity="0.41"/><ellipse cx="582.3" cy="110.0" rx="4.8" ry="2.3" transform="rotate(-20 582.3 110.0)" fill="#106024" opacity="0.27"/><ellipse cx="520.3" cy="114.9" rx="4.8" ry="2.3" transform="rotate(-20 520.3 114.9)" fill="#106024" opacity="0.45"/><ellipse cx="543.1" cy="112.8" rx="4.8" ry="2.3" transform="rotate(0 543.1 112.8)" fill="#106024" opacity="0.27"/><ellipse cx="529.6" cy="117.1" rx="4.8" ry="2.3" transform="rotate(-20 529.6 117.1)" fill="#106024" opacity="0.41"/><ellipse cx="576.6" cy="116.4" rx="4.8" ry="2.3" transform="rotate(0 576.6 116.4)" fill="#106024" opacity="0.27"/><ellipse cx="546.0" cy="119.2" rx="4.8" ry="2.3" transform="rotate(-40 546.0 119.2)" fill="#106024" opacity="0.45"/><ellipse cx="563.8" cy="119.9" rx="4.8" ry="2.3" transform="rotate(80 563.8 119.9)" fill="#106024" opacity="0.45"/><ellipse cx="570.9" cy="119.9" rx="4.8" ry="2.3" transform="rotate(-40 570.9 119.9)" fill="#106024" opacity="0.45"/><ellipse cx="568.1" cy="122.8" rx="3.4" ry="1.6" transform="rotate(0 568.1 122.8)" fill="#106024" opacity="0.45"/><ellipse cx="582.3" cy="120.6" rx="4.8" ry="2.3" transform="rotate(80 582.3 120.6)" fill="#106024" opacity="0.45"/><ellipse cx="521.7" cy="124.9" rx="4.8" ry="2.3" transform="rotate(20 521.7 124.9)" fill="#106024" opacity="0.41"/><ellipse cx="526.7" cy="124.2" rx="4.8" ry="2.3" transform="rotate(-20 526.7 124.2)" fill="#106024" opacity="0.41"/><ellipse cx="585.2" cy="129.2" rx="4.8" ry="2.3" transform="rotate(0 585.2 129.2)" fill="#106024" opacity="0.45"/><ellipse cx="576.6" cy="129.2" rx="3.4" ry="1.6" transform="rotate(0 576.6 129.2)" fill="#106024" opacity="0.45"/><ellipse cx="533.8" cy="129.2" rx="4.8" ry="2.3" transform="rotate(-20 533.8 129.2)" fill="#106024" opacity="0.27"/><ellipse cx="551.0" cy="129.9" rx="4.8" ry="2.3" transform="rotate(0 551.0 129.9)" fill="#106024" opacity="0.27"/><ellipse cx="542.4" cy="132.1" rx="4.8" ry="2.3" transform="rotate(20 542.4 132.1)" fill="#106024" opacity="0.45"/><ellipse cx="524.6" cy="132.8" rx="4.8" ry="2.3" transform="rotate(0 524.6 132.8)" fill="#106024" opacity="0.27"/><ellipse cx="561.6" cy="135.6" rx="4.8" ry="2.3" transform="rotate(-60 561.6 135.6)" fill="#106024" opacity="0.27"/><ellipse cx="571.6" cy="137.1" rx="5.8" ry="2.8" transform="rotate(0 571.6 137.1)" fill="#106024" opacity="0.45"/><ellipse cx="589.5" cy="138.5" rx="4.8" ry="2.3" transform="rotate(-40 589.5 138.5)" fill="#106024" opacity="0.45"/><ellipse cx="534.5" cy="136.3" rx="4.8" ry="2.3" transform="rotate(60 534.5 136.3)" fill="#106024" opacity="0.27"/><ellipse cx="551.7" cy="142.0" rx="4.8" ry="2.3" transform="rotate(-60 551.7 142.0)" fill="#106024" opacity="0.27"/><ellipse cx="520.3" cy="144.9" rx="4.8" ry="2.3" transform="rotate(40 520.3 144.9)" fill="#106024" opacity="0.41"/><ellipse cx="533.8" cy="144.2" rx="4.8" ry="2.3" transform="rotate(40 533.8 144.2)" fill="#106024" opacity="0.41"/><ellipse cx="570.9" cy="144.2" rx="4.8" ry="2.3" transform="rotate(20 570.9 144.2)" fill="#106024" opacity="0.45"/><ellipse cx="560.9" cy="144.9" rx="4.8" ry="2.3" transform="rotate(80 560.9 144.9)" fill="#106024" opacity="0.41"/><ellipse cx="583.0" cy="145.6" rx="4.8" ry="2.3" transform="rotate(-40 583.0 145.6)" fill="#106024" opacity="0.27"/><ellipse cx="628.8" cy="76.4" rx="4.8" ry="2.3" transform="rotate(-60 628.8 76.4)" fill="#106024" opacity="0.45"/><ellipse cx="601.0" cy="76.4" rx="4.8" ry="2.3" transform="rotate(60 601.0 76.4)" fill="#106024" opacity="0.41"/><ellipse cx="593.9" cy="80.0" rx="4.8" ry="2.3" transform="rotate(80 593.9 80.0)" fill="#106024" opacity="0.41"/><ellipse cx="608.1" cy="81.4" rx="4.8" ry="2.3" transform="rotate(-20 608.1 81.4)" fill="#106024" opacity="0.41"/><ellipse cx="635.2" cy="85.0" rx="4.8" ry="2.3" transform="rotate(80 635.2 85.0)" fill="#106024" opacity="0.41"/><ellipse cx="656.6" cy="85.0" rx="4.8" ry="2.3" transform="rotate(20 656.6 85.0)" fill="#106024" opacity="0.27"/><ellipse cx="623.1" cy="92.8" rx="4.8" ry="2.3" transform="rotate(-30 623.1 92.8)" fill="#106024" opacity="0.45"/><ellipse cx="595.3" cy="92.1" rx="4.8" ry="2.3" transform="rotate(0 595.3 92.1)" fill="#106024" opacity="0.27"/><ellipse cx="606.0" cy="90.7" rx="4.8" ry="2.3" transform="rotate(-20 606.0 90.7)" fill="#106024" opacity="0.27"/><ellipse cx="642.1" cy="95.4" rx="4.8" ry="2.3" transform="rotate(40 642.1 95.4)" fill="#106024" opacity="0.45"/><ellipse cx="653.8" cy="97.1" rx="4.8" ry="2.3" transform="rotate(-60 653.8 97.1)" fill="#106024" opacity="0.41"/><ellipse cx="601.7" cy="96.4" rx="4.8" ry="2.3" transform="rotate(-20 601.7 96.4)" fill="#106024" opacity="0.41"/><ellipse cx="608.8" cy="100.0" rx="4.8" ry="2.3" transform="rotate(40 608.8 100.0)" fill="#106024" opacity="0.41"/><ellipse cx="613.8" cy="101.4" rx="4.8" ry="2.3" transform="rotate(-60 613.8 101.4)" fill="#106024" opacity="0.45"/><ellipse cx="626.0" cy="100.0" rx="4.8" ry="2.3" transform="rotate(40 626.0 100.0)" fill="#106024" opacity="0.27"/><ellipse cx="635.9" cy="102.1" rx="4.8" ry="2.3" transform="rotate(80 635.9 102.1)" fill="#106024" opacity="0.45"/><ellipse cx="620.2" cy="105.0" rx="4.8" ry="2.3" transform="rotate(80 620.2 105.0)" fill="#106024" opacity="0.45"/><ellipse cx="661.6" cy="106.4" rx="4.8" ry="2.3" transform="rotate(80 661.6 106.4)" fill="#106024" opacity="0.45"/><ellipse cx="599.6" cy="109.2" rx="3.4" ry="1.6" transform="rotate(0 599.6 109.2)" fill="#106024" opacity="0.45"/><ellipse cx="644.5" cy="107.1" rx="4.8" ry="2.3" transform="rotate(-40 644.5 107.1)" fill="#106024" opacity="0.27"/><ellipse cx="593.9" cy="107.8" rx="4.8" ry="2.3" transform="rotate(-40 593.9 107.8)" fill="#106024" opacity="0.41"/><ellipse cx="643.8" cy="114.2" rx="4.8" ry="2.3" transform="rotate(40 643.8 114.2)" fill="#106024" opacity="0.45"/><ellipse cx="625.2" cy="115.7" rx="4.8" ry="2.3" transform="rotate(0 625.2 115.7)" fill="#106024" opacity="0.41"/><ellipse cx="612.4" cy="119.9" rx="4.8" ry="2.3" transform="rotate(40 612.4 119.9)" fill="#106024" opacity="0.45"/><ellipse cx="632.4" cy="121.4" rx="4.8" ry="2.3" transform="rotate(60 632.4 121.4)" fill="#106024" opacity="0.41"/><ellipse cx="597.4" cy="124.9" rx="4.8" ry="2.3" transform="rotate(-60 597.4 124.9)" fill="#106024" opacity="0.27"/><ellipse cx="663.8" cy="124.2" rx="4.8" ry="2.3" transform="rotate(20 663.8 124.2)" fill="#106024" opacity="0.45"/><ellipse cx="657.3" cy="127.8" rx="2.9" ry="1.4" transform="rotate(0 657.3 127.8)" fill="#106024" opacity="0.45"/><ellipse cx="660.2" cy="130.6" rx="2.9" ry="1.4" transform="rotate(0 660.2 130.6)" fill="#106024" opacity="0.45"/><ellipse cx="624.5" cy="129.9" rx="5.3" ry="2.5" transform="rotate(0 624.5 129.9)" fill="#106024" opacity="0.45"/><ellipse cx="644.5" cy="131.3" rx="4.8" ry="2.3" transform="rotate(-40 644.5 131.3)" fill="#106024" opacity="0.45"/><ellipse cx="609.5" cy="132.8" rx="4.8" ry="2.3" transform="rotate(80 609.5 132.8)" fill="#106024" opacity="0.27"/><ellipse cx="596.0" cy="137.8" rx="4.8" ry="2.3" transform="rotate(80 596.0 137.8)" fill="#106024" opacity="0.27"/><ellipse cx="659.5" cy="139.9" rx="5.8" ry="2.8" transform="rotate(0 659.5 139.9)" fill="#106024" opacity="0.45"/><ellipse cx="622.4" cy="139.2" rx="4.8" ry="2.3" transform="rotate(-60 622.4 139.2)" fill="#106024" opacity="0.27"/><ellipse cx="633.8" cy="140.6" rx="4.8" ry="2.3" transform="rotate(-20 633.8 140.6)" fill="#106024" opacity="0.41"/><ellipse cx="613.8" cy="142.8" rx="4.8" ry="2.3" transform="rotate(-60 613.8 142.8)" fill="#106024" opacity="0.27"/><ellipse cx="597.4" cy="144.9" rx="4.8" ry="2.3" transform="rotate(0 597.4 144.9)" fill="#106024" opacity="0.41"/><ellipse cx="645.2" cy="147.0" rx="4.8" ry="2.3" transform="rotate(-40 645.2 147.0)" fill="#106024" opacity="0.45"/><ellipse cx="630.2" cy="144.9" rx="4.8" ry="2.3" transform="rotate(0 630.2 144.9)" fill="#106024" opacity="0.27"/><ellipse cx="665.2" cy="135.6" rx="4.8" ry="2.3" transform="rotate(-20 665.2 135.6)" fill="#106024" opacity="0.27"/><ellipse cx="526.6" cy="6.0" rx="4.8" ry="2.3" transform="rotate(-20 526.6 6.0)" fill="#106024" opacity="0.27"/><ellipse cx="616.8" cy="111.3" rx="4.8" ry="2.3" transform="rotate(-40 616.8 111.3)" fill="#106024" opacity="0.27"/><ellipse cx="546.5" cy="37.5" rx="4.8" ry="2.3" transform="rotate(20 546.5 37.5)" fill="#106024" opacity="0.41"/><ellipse cx="647.9" cy="86.3" rx="4.8" ry="2.3" transform="rotate(20 647.9 86.3)" fill="#106024" opacity="0.27"/><ellipse cx="663.9" cy="75.8" rx="4.8" ry="2.3" transform="rotate(-60 663.9 75.8)" fill="#106024" opacity="0.41"/><ellipse cx="638.2" cy="125.0" rx="4.8" ry="2.3" transform="rotate(-60 638.2 125.0)" fill="#106024" opacity="0.41"/><ellipse cx="545.1" cy="144.5" rx="4.8" ry="2.3" transform="rotate(-40 545.1 144.5)" fill="#106024" opacity="0.27"/><ellipse cx="603.3" cy="138.2" rx="4.8" ry="2.3" transform="rotate(0 603.3 138.2)" fill="#106024" opacity="0.27"/><ellipse cx="583.5" cy="39.3" rx="4.8" ry="2.3" transform="rotate(20 583.5 39.3)" fill="#106024" opacity="0.27"/><ellipse cx="608.8" cy="33.1" rx="4.8" ry="2.3" transform="rotate(-60 608.8 33.1)" fill="#106024" opacity="0.41"/><ellipse cx="547.1" cy="2.7" rx="4.8" ry="2.3" transform="rotate(80 547.1 2.7)" fill="#106024" opacity="0.41"/><ellipse cx="658.1" cy="47.1" rx="4.8" ry="2.3" transform="rotate(0 658.1 47.1)" fill="#106024" opacity="0.41"/><ellipse cx="600.8" cy="53.7" rx="4.8" ry="2.3" transform="rotate(80 600.8 53.7)" fill="#106024" opacity="0.27"/><ellipse cx="664.5" cy="54.7" rx="4.8" ry="2.3" transform="rotate(-40 664.5 54.7)" fill="#106024" opacity="0.27"/><ellipse cx="609.1" cy="55.7" rx="4.8" ry="2.3" transform="rotate(40 609.1 55.7)" fill="#106024" opacity="0.27"/><ellipse cx="589.6" cy="119.7" rx="4.8" ry="2.3" transform="rotate(-40 589.6 119.7)" fill="#106024" opacity="0.27"/><ellipse cx="549.9" cy="60.7" rx="4.8" ry="2.3" transform="rotate(-20 549.9 60.7)" fill="#106024" opacity="0.27"/><ellipse cx="608.6" cy="73.2" rx="4.8" ry="2.3" transform="rotate(-60 608.6 73.2)" fill="#106024" opacity="0.41"/><ellipse cx="543.6" cy="70.8" rx="4.8" ry="2.3" transform="rotate(20 543.6 70.8)" fill="#106024" opacity="0.41"/><ellipse cx="523.0" cy="94.9" rx="4.8" ry="2.3" transform="rotate(-40 523.0 94.9)" fill="#106024" opacity="0.27"/><ellipse cx="529.2" cy="109.2" rx="4.8" ry="2.3" transform="rotate(80 529.2 109.2)" fill="#106024" opacity="0.41"/><ellipse cx="525.0" cy="75.3" rx="4.8" ry="2.3" transform="rotate(80 525.0 75.3)" fill="#106024" opacity="0.27"/><ellipse cx="637.6" cy="29.6" rx="4.8" ry="2.3" transform="rotate(20 637.6 29.6)" fill="#106024" opacity="0.27"/><ellipse cx="568.9" cy="112.5" rx="4.8" ry="2.3" transform="rotate(-40 568.9 112.5)" fill="#106024" opacity="0.27"/><ellipse cx="557.7" cy="121.3" rx="4.8" ry="2.3" transform="rotate(-40 557.7 121.3)" fill="#106024" opacity="0.27"/><ellipse cx="649.5" cy="25.9" rx="4.8" ry="2.3" transform="rotate(-40 649.5 25.9)" fill="#106024" opacity="0.41"/><ellipse cx="570.2" cy="129.8" rx="4.8" ry="2.3" transform="rotate(60 570.2 129.8)" fill="#106024" opacity="0.27"/><ellipse cx="599.2" cy="86.6" rx="4.8" ry="2.3" transform="rotate(-20 599.2 86.6)" fill="#106024" opacity="0.41"/><ellipse cx="664.0" cy="93.9" rx="4.8" ry="2.3" transform="rotate(0 664.0 93.9)" fill="#106024" opacity="0.41"/><ellipse cx="662.6" cy="87.4" rx="4.8" ry="2.3" transform="rotate(0 662.6 87.4)" fill="#106024" opacity="0.41"/><ellipse cx="569.9" cy="34.1" rx="4.8" ry="2.3" transform="rotate(-20 569.9 34.1)" fill="#106024" opacity="0.41"/><ellipse cx="582.7" cy="139.2" rx="4.8" ry="2.3" transform="rotate(80 582.7 139.2)" fill="#106024" opacity="0.27"/><ellipse cx="594.4" cy="40.1" rx="4.8" ry="2.3" transform="rotate(60 594.4 40.1)" fill="#106024" opacity="0.41"/><ellipse cx="519.3" cy="39.4" rx="4.8" ry="2.3" transform="rotate(-20 519.3 39.4)" fill="#106024" opacity="0.41"/><ellipse cx="656.8" cy="111.1" rx="4.8" ry="2.3" transform="rotate(-60 656.8 111.1)" fill="#106024" opacity="0.41"/><ellipse cx="643.9" cy="65.5" rx="4.8" ry="2.3" transform="rotate(60 643.9 65.5)" fill="#106024" opacity="0.27"/><ellipse cx="624.2" cy="85.1" rx="4.8" ry="2.3" transform="rotate(60 624.2 85.1)" fill="#106024" opacity="0.27"/><ellipse cx="521.0" cy="16.7" rx="4.8" ry="2.3" transform="rotate(-60 521.0 16.7)" fill="#106024" opacity="0.27"/><ellipse cx="559.5" cy="15.7" rx="4.8" ry="2.3" transform="rotate(60 559.5 15.7)" fill="#106024" opacity="0.27"/><ellipse cx="547.3" cy="48.1" rx="4.8" ry="2.3" transform="rotate(-60 547.3 48.1)" fill="#106024" opacity="0.27"/><ellipse cx="591.6" cy="126.6" rx="4.8" ry="2.3" transform="rotate(40 591.6 126.6)" fill="#106024" opacity="0.27"/><ellipse cx="589.6" cy="73.5" rx="4.8" ry="2.3" transform="rotate(40 589.6 73.5)" fill="#106024" opacity="0.27"/><ellipse cx="633.5" cy="93.6" rx="4.8" ry="2.3" transform="rotate(60 633.5 93.6)" fill="#106024" opacity="0.41"/><ellipse cx="569.6" cy="60.2" rx="4.8" ry="2.3" transform="rotate(0 569.6 60.2)" fill="#106024" opacity="0.27"/><ellipse cx="647.8" cy="35.5" rx="4.8" ry="2.3" transform="rotate(40 647.8 35.5)" fill="#106024" opacity="0.27"/><ellipse cx="626.8" cy="26.0" rx="4.8" ry="2.3" transform="rotate(60 626.8 26.0)" fill="#106024" opacity="0.41"/><ellipse cx="552.2" cy="29.3" rx="4.8" ry="2.3" transform="rotate(40 552.2 29.3)" fill="#106024" opacity="0.27"/><ellipse cx="561.6" cy="104.7" rx="4.8" ry="2.3" transform="rotate(60 561.6 104.7)" fill="#106024" opacity="0.27"/><ellipse cx="540.1" cy="37.5" rx="4.8" ry="2.3" transform="rotate(-60 540.1 37.5)" fill="#106024" opacity="0.41"/><ellipse cx="634.6" cy="109.2" rx="4.8" ry="2.3" transform="rotate(40 634.6 109.2)" fill="#106024" opacity="0.27"/><ellipse cx="617.6" cy="95.6" rx="4.8" ry="2.3" transform="rotate(-20 617.6 95.6)" fill="#106024" opacity="0.41"/><ellipse cx="577.6" cy="100.6" rx="4.8" ry="2.3" transform="rotate(40 577.6 100.6)" fill="#106024" opacity="0.27"/><ellipse cx="525.4" cy="41.5" rx="4.8" ry="2.3" transform="rotate(0 525.4 41.5)" fill="#106024" opacity="0.41"/><ellipse cx="595.0" cy="33.3" rx="4.8" ry="2.3" transform="rotate(60 595.0 33.3)" fill="#106024" opacity="0.27"/><ellipse cx="553.3" cy="45.5" rx="4.8" ry="2.3" transform="rotate(-60 553.3 45.5)" fill="#106024" opacity="0.27"/><ellipse cx="649.3" cy="117.2" rx="4.8" ry="2.3" transform="rotate(40 649.3 117.2)" fill="#106024" opacity="0.27"/><ellipse cx="619.5" cy="79.3" rx="4.8" ry="2.3" transform="rotate(-40 619.5 79.3)" fill="#106024" opacity="0.41"/><ellipse cx="537.6" cy="73.7" rx="4.8" ry="2.3" transform="rotate(-20 537.6 73.7)" fill="#106024" opacity="0.27"/><ellipse cx="522.0" cy="106.9" rx="4.8" ry="2.3" transform="rotate(-40 522.0 106.9)" fill="#106024" opacity="0.27"/><ellipse cx="534.6" cy="120.5" rx="4.8" ry="2.3" transform="rotate(40 534.6 120.5)" fill="#106024" opacity="0.41"/><ellipse cx="574.3" cy="88.3" rx="4.8" ry="2.3" transform="rotate(60 574.3 88.3)" fill="#106024" opacity="0.41"/><ellipse cx="655.8" cy="145.7" rx="4.8" ry="2.3" transform="rotate(0 655.8 145.7)" fill="#106024" opacity="0.41"/><ellipse cx="622.0" cy="68.9" rx="4.8" ry="2.3" transform="rotate(-60 622.0 68.9)" fill="#106024" opacity="0.41"/><ellipse cx="528.8" cy="46.9" rx="4.8" ry="2.3" transform="rotate(0 528.8 46.9)" fill="#106024" opacity="0.41"/><ellipse cx="525.8" cy="55.2" rx="4.8" ry="2.3" transform="rotate(-20 525.8 55.2)" fill="#106024" opacity="0.41"/><ellipse cx="606.7" cy="145.2" rx="4.8" ry="2.3" transform="rotate(60 606.7 145.2)" fill="#106024" opacity="0.27"/><ellipse cx="640.0" cy="89.7" rx="4.8" ry="2.3" transform="rotate(60 640.0 89.7)" fill="#106024" opacity="0.41"/><ellipse cx="603.8" cy="121.4" rx="4.8" ry="2.3" transform="rotate(80 603.8 121.4)" fill="#106024" opacity="0.41"/><ellipse cx="572.4" cy="16.7" rx="4.8" ry="2.3" transform="rotate(-60 572.4 16.7)" fill="#106024" opacity="0.27"/><ellipse cx="589.0" cy="84.7" rx="4.8" ry="2.3" transform="rotate(-60 589.0 84.7)" fill="#106024" opacity="0.41"/></g>
<g filter="url(#blp4)"><ellipse cx="521.7" cy="2.1" rx="2.62" ry="1.73" transform="rotate(0 521.7 2.1)" fill="#106342" opacity="0.80"/><ellipse cx="539.5" cy="2.9" rx="2.62" ry="1.73" transform="rotate(-40 539.5 2.9)" fill="#126968" opacity="0.85"/><ellipse cx="561.6" cy="2.6" rx="3.15" ry="2.08" transform="rotate(0 561.6 2.6)" fill="#198b61" opacity="0.90"/><ellipse cx="581.6" cy="5.7" rx="2.62" ry="1.73" transform="rotate(40 581.6 5.7)" fill="#0e497b" opacity="0.85"/><ellipse cx="522.4" cy="10.7" rx="2.62" ry="1.73" transform="rotate(-20 522.4 10.7)" fill="#126968" opacity="0.85"/><ellipse cx="543.1" cy="12.1" rx="2.76" ry="1.91" transform="rotate(80 543.1 12.1)" fill="#41ff6d" opacity="1.00"/><ellipse cx="543.1" cy="12.1" rx="1.38" ry="0.95" transform="rotate(80 543.1 12.1)" fill="#8cffb0" opacity=".55"/><ellipse cx="550.2" cy="15.0" rx="2.76" ry="1.91" transform="rotate(-20 550.2 15.0)" fill="#41ff6d" opacity="1.00"/><ellipse cx="550.2" cy="15.0" rx="1.38" ry="0.95" transform="rotate(-20 550.2 15.0)" fill="#8cffb0" opacity=".55"/><ellipse cx="566.6" cy="14.3" rx="2.62" ry="1.73" transform="rotate(80 566.6 14.3)" fill="#126968" opacity="0.85"/><ellipse cx="531.7" cy="11.4" rx="2.62" ry="1.73" transform="rotate(-40 531.7 11.4)" fill="#0e494f" opacity="0.55"/><ellipse cx="536.0" cy="18.5" rx="2.62" ry="1.73" transform="rotate(60 536.0 18.5)" fill="#0e494f" opacity="0.55"/><ellipse cx="547.4" cy="25.0" rx="3.15" ry="2.08" transform="rotate(0 547.4 25.0)" fill="#27c766" opacity="1.00"/><ellipse cx="523.8" cy="27.1" rx="2.62" ry="1.73" transform="rotate(-60 523.8 27.1)" fill="#126968" opacity="0.85"/><ellipse cx="533.8" cy="26.4" rx="2.62" ry="1.73" transform="rotate(-40 533.8 26.4)" fill="#126968" opacity="0.85"/><ellipse cx="558.1" cy="23.5" rx="2.62" ry="1.73" transform="rotate(80 558.1 23.5)" fill="#0e494f" opacity="0.55"/><ellipse cx="567.4" cy="26.4" rx="2.62" ry="1.73" transform="rotate(80 567.4 26.4)" fill="#126968" opacity="0.85"/><ellipse cx="575.9" cy="23.5" rx="2.62" ry="1.73" transform="rotate(40 575.9 23.5)" fill="#0e497b" opacity="0.85"/><ellipse cx="585.9" cy="29.2" rx="2.62" ry="1.73" transform="rotate(40 585.9 29.2)" fill="#0e497b" opacity="0.85"/><ellipse cx="561.6" cy="31.4" rx="2.62" ry="1.73" transform="rotate(0 561.6 31.4)" fill="#0e494f" opacity="0.55"/><ellipse cx="533.1" cy="36.4" rx="2.62" ry="1.73" transform="rotate(80 533.1 36.4)" fill="#106342" opacity="0.80"/><ellipse cx="553.8" cy="37.1" rx="2.62" ry="1.73" transform="rotate(80 553.8 37.1)" fill="#126968" opacity="0.85"/><ellipse cx="577.3" cy="36.4" rx="2.62" ry="1.73" transform="rotate(-40 577.3 36.4)" fill="#126968" opacity="0.85"/><ellipse cx="565.9" cy="42.8" rx="2.62" ry="1.73" transform="rotate(40 565.9 42.8)" fill="#126968" opacity="0.85"/><ellipse cx="541.0" cy="45.9" rx="2.62" ry="1.73" transform="rotate(-20 541.0 45.9)" fill="#198b61" opacity="0.90"/><ellipse cx="588.0" cy="47.1" rx="2.62" ry="1.73" transform="rotate(80 588.0 47.1)" fill="#198b61" opacity="0.90"/><ellipse cx="573.8" cy="46.4" rx="2.62" ry="1.73" transform="rotate(40 573.8 46.4)" fill="#0e494f" opacity="0.55"/><ellipse cx="581.6" cy="47.1" rx="2.62" ry="1.73" transform="rotate(0 581.6 47.1)" fill="#0e494f" opacity="0.55"/><ellipse cx="518.9" cy="47.1" rx="2.62" ry="1.73" transform="rotate(-60 518.9 47.1)" fill="#0e497b" opacity="0.85"/><ellipse cx="560.7" cy="49.2" rx="2.76" ry="1.91" transform="rotate(80 560.7 49.2)" fill="#41ff6d" opacity="1.00"/><ellipse cx="560.7" cy="49.2" rx="1.38" ry="0.95" transform="rotate(80 560.7 49.2)" fill="#8cffb0" opacity=".55"/><ellipse cx="565.6" cy="55.6" rx="2.76" ry="1.91" transform="rotate(80 565.6 55.6)" fill="#41ff6d" opacity="1.00"/><ellipse cx="565.6" cy="55.6" rx="1.38" ry="0.95" transform="rotate(80 565.6 55.6)" fill="#8cffb0" opacity=".55"/><ellipse cx="558.8" cy="56.3" rx="1.84" ry="1.21" transform="rotate(0 558.8 56.3)" fill="#3fd7ad" opacity="1.00"/><ellipse cx="562.4" cy="54.2" rx="1.58" ry="1.04" transform="rotate(0 562.4 54.2)" fill="#198979" opacity="0.90"/><ellipse cx="573.8" cy="52.1" rx="2.62" ry="1.73" transform="rotate(-20 573.8 52.1)" fill="#0e494f" opacity="0.55"/><ellipse cx="579.5" cy="57.1" rx="2.62" ry="1.73" transform="rotate(80 579.5 57.1)" fill="#0e494f" opacity="0.55"/><ellipse cx="541.7" cy="61.6" rx="2.62" ry="1.73" transform="rotate(-30 541.7 61.6)" fill="#198b61" opacity="0.90"/><ellipse cx="520.3" cy="62.8" rx="2.62" ry="1.73" transform="rotate(-20 520.3 62.8)" fill="#126968" opacity="0.85"/><ellipse cx="530.3" cy="62.8" rx="2.62" ry="1.73" transform="rotate(80 530.3 62.8)" fill="#0e497b" opacity="0.85"/><ellipse cx="558.8" cy="66.3" rx="3.15" ry="2.08" transform="rotate(0 558.8 66.3)" fill="#1251b2" opacity="0.90"/><ellipse cx="570.9" cy="66.3" rx="2.62" ry="1.73" transform="rotate(-20 570.9 66.3)" fill="#198b61" opacity="0.90"/><ellipse cx="587.3" cy="64.9" rx="2.62" ry="1.73" transform="rotate(20 587.3 64.9)" fill="#198b61" opacity="0.90"/><ellipse cx="565.9" cy="71.3" rx="2.62" ry="1.73" transform="rotate(60 565.9 71.3)" fill="#126968" opacity="0.85"/><ellipse cx="577.3" cy="63.5" rx="2.62" ry="1.73" transform="rotate(60 577.3 63.5)" fill="#0e494f" opacity="0.55"/><ellipse cx="531.7" cy="71.3" rx="2.62" ry="1.73" transform="rotate(0 531.7 71.3)" fill="#0e494f" opacity="0.55"/><ellipse cx="550.2" cy="72.0" rx="2.62" ry="1.73" transform="rotate(-20 550.2 72.0)" fill="#0e494f" opacity="0.55"/><ellipse cx="616.7" cy="3.6" rx="2.62" ry="1.73" transform="rotate(-60 616.7 3.6)" fill="#198b61" opacity="0.90"/><ellipse cx="643.1" cy="0.7" rx="2.62" ry="1.73" transform="rotate(20 643.1 0.7)" fill="#198b61" opacity="0.90"/><ellipse cx="629.5" cy="6.4" rx="2.62" ry="1.73" transform="rotate(20 629.5 6.4)" fill="#1251b2" opacity="0.90"/><ellipse cx="655.2" cy="5.7" rx="2.62" ry="1.73" transform="rotate(80 655.2 5.7)" fill="#126968" opacity="0.85"/><ellipse cx="663.8" cy="10.7" rx="2.62" ry="1.73" transform="rotate(40 663.8 10.7)" fill="#126968" opacity="0.85"/><ellipse cx="661.6" cy="18.5" rx="2.62" ry="1.73" transform="rotate(80 661.6 18.5)" fill="#198b61" opacity="0.90"/><ellipse cx="601.0" cy="27.1" rx="2.62" ry="1.73" transform="rotate(40 601.0 27.1)" fill="#126968" opacity="0.85"/><ellipse cx="609.5" cy="22.8" rx="2.62" ry="1.73" transform="rotate(-20 609.5 22.8)" fill="#126968" opacity="0.85"/><ellipse cx="614.5" cy="30.7" rx="2.62" ry="1.73" transform="rotate(20 614.5 30.7)" fill="#0e497b" opacity="0.85"/><ellipse cx="621.0" cy="30.7" rx="2.62" ry="1.73" transform="rotate(80 621.0 30.7)" fill="#0e497b" opacity="0.85"/><ellipse cx="627.4" cy="35.0" rx="2.62" ry="1.73" transform="rotate(80 627.4 35.0)" fill="#126968" opacity="0.85"/><ellipse cx="654.5" cy="33.5" rx="2.62" ry="1.73" transform="rotate(-40 654.5 33.5)" fill="#0e494f" opacity="0.55"/><ellipse cx="659.5" cy="35.0" rx="2.62" ry="1.73" transform="rotate(80 659.5 35.0)" fill="#126968" opacity="0.85"/><ellipse cx="663.8" cy="42.8" rx="2.62" ry="1.73" transform="rotate(40 663.8 42.8)" fill="#126968" opacity="0.85"/><ellipse cx="600.3" cy="38.5" rx="2.62" ry="1.73" transform="rotate(80 600.3 38.5)" fill="#198b61" opacity="0.90"/><ellipse cx="641.6" cy="37.8" rx="2.62" ry="1.73" transform="rotate(80 641.6 37.8)" fill="#126968" opacity="0.85"/><ellipse cx="619.5" cy="41.4" rx="2.62" ry="1.73" transform="rotate(20 619.5 41.4)" fill="#126968" opacity="0.85"/><ellipse cx="650.2" cy="42.8" rx="2.62" ry="1.73" transform="rotate(-40 650.2 42.8)" fill="#1251b2" opacity="0.90"/><ellipse cx="601.0" cy="47.1" rx="2.62" ry="1.73" transform="rotate(80 601.0 47.1)" fill="#3fd7ad" opacity="1.00"/><ellipse cx="642.4" cy="46.4" rx="2.62" ry="1.73" transform="rotate(-20 642.4 46.4)" fill="#1251b2" opacity="0.90"/><ellipse cx="593.1" cy="50.6" rx="2.62" ry="1.73" transform="rotate(-60 593.1 50.6)" fill="#0e497b" opacity="0.85"/><ellipse cx="614.5" cy="50.6" rx="2.62" ry="1.73" transform="rotate(0 614.5 50.6)" fill="#0e494f" opacity="0.55"/><ellipse cx="632.4" cy="49.2" rx="2.62" ry="1.73" transform="rotate(80 632.4 49.2)" fill="#0e494f" opacity="0.55"/><ellipse cx="619.5" cy="54.9" rx="1.84" ry="1.21" transform="rotate(0 619.5 54.9)" fill="#27c766" opacity="1.00"/><ellipse cx="651.6" cy="54.9" rx="2.62" ry="1.73" transform="rotate(20 651.6 54.9)" fill="#27c766" opacity="1.00"/><ellipse cx="626.0" cy="56.3" rx="2.62" ry="1.73" transform="rotate(-40 626.0 56.3)" fill="#0e497b" opacity="0.85"/><ellipse cx="633.1" cy="57.8" rx="2.62" ry="1.73" transform="rotate(20 633.1 57.8)" fill="#0e497b" opacity="0.85"/><ellipse cx="640.2" cy="56.3" rx="2.62" ry="1.73" transform="rotate(0 640.2 56.3)" fill="#0e494f" opacity="0.55"/><ellipse cx="595.3" cy="59.2" rx="2.62" ry="1.73" transform="rotate(40 595.3 59.2)" fill="#126968" opacity="0.85"/><ellipse cx="661.6" cy="62.1" rx="2.62" ry="1.73" transform="rotate(60 661.6 62.1)" fill="#1251b2" opacity="0.90"/><ellipse cx="623.8" cy="62.8" rx="2.62" ry="1.73" transform="rotate(20 623.8 62.8)" fill="#126968" opacity="0.85"/><ellipse cx="652.3" cy="61.3" rx="2.62" ry="1.73" transform="rotate(0 652.3 61.3)" fill="#0e494f" opacity="0.55"/><ellipse cx="592.4" cy="67.0" rx="2.62" ry="1.73" transform="rotate(0 592.4 67.0)" fill="#198b61" opacity="0.90"/><ellipse cx="603.8" cy="67.0" rx="2.62" ry="1.73" transform="rotate(-40 603.8 67.0)" fill="#0e497b" opacity="0.85"/><ellipse cx="635.9" cy="66.3" rx="2.62" ry="1.73" transform="rotate(60 635.9 66.3)" fill="#0e494f" opacity="0.55"/><ellipse cx="645.9" cy="71.3" rx="2.62" ry="1.73" transform="rotate(20 645.9 71.3)" fill="#126968" opacity="0.85"/><ellipse cx="615.3" cy="71.3" rx="2.62" ry="1.73" transform="rotate(60 615.3 71.3)" fill="#0e494f" opacity="0.55"/><ellipse cx="628.8" cy="74.2" rx="2.62" ry="1.73" transform="rotate(-20 628.8 74.2)" fill="#198979" opacity="0.90"/><ellipse cx="557.4" cy="77.1" rx="2.62" ry="1.73" transform="rotate(40 557.4 77.1)" fill="#198b61" opacity="0.90"/><ellipse cx="576.6" cy="77.1" rx="2.62" ry="1.73" transform="rotate(-60 576.6 77.1)" fill="#1251b2" opacity="0.90"/><ellipse cx="536.0" cy="80.0" rx="2.62" ry="1.73" transform="rotate(20 536.0 80.0)" fill="#126968" opacity="0.85"/><ellipse cx="565.2" cy="80.0" rx="2.62" ry="1.73" transform="rotate(-20 565.2 80.0)" fill="#0e494f" opacity="0.55"/><ellipse cx="519.6" cy="82.8" rx="2.62" ry="1.73" transform="rotate(-60 519.6 82.8)" fill="#126968" opacity="0.85"/><ellipse cx="548.8" cy="84.3" rx="2.62" ry="1.73" transform="rotate(80 548.8 84.3)" fill="#198979" opacity="0.90"/><ellipse cx="582.3" cy="84.3" rx="3.15" ry="2.08" transform="rotate(0 582.3 84.3)" fill="#198b61" opacity="0.90"/><ellipse cx="542.4" cy="87.8" rx="2.62" ry="1.73" transform="rotate(40 542.4 87.8)" fill="#1251b2" opacity="0.90"/><ellipse cx="526.7" cy="85.7" rx="2.62" ry="1.73" transform="rotate(-20 526.7 85.7)" fill="#126968" opacity="0.85"/><ellipse cx="580.9" cy="89.3" rx="3.15" ry="2.08" transform="rotate(0 580.9 89.3)" fill="#106342" opacity="0.80"/><ellipse cx="563.1" cy="88.6" rx="2.62" ry="1.73" transform="rotate(80 563.1 88.6)" fill="#0e494f" opacity="0.55"/><ellipse cx="529.6" cy="92.1" rx="2.62" ry="1.73" transform="rotate(-60 529.6 92.1)" fill="#0e494f" opacity="0.55"/><ellipse cx="583.0" cy="93.5" rx="2.62" ry="1.73" transform="rotate(20 583.0 93.5)" fill="#106342" opacity="0.80"/><ellipse cx="548.1" cy="93.5" rx="2.62" ry="1.73" transform="rotate(-20 548.1 93.5)" fill="#126968" opacity="0.85"/><ellipse cx="572.3" cy="96.4" rx="2.62" ry="1.73" transform="rotate(40 572.3 96.4)" fill="#0e494f" opacity="0.55"/><ellipse cx="566.6" cy="100.0" rx="2.62" ry="1.73" transform="rotate(60 566.6 100.0)" fill="#126968" opacity="0.85"/><ellipse cx="526.0" cy="100.7" rx="2.62" ry="1.73" transform="rotate(-60 526.0 100.7)" fill="#0e497b" opacity="0.85"/><ellipse cx="555.9" cy="100.7" rx="2.62" ry="1.73" transform="rotate(60 555.9 100.7)" fill="#0e494f" opacity="0.55"/><ellipse cx="535.3" cy="105.7" rx="2.62" ry="1.73" transform="rotate(0 535.3 105.7)" fill="#3fd7ad" opacity="1.00"/><ellipse cx="569.5" cy="105.7" rx="1.84" ry="1.21" transform="rotate(0 569.5 105.7)" fill="#3fd7ad" opacity="1.00"/><ellipse cx="589.5" cy="107.1" rx="2.62" ry="1.73" transform="rotate(20 589.5 107.1)" fill="#1251b2" opacity="0.90"/><ellipse cx="549.5" cy="109.2" rx="2.62" ry="1.73" transform="rotate(-20 549.5 109.2)" fill="#126968" opacity="0.85"/><ellipse cx="582.3" cy="110.0" rx="2.62" ry="1.73" transform="rotate(-20 582.3 110.0)" fill="#0e494f" opacity="0.55"/><ellipse cx="520.3" cy="114.9" rx="2.62" ry="1.73" transform="rotate(-20 520.3 114.9)" fill="#1251b2" opacity="0.90"/><ellipse cx="543.1" cy="112.8" rx="2.62" ry="1.73" transform="rotate(0 543.1 112.8)" fill="#0e494f" opacity="0.55"/><ellipse cx="529.6" cy="117.1" rx="2.62" ry="1.73" transform="rotate(-20 529.6 117.1)" fill="#0e497b" opacity="0.85"/><ellipse cx="576.6" cy="116.4" rx="2.62" ry="1.73" transform="rotate(0 576.6 116.4)" fill="#0e494f" opacity="0.55"/><ellipse cx="546.0" cy="119.2" rx="2.62" ry="1.73" transform="rotate(-40 546.0 119.2)" fill="#3fd7ad" opacity="1.00"/><ellipse cx="563.8" cy="119.9" rx="2.62" ry="1.73" transform="rotate(80 563.8 119.9)" fill="#198b61" opacity="0.90"/><ellipse cx="570.9" cy="119.9" rx="2.62" ry="1.73" transform="rotate(-40 570.9 119.9)" fill="#198979" opacity="0.90"/><ellipse cx="568.1" cy="122.8" rx="1.84" ry="1.21" transform="rotate(0 568.1 122.8)" fill="#1251b2" opacity="0.90"/><ellipse cx="582.3" cy="120.6" rx="2.62" ry="1.73" transform="rotate(80 582.3 120.6)" fill="#3fd7ad" opacity="1.00"/><ellipse cx="521.7" cy="124.9" rx="2.62" ry="1.73" transform="rotate(20 521.7 124.9)" fill="#0e497b" opacity="0.85"/><ellipse cx="526.7" cy="124.2" rx="2.62" ry="1.73" transform="rotate(-20 526.7 124.2)" fill="#0e497b" opacity="0.85"/><ellipse cx="585.2" cy="129.2" rx="2.62" ry="1.73" transform="rotate(0 585.2 129.2)" fill="#198979" opacity="0.90"/><ellipse cx="576.6" cy="129.2" rx="1.84" ry="1.21" transform="rotate(0 576.6 129.2)" fill="#198b61" opacity="0.90"/><ellipse cx="533.8" cy="129.2" rx="2.62" ry="1.73" transform="rotate(-20 533.8 129.2)" fill="#0e494f" opacity="0.55"/><ellipse cx="551.0" cy="129.9" rx="2.62" ry="1.73" transform="rotate(0 551.0 129.9)" fill="#0e494f" opacity="0.55"/><ellipse cx="542.4" cy="132.1" rx="2.62" ry="1.73" transform="rotate(20 542.4 132.1)" fill="#3fd7ad" opacity="1.00"/><ellipse cx="524.6" cy="132.8" rx="2.62" ry="1.73" transform="rotate(0 524.6 132.8)" fill="#0e494f" opacity="0.55"/><ellipse cx="561.6" cy="135.6" rx="2.62" ry="1.73" transform="rotate(-60 561.6 135.6)" fill="#0e494f" opacity="0.55"/><ellipse cx="571.6" cy="137.1" rx="3.15" ry="2.08" transform="rotate(0 571.6 137.1)" fill="#27c766" opacity="1.00"/><ellipse cx="589.5" cy="138.5" rx="2.62" ry="1.73" transform="rotate(-40 589.5 138.5)" fill="#198979" opacity="0.90"/><ellipse cx="534.5" cy="136.3" rx="2.62" ry="1.73" transform="rotate(60 534.5 136.3)" fill="#0e494f" opacity="0.55"/><ellipse cx="551.7" cy="142.0" rx="2.62" ry="1.73" transform="rotate(-60 551.7 142.0)" fill="#0e494f" opacity="0.55"/><ellipse cx="520.3" cy="144.9" rx="2.62" ry="1.73" transform="rotate(40 520.3 144.9)" fill="#126968" opacity="0.85"/><ellipse cx="533.8" cy="144.2" rx="2.62" ry="1.73" transform="rotate(40 533.8 144.2)" fill="#126968" opacity="0.85"/><ellipse cx="570.9" cy="144.2" rx="2.62" ry="1.73" transform="rotate(20 570.9 144.2)" fill="#1251b2" opacity="0.90"/><ellipse cx="560.9" cy="144.9" rx="2.62" ry="1.73" transform="rotate(80 560.9 144.9)" fill="#126968" opacity="0.85"/><ellipse cx="583.0" cy="145.6" rx="2.62" ry="1.73" transform="rotate(-40 583.0 145.6)" fill="#0e494f" opacity="0.55"/><ellipse cx="628.8" cy="76.4" rx="2.62" ry="1.73" transform="rotate(-60 628.8 76.4)" fill="#1251b2" opacity="0.90"/><ellipse cx="601.0" cy="76.4" rx="2.62" ry="1.73" transform="rotate(60 601.0 76.4)" fill="#0e497b" opacity="0.85"/><ellipse cx="593.9" cy="80.0" rx="2.62" ry="1.73" transform="rotate(80 593.9 80.0)" fill="#0e497b" opacity="0.85"/><ellipse cx="608.1" cy="81.4" rx="2.62" ry="1.73" transform="rotate(-20 608.1 81.4)" fill="#126968" opacity="0.85"/><ellipse cx="635.2" cy="85.0" rx="2.62" ry="1.73" transform="rotate(80 635.2 85.0)" fill="#126968" opacity="0.85"/><ellipse cx="656.6" cy="85.0" rx="2.62" ry="1.73" transform="rotate(20 656.6 85.0)" fill="#0e494f" opacity="0.55"/><ellipse cx="623.1" cy="92.8" rx="2.62" ry="1.73" transform="rotate(-30 623.1 92.8)" fill="#198b61" opacity="0.90"/><ellipse cx="595.3" cy="92.1" rx="2.62" ry="1.73" transform="rotate(0 595.3 92.1)" fill="#0e494f" opacity="0.55"/><ellipse cx="606.0" cy="90.7" rx="2.62" ry="1.73" transform="rotate(-20 606.0 90.7)" fill="#0e494f" opacity="0.55"/><ellipse cx="642.1" cy="95.4" rx="2.76" ry="1.91" transform="rotate(40 642.1 95.4)" fill="#41ff6d" opacity="1.00"/><ellipse cx="642.1" cy="95.4" rx="1.38" ry="0.95" transform="rotate(40 642.1 95.4)" fill="#8cffb0" opacity=".55"/><ellipse cx="653.8" cy="97.1" rx="2.62" ry="1.73" transform="rotate(-60 653.8 97.1)" fill="#126968" opacity="0.85"/><ellipse cx="601.7" cy="96.4" rx="2.62" ry="1.73" transform="rotate(-20 601.7 96.4)" fill="#0e497b" opacity="0.85"/><ellipse cx="608.8" cy="100.0" rx="2.62" ry="1.73" transform="rotate(40 608.8 100.0)" fill="#126968" opacity="0.85"/><ellipse cx="613.8" cy="101.4" rx="2.62" ry="1.73" transform="rotate(-60 613.8 101.4)" fill="#198979" opacity="0.90"/><ellipse cx="626.0" cy="100.0" rx="2.62" ry="1.73" transform="rotate(40 626.0 100.0)" fill="#0e494f" opacity="0.55"/><ellipse cx="635.9" cy="102.1" rx="2.62" ry="1.73" transform="rotate(80 635.9 102.1)" fill="#198b61" opacity="0.90"/><ellipse cx="620.2" cy="105.0" rx="2.76" ry="1.91" transform="rotate(80 620.2 105.0)" fill="#41ff6d" opacity="1.00"/><ellipse cx="620.2" cy="105.0" rx="1.38" ry="0.95" transform="rotate(80 620.2 105.0)" fill="#8cffb0" opacity=".55"/><ellipse cx="661.6" cy="106.4" rx="2.62" ry="1.73" transform="rotate(80 661.6 106.4)" fill="#198b61" opacity="0.90"/><ellipse cx="599.6" cy="109.2" rx="1.84" ry="1.21" transform="rotate(0 599.6 109.2)" fill="#3fd7ad" opacity="1.00"/><ellipse cx="644.5" cy="107.1" rx="2.62" ry="1.73" transform="rotate(-40 644.5 107.1)" fill="#0e494f" opacity="0.55"/><ellipse cx="593.9" cy="107.8" rx="2.62" ry="1.73" transform="rotate(-40 593.9 107.8)" fill="#0e497b" opacity="0.85"/><ellipse cx="643.8" cy="114.2" rx="2.62" ry="1.73" transform="rotate(40 643.8 114.2)" fill="#198979" opacity="0.90"/><ellipse cx="625.2" cy="115.7" rx="2.62" ry="1.73" transform="rotate(0 625.2 115.7)" fill="#0e497b" opacity="0.85"/><ellipse cx="612.4" cy="119.9" rx="2.62" ry="1.73" transform="rotate(40 612.4 119.9)" fill="#198b61" opacity="0.90"/><ellipse cx="632.4" cy="121.4" rx="2.62" ry="1.73" transform="rotate(60 632.4 121.4)" fill="#126968" opacity="0.85"/><ellipse cx="597.4" cy="124.9" rx="2.62" ry="1.73" transform="rotate(-60 597.4 124.9)" fill="#0e494f" opacity="0.55"/><ellipse cx="663.8" cy="124.2" rx="2.62" ry="1.73" transform="rotate(20 663.8 124.2)" fill="#1251b2" opacity="0.90"/><ellipse cx="657.3" cy="127.8" rx="1.58" ry="1.04" transform="rotate(0 657.3 127.8)" fill="#1251b2" opacity="0.90"/><ellipse cx="660.2" cy="130.6" rx="1.58" ry="1.04" transform="rotate(0 660.2 130.6)" fill="#1251b2" opacity="0.90"/><ellipse cx="624.5" cy="129.9" rx="3.03" ry="2.10" transform="rotate(0 624.5 129.9)" fill="#41ff6d" opacity="1.00"/><ellipse cx="624.5" cy="129.9" rx="1.52" ry="1.05" transform="rotate(0 624.5 129.9)" fill="#8cffb0" opacity=".55"/><ellipse cx="644.5" cy="131.3" rx="2.62" ry="1.73" transform="rotate(-40 644.5 131.3)" fill="#1251b2" opacity="0.90"/><ellipse cx="609.5" cy="132.8" rx="2.62" ry="1.73" transform="rotate(80 609.5 132.8)" fill="#0e494f" opacity="0.55"/><ellipse cx="596.0" cy="137.8" rx="2.62" ry="1.73" transform="rotate(80 596.0 137.8)" fill="#0e494f" opacity="0.55"/><ellipse cx="659.5" cy="139.9" rx="3.15" ry="2.08" transform="rotate(0 659.5 139.9)" fill="#27c766" opacity="1.00"/><ellipse cx="622.4" cy="139.2" rx="2.62" ry="1.73" transform="rotate(-60 622.4 139.2)" fill="#0e494f" opacity="0.55"/><ellipse cx="633.8" cy="140.6" rx="2.62" ry="1.73" transform="rotate(-20 633.8 140.6)" fill="#0e497b" opacity="0.85"/><ellipse cx="613.8" cy="142.8" rx="2.62" ry="1.73" transform="rotate(-60 613.8 142.8)" fill="#0e494f" opacity="0.55"/><ellipse cx="597.4" cy="144.9" rx="2.62" ry="1.73" transform="rotate(0 597.4 144.9)" fill="#0e497b" opacity="0.85"/><ellipse cx="645.2" cy="147.0" rx="2.62" ry="1.73" transform="rotate(-40 645.2 147.0)" fill="#198b61" opacity="0.90"/><ellipse cx="630.2" cy="144.9" rx="2.62" ry="1.73" transform="rotate(0 630.2 144.9)" fill="#0e494f" opacity="0.55"/><ellipse cx="665.2" cy="135.6" rx="2.62" ry="1.73" transform="rotate(-20 665.2 135.6)" fill="#0e494f" opacity="0.55"/><ellipse cx="526.6" cy="6.0" rx="2.62" ry="1.73" transform="rotate(-20 526.6 6.0)" fill="#0e494f" opacity="0.55"/><ellipse cx="616.8" cy="111.3" rx="2.62" ry="1.73" transform="rotate(-40 616.8 111.3)" fill="#0e494f" opacity="0.55"/><ellipse cx="546.5" cy="37.5" rx="2.62" ry="1.73" transform="rotate(20 546.5 37.5)" fill="#0e497b" opacity="0.85"/><ellipse cx="647.9" cy="86.3" rx="2.62" ry="1.73" transform="rotate(20 647.9 86.3)" fill="#0e494f" opacity="0.55"/><ellipse cx="663.9" cy="75.8" rx="2.62" ry="1.73" transform="rotate(-60 663.9 75.8)" fill="#0e497b" opacity="0.85"/><ellipse cx="638.2" cy="125.0" rx="2.62" ry="1.73" transform="rotate(-60 638.2 125.0)" fill="#126968" opacity="0.85"/><ellipse cx="545.1" cy="144.5" rx="2.62" ry="1.73" transform="rotate(-40 545.1 144.5)" fill="#0e494f" opacity="0.55"/><ellipse cx="603.3" cy="138.2" rx="2.62" ry="1.73" transform="rotate(0 603.3 138.2)" fill="#0e494f" opacity="0.55"/><ellipse cx="583.5" cy="39.3" rx="2.62" ry="1.73" transform="rotate(20 583.5 39.3)" fill="#0e494f" opacity="0.55"/><ellipse cx="608.8" cy="33.1" rx="2.62" ry="1.73" transform="rotate(-60 608.8 33.1)" fill="#126968" opacity="0.85"/><ellipse cx="547.1" cy="2.7" rx="2.62" ry="1.73" transform="rotate(80 547.1 2.7)" fill="#126968" opacity="0.85"/><ellipse cx="658.1" cy="47.1" rx="2.62" ry="1.73" transform="rotate(0 658.1 47.1)" fill="#0e497b" opacity="0.85"/><ellipse cx="600.8" cy="53.7" rx="2.62" ry="1.73" transform="rotate(80 600.8 53.7)" fill="#0e494f" opacity="0.55"/><ellipse cx="664.5" cy="54.7" rx="2.62" ry="1.73" transform="rotate(-40 664.5 54.7)" fill="#0e494f" opacity="0.55"/><ellipse cx="609.1" cy="55.7" rx="2.62" ry="1.73" transform="rotate(40 609.1 55.7)" fill="#0e494f" opacity="0.55"/><ellipse cx="589.6" cy="119.7" rx="2.62" ry="1.73" transform="rotate(-40 589.6 119.7)" fill="#0e494f" opacity="0.55"/><ellipse cx="549.9" cy="60.7" rx="2.62" ry="1.73" transform="rotate(-20 549.9 60.7)" fill="#0e494f" opacity="0.55"/><ellipse cx="608.6" cy="73.2" rx="2.62" ry="1.73" transform="rotate(-60 608.6 73.2)" fill="#0e497b" opacity="0.85"/><ellipse cx="543.6" cy="70.8" rx="2.62" ry="1.73" transform="rotate(20 543.6 70.8)" fill="#0e497b" opacity="0.85"/><ellipse cx="523.0" cy="94.9" rx="2.62" ry="1.73" transform="rotate(-40 523.0 94.9)" fill="#0e494f" opacity="0.55"/><ellipse cx="529.2" cy="109.2" rx="2.62" ry="1.73" transform="rotate(80 529.2 109.2)" fill="#0e497b" opacity="0.85"/><ellipse cx="525.0" cy="75.3" rx="2.62" ry="1.73" transform="rotate(80 525.0 75.3)" fill="#0e494f" opacity="0.55"/><ellipse cx="637.6" cy="29.6" rx="2.62" ry="1.73" transform="rotate(20 637.6 29.6)" fill="#0e494f" opacity="0.55"/><ellipse cx="568.9" cy="112.5" rx="2.62" ry="1.73" transform="rotate(-40 568.9 112.5)" fill="#0e494f" opacity="0.55"/><ellipse cx="557.7" cy="121.3" rx="2.62" ry="1.73" transform="rotate(-40 557.7 121.3)" fill="#0e494f" opacity="0.55"/><ellipse cx="649.5" cy="25.9" rx="2.62" ry="1.73" transform="rotate(-40 649.5 25.9)" fill="#126968" opacity="0.85"/><ellipse cx="570.2" cy="129.8" rx="2.62" ry="1.73" transform="rotate(60 570.2 129.8)" fill="#0e494f" opacity="0.55"/><ellipse cx="599.2" cy="86.6" rx="2.62" ry="1.73" transform="rotate(-20 599.2 86.6)" fill="#0e497b" opacity="0.85"/><ellipse cx="664.0" cy="93.9" rx="2.62" ry="1.73" transform="rotate(0 664.0 93.9)" fill="#126968" opacity="0.85"/><ellipse cx="662.6" cy="87.4" rx="2.62" ry="1.73" transform="rotate(0 662.6 87.4)" fill="#0e497b" opacity="0.85"/><ellipse cx="569.9" cy="34.1" rx="2.62" ry="1.73" transform="rotate(-20 569.9 34.1)" fill="#126968" opacity="0.85"/><ellipse cx="582.7" cy="139.2" rx="2.62" ry="1.73" transform="rotate(80 582.7 139.2)" fill="#0e494f" opacity="0.55"/><ellipse cx="594.4" cy="40.1" rx="2.62" ry="1.73" transform="rotate(60 594.4 40.1)" fill="#126968" opacity="0.85"/><ellipse cx="519.3" cy="39.4" rx="2.62" ry="1.73" transform="rotate(-20 519.3 39.4)" fill="#126968" opacity="0.85"/><ellipse cx="656.8" cy="111.1" rx="2.62" ry="1.73" transform="rotate(-60 656.8 111.1)" fill="#126968" opacity="0.85"/><ellipse cx="643.9" cy="65.5" rx="2.62" ry="1.73" transform="rotate(60 643.9 65.5)" fill="#0e494f" opacity="0.55"/><ellipse cx="624.2" cy="85.1" rx="2.62" ry="1.73" transform="rotate(60 624.2 85.1)" fill="#0e494f" opacity="0.55"/><ellipse cx="521.0" cy="16.7" rx="2.62" ry="1.73" transform="rotate(-60 521.0 16.7)" fill="#0e494f" opacity="0.55"/><ellipse cx="559.5" cy="15.7" rx="2.62" ry="1.73" transform="rotate(60 559.5 15.7)" fill="#0e494f" opacity="0.55"/><ellipse cx="547.3" cy="48.1" rx="2.62" ry="1.73" transform="rotate(-60 547.3 48.1)" fill="#0e494f" opacity="0.55"/><ellipse cx="591.6" cy="126.6" rx="2.62" ry="1.73" transform="rotate(40 591.6 126.6)" fill="#0e494f" opacity="0.55"/><ellipse cx="589.6" cy="73.5" rx="2.62" ry="1.73" transform="rotate(40 589.6 73.5)" fill="#0e494f" opacity="0.55"/><ellipse cx="633.5" cy="93.6" rx="2.62" ry="1.73" transform="rotate(60 633.5 93.6)" fill="#0e497b" opacity="0.85"/><ellipse cx="569.6" cy="60.2" rx="2.62" ry="1.73" transform="rotate(0 569.6 60.2)" fill="#0e494f" opacity="0.55"/><ellipse cx="647.8" cy="35.5" rx="2.62" ry="1.73" transform="rotate(40 647.8 35.5)" fill="#0e494f" opacity="0.55"/><ellipse cx="626.8" cy="26.0" rx="2.62" ry="1.73" transform="rotate(60 626.8 26.0)" fill="#126968" opacity="0.85"/><ellipse cx="552.2" cy="29.3" rx="2.62" ry="1.73" transform="rotate(40 552.2 29.3)" fill="#0e494f" opacity="0.55"/><ellipse cx="561.6" cy="104.7" rx="2.62" ry="1.73" transform="rotate(60 561.6 104.7)" fill="#0e494f" opacity="0.55"/><ellipse cx="540.1" cy="37.5" rx="2.62" ry="1.73" transform="rotate(-60 540.1 37.5)" fill="#126968" opacity="0.85"/><ellipse cx="634.6" cy="109.2" rx="2.62" ry="1.73" transform="rotate(40 634.6 109.2)" fill="#0e494f" opacity="0.55"/><ellipse cx="617.6" cy="95.6" rx="2.62" ry="1.73" transform="rotate(-20 617.6 95.6)" fill="#0e497b" opacity="0.85"/><ellipse cx="577.6" cy="100.6" rx="2.62" ry="1.73" transform="rotate(40 577.6 100.6)" fill="#0e494f" opacity="0.55"/><ellipse cx="525.4" cy="41.5" rx="2.62" ry="1.73" transform="rotate(0 525.4 41.5)" fill="#0e497b" opacity="0.85"/><ellipse cx="595.0" cy="33.3" rx="2.62" ry="1.73" transform="rotate(60 595.0 33.3)" fill="#0e494f" opacity="0.55"/><ellipse cx="553.3" cy="45.5" rx="2.62" ry="1.73" transform="rotate(-60 553.3 45.5)" fill="#0e494f" opacity="0.55"/><ellipse cx="649.3" cy="117.2" rx="2.62" ry="1.73" transform="rotate(40 649.3 117.2)" fill="#0e494f" opacity="0.55"/><ellipse cx="619.5" cy="79.3" rx="2.62" ry="1.73" transform="rotate(-40 619.5 79.3)" fill="#0e497b" opacity="0.85"/><ellipse cx="537.6" cy="73.7" rx="2.62" ry="1.73" transform="rotate(-20 537.6 73.7)" fill="#0e494f" opacity="0.55"/><ellipse cx="522.0" cy="106.9" rx="2.62" ry="1.73" transform="rotate(-40 522.0 106.9)" fill="#0e494f" opacity="0.55"/><ellipse cx="534.6" cy="120.5" rx="2.62" ry="1.73" transform="rotate(40 534.6 120.5)" fill="#0e497b" opacity="0.85"/><ellipse cx="574.3" cy="88.3" rx="2.62" ry="1.73" transform="rotate(60 574.3 88.3)" fill="#0e497b" opacity="0.85"/><ellipse cx="655.8" cy="145.7" rx="2.62" ry="1.73" transform="rotate(0 655.8 145.7)" fill="#126968" opacity="0.85"/><ellipse cx="622.0" cy="68.9" rx="2.62" ry="1.73" transform="rotate(-60 622.0 68.9)" fill="#0e497b" opacity="0.85"/><ellipse cx="528.8" cy="46.9" rx="2.62" ry="1.73" transform="rotate(0 528.8 46.9)" fill="#126968" opacity="0.85"/><ellipse cx="525.8" cy="55.2" rx="2.62" ry="1.73" transform="rotate(-20 525.8 55.2)" fill="#126968" opacity="0.85"/><ellipse cx="606.7" cy="145.2" rx="2.62" ry="1.73" transform="rotate(60 606.7 145.2)" fill="#0e494f" opacity="0.55"/><ellipse cx="640.0" cy="89.7" rx="2.62" ry="1.73" transform="rotate(60 640.0 89.7)" fill="#0e497b" opacity="0.85"/><ellipse cx="603.8" cy="121.4" rx="2.62" ry="1.73" transform="rotate(80 603.8 121.4)" fill="#126968" opacity="0.85"/><ellipse cx="572.4" cy="16.7" rx="2.62" ry="1.73" transform="rotate(-60 572.4 16.7)" fill="#0e494f" opacity="0.55"/><ellipse cx="589.0" cy="84.7" rx="2.62" ry="1.73" transform="rotate(-60 589.0 84.7)" fill="#126968" opacity="0.85"/></g>
</g>
<g font-family="Liberation Sans, Arial, sans-serif" font-size="12" fill="#f2f2f2" stroke="#f2f2f2" stroke-width="0.55" stroke-linejoin="round">
<text x="127.6" y="20.1" textLength="36" lengthAdjust="spacingAndGlyphs" stroke-width="0.7">DMSO</text>
<text x="254.2" y="21.2" textLength="73.2" lengthAdjust="spacingAndGlyphs">(±)-13 0.37µM</text>
<text x="400.2" y="21.2" textLength="92.6" lengthAdjust="spacingAndGlyphs">NMS-515 0.37µM</text>
<text x="582" y="21.2" textLength="75.4" lengthAdjust="spacingAndGlyphs">(<tspan font-style="italic">R</tspan>)-13 0.37µM</text>
</g>
<g font-family="Liberation Sans, Arial, sans-serif" font-size="18.5" font-weight="bold" fill="#000">
<text x="2.0" y="14.8" textLength="14.2" lengthAdjust="spacingAndGlyphs">A</text>
<text x="127.2" y="175.6" textLength="14.2" lengthAdjust="spacingAndGlyphs">B</text>
</g>
<g stroke="#3a3a3a" stroke-width="1.3" fill="none">
<path d="M177.2 168.8V487.3H453.3"/>
<path d="M172.6 487.3H177.2"/>
<path d="M172.6 423.7H177.2"/>
<path d="M172.6 360.1H177.2"/>
<path d="M172.6 296.5H177.2"/>
<path d="M172.6 232.9H177.2"/>
<path d="M172.6 169.3H177.2"/>
<path d="M177.2 487.3V491"/>
<path d="M216.5 487.3V491"/>
<path d="M255.9 487.3V491"/>
<path d="M295.2 487.3V491"/>
<path d="M334.6 487.3V491"/>
<path d="M373.9 487.3V491"/>
<path d="M413.3 487.3V491"/>
<path d="M452.6 487.3V491"/>
</g>
<polyline points="177.2,487.3 216.5,468.0 255.9,454.8 295.2,432.0 334.6,400.0 373.9,344.4 413.3,300.5 452.6,230.3" fill="none" stroke="#000080" stroke-width="1.12"/>
<path d="M216.5 466.5V469.5M212.9 466.5h7.2M212.9 469.5h7.2" stroke="#34483a" stroke-width="1.3" fill="none"/>
<path d="M255.9 451.8V457.8M252.3 451.8h7.2M252.3 457.8h7.2" stroke="#34483a" stroke-width="1.3" fill="none"/>
<path d="M295.2 426.6V437.4M291.6 426.6h7.2M291.6 437.4h7.2" stroke="#34483a" stroke-width="1.3" fill="none"/>
<path d="M334.6 394.0V406.0M331.0 394.0h7.2M331.0 406.0h7.2" stroke="#34483a" stroke-width="1.3" fill="none"/>
<path d="M373.9 333.8V355.0M370.3 333.8h7.2M370.3 355.0h7.2" stroke="#34483a" stroke-width="1.3" fill="none"/>
<path d="M413.3 280.9V320.1M409.7 280.9h7.2M409.7 320.1h7.2" stroke="#34483a" stroke-width="1.3" fill="none"/>
<path d="M452.6 199.3V261.3M449.0 199.3h7.2M449.0 261.3h7.2" stroke="#34483a" stroke-width="1.3" fill="none"/>
<path d="M173.8 487.3l3.4 -2.9l3.4 2.9l-3.4 2.9z" fill="#000080"/>
<path d="M213.1 468.0l3.4 -2.9l3.4 2.9l-3.4 2.9z" fill="#000080"/>
<path d="M252.5 454.8l3.4 -2.9l3.4 2.9l-3.4 2.9z" fill="#000080"/>
<path d="M291.9 432.0l3.4 -2.9l3.4 2.9l-3.4 2.9z" fill="#000080"/>
<path d="M331.2 400.0l3.4 -2.9l3.4 2.9l-3.4 2.9z" fill="#000080"/>
<path d="M370.6 344.4l3.4 -2.9l3.4 2.9l-3.4 2.9z" fill="#000080"/>
<path d="M409.9 300.5l3.4 -2.9l3.4 2.9l-3.4 2.9z" fill="#000080"/>
<path d="M449.2 230.3l3.4 -2.9l3.4 2.9l-3.4 2.9z" fill="#000080"/>
<polyline points="177.2,487.3 216.5,468.0 255.9,458.9 295.2,445.2 334.6,428.8 373.9,406.5 413.3,389.7 452.6,331.0" fill="none" stroke="#ff00ff" stroke-width="1.12"/>
<path d="M216.5 467.0V469.0M212.9 467.0h7.2M212.9 469.0h7.2" stroke="#ff00ff" stroke-width="1.3" fill="none"/>
<path d="M255.9 456.9V460.9M252.3 456.9h7.2M252.3 460.9h7.2" stroke="#ff00ff" stroke-width="1.3" fill="none"/>
<path d="M295.2 443.2V447.2M291.6 443.2h7.2M291.6 447.2h7.2" stroke="#ff00ff" stroke-width="1.3" fill="none"/>
<path d="M334.6 426.8V430.8M331.0 426.8h7.2M331.0 430.8h7.2" stroke="#ff00ff" stroke-width="1.3" fill="none"/>
<path d="M373.9 404.5V408.5M370.3 404.5h7.2M370.3 408.5h7.2" stroke="#ff00ff" stroke-width="1.3" fill="none"/>
<path d="M413.3 386.7V392.7M409.7 386.7h7.2M409.7 392.7h7.2" stroke="#ff00ff" stroke-width="1.3" fill="none"/>
<path d="M452.6 326.0V336.0M449.0 326.0h7.2M449.0 336.0h7.2" stroke="#ff00ff" stroke-width="1.3" fill="none"/>
<rect x="173.9" y="484.4" width="6.6" height="5.9" fill="#ff00ff"/>
<rect x="213.2" y="465.1" width="6.6" height="5.9" fill="#ff00ff"/>
<rect x="252.6" y="455.9" width="6.6" height="5.9" fill="#ff00ff"/>
<rect x="291.9" y="442.2" width="6.6" height="5.9" fill="#ff00ff"/>
<rect x="331.3" y="425.9" width="6.6" height="5.9" fill="#ff00ff"/>
<rect x="370.6" y="403.6" width="6.6" height="5.9" fill="#ff00ff"/>
<rect x="410.0" y="386.8" width="6.6" height="5.9" fill="#ff00ff"/>
<rect x="449.3" y="328.1" width="6.6" height="5.9" fill="#ff00ff"/>
<polyline points="177.2,487.3 216.5,468.0 255.9,458.9 295.2,445.2 334.6,437.8 373.9,406.5 413.3,386.7 452.6,347.3" fill="none" stroke="#2f5f5f" stroke-width="1.12"/>
<path d="M216.5 467.0V469.0M212.9 467.0h7.2M212.9 469.0h7.2" stroke="#2f5f5f" stroke-width="1.3" fill="none"/>
<path d="M255.9 456.9V460.9M252.3 456.9h7.2M252.3 460.9h7.2" stroke="#2f5f5f" stroke-width="1.3" fill="none"/>
<path d="M295.2 443.2V447.2M291.6 443.2h7.2M291.6 447.2h7.2" stroke="#2f5f5f" stroke-width="1.3" fill="none"/>
<path d="M334.6 434.8V440.8M331.0 434.8h7.2M331.0 440.8h7.2" stroke="#2f5f5f" stroke-width="1.3" fill="none"/>
<path d="M373.9 403.5V409.5M370.3 403.5h7.2M370.3 409.5h7.2" stroke="#2f5f5f" stroke-width="1.3" fill="none"/>
<path d="M413.3 381.2V392.2M409.7 381.2h7.2M409.7 392.2h7.2" stroke="#2f5f5f" stroke-width="1.3" fill="none"/>
<path d="M452.6 339.7V354.9M449.0 339.7h7.2M449.0 354.9h7.2" stroke="#2f5f5f" stroke-width="1.3" fill="none"/>
<path d="M177.2 484.0l3.8 6.4h-7.6z" fill="#2f5f5f"/>
<path d="M216.5 464.7l3.8 6.4h-7.6z" fill="#2f5f5f"/>
<path d="M255.9 455.6l3.8 6.4h-7.6z" fill="#2f5f5f"/>
<path d="M295.2 441.9l3.8 6.4h-7.6z" fill="#2f5f5f"/>
<path d="M334.6 434.5l3.8 6.4h-7.6z" fill="#2f5f5f"/>
<path d="M373.9 403.2l3.8 6.4h-7.6z" fill="#2f5f5f"/>
<path d="M413.3 383.4l3.8 6.4h-7.6z" fill="#2f5f5f"/>
<path d="M452.6 344.0l3.8 6.4h-7.6z" fill="#2f5f5f"/>
<polyline points="177.2,487.3 216.5,468.0 255.9,459.2 295.2,448.0 334.6,435.0 373.9,429.0 413.3,427.1 452.6,410.7" fill="none" stroke="#ff2a2a" stroke-width="1.12"/>
<path d="M216.5 467.0V469.0M212.9 467.0h7.2M212.9 469.0h7.2" stroke="#ff2a2a" stroke-width="1.3" fill="none"/>
<path d="M255.9 457.2V461.2M252.3 457.2h7.2M252.3 461.2h7.2" stroke="#ff2a2a" stroke-width="1.3" fill="none"/>
<path d="M295.2 446.0V450.0M291.6 446.0h7.2M291.6 450.0h7.2" stroke="#ff2a2a" stroke-width="1.3" fill="none"/>
<path d="M334.6 433.0V437.0M331.0 433.0h7.2M331.0 437.0h7.2" stroke="#ff2a2a" stroke-width="1.3" fill="none"/>
<path d="M373.9 426.0V432.0M370.3 426.0h7.2M370.3 432.0h7.2" stroke="#ff2a2a" stroke-width="1.3" fill="none"/>
<path d="M413.3 423.1V431.1M409.7 423.1h7.2M409.7 431.1h7.2" stroke="#ff2a2a" stroke-width="1.3" fill="none"/>
<path d="M452.6 404.1V417.3M449.0 404.1h7.2M449.0 417.3h7.2" stroke="#ff2a2a" stroke-width="1.3" fill="none"/>
<path d="M173.7 484.0l7 6.6m0 -6.6l-7 6.6" stroke="#ff2a2a" stroke-width="0.8" fill="none"/>
<path d="M213.0 464.7l7 6.6m0 -6.6l-7 6.6" stroke="#ff2a2a" stroke-width="0.8" fill="none"/>
<path d="M252.4 455.9l7 6.6m0 -6.6l-7 6.6" stroke="#ff2a2a" stroke-width="0.8" fill="none"/>
<path d="M291.8 444.7l7 6.6m0 -6.6l-7 6.6" stroke="#ff2a2a" stroke-width="0.8" fill="none"/>
<path d="M331.1 431.7l7 6.6m0 -6.6l-7 6.6" stroke="#ff2a2a" stroke-width="0.8" fill="none"/>
<path d="M370.4 425.7l7 6.6m0 -6.6l-7 6.6" stroke="#ff2a2a" stroke-width="0.8" fill="none"/>
<path d="M409.8 423.8l7 6.6m0 -6.6l-7 6.6" stroke="#ff2a2a" stroke-width="0.8" fill="none"/>
<path d="M449.1 407.4l7 6.6m0 -6.6l-7 6.6" stroke="#ff2a2a" stroke-width="0.8" fill="none"/>
<g font-family="Liberation Sans, Arial, sans-serif" font-size="14" fill="#1a1a1a">
<path d="M207.8 174.1H237.5" stroke="#000080" stroke-width="1.0" opacity=".8"/>
<path d="M218.9 174.1l3.4 -2.9l3.4 2.9l-3.4 2.9z" fill="#000080"/>
<text x="240.3" y="176.7">Control</text>
<path d="M207.8 194.6H237.5" stroke="#ff00ff" stroke-width="1.0" opacity=".8"/>
<rect x="219.0" y="191.7" width="6.6" height="5.9" fill="#ff00ff"/>
<text x="240.3" y="197.2">NMS-P515</text>
<path d="M207.8 215.1H237.5" stroke="#2f5f5f" stroke-width="1.0" opacity=".8"/>
<path d="M222.3 211.8l3.8 6.4h-7.6z" fill="#2f5f5f"/>
<text x="240.3" y="217.4">TMZ</text>
<path d="M207.8 235.7H237.5" stroke="#ff2a2a" stroke-width="1.0" opacity=".8"/>
<path d="M218.8 232.4l7 6.6m0 -6.6l-7 6.6" stroke="#ff2a2a" stroke-width="0.8" fill="none"/>
<text x="240.3" y="238.0">TMZ+NMS-P515</text>
</g>
<g font-family="Liberation Sans, Arial, sans-serif" font-size="12.7" fill="#1a1a1a" stroke="#1a1a1a" stroke-width="0.25">
<text x="146.2" y="489.7" textLength="20.9" lengthAdjust="spacingAndGlyphs">0.0</text>
<text x="146.2" y="426.0" textLength="20.9" lengthAdjust="spacingAndGlyphs">0.5</text>
<text x="146.2" y="363.2" textLength="20.9" lengthAdjust="spacingAndGlyphs">1.0</text>
<text x="146.2" y="299.5" textLength="20.9" lengthAdjust="spacingAndGlyphs">1.5</text>
<text x="146.2" y="236.7" textLength="20.9" lengthAdjust="spacingAndGlyphs">2.0</text>
<text x="146.2" y="172.2" textLength="20.9" lengthAdjust="spacingAndGlyphs">2.5</text>
<text x="177.2" y="509" text-anchor="middle" textLength="7.3" lengthAdjust="spacingAndGlyphs">0</text>
<text x="216.5" y="509" text-anchor="middle" textLength="14.7" lengthAdjust="spacingAndGlyphs">10</text>
<text x="255.9" y="509" text-anchor="middle" textLength="14.7" lengthAdjust="spacingAndGlyphs">12</text>
<text x="295.2" y="509" text-anchor="middle" textLength="14.7" lengthAdjust="spacingAndGlyphs">14</text>
<text x="334.6" y="509" text-anchor="middle" textLength="14.7" lengthAdjust="spacingAndGlyphs">17</text>
<text x="373.9" y="509" text-anchor="middle" textLength="14.7" lengthAdjust="spacingAndGlyphs">22</text>
<text x="413.3" y="509" text-anchor="middle" textLength="14.7" lengthAdjust="spacingAndGlyphs">25</text>
<text x="452.6" y="509" text-anchor="middle" textLength="14.7" lengthAdjust="spacingAndGlyphs">29</text>
</g>
<g font-family="Liberation Sans, Arial, sans-serif" font-size="12.2" font-weight="bold" fill="#111">
<text x="315" y="523.5">Days</text>
<text transform="translate(142.5 375.2) rotate(-90)">Tumor weight (cm<tspan font-size="7.5" dy="-4">3</tspan><tspan dy="4">)</tspan></text>
</g>
</svg></body></html>
